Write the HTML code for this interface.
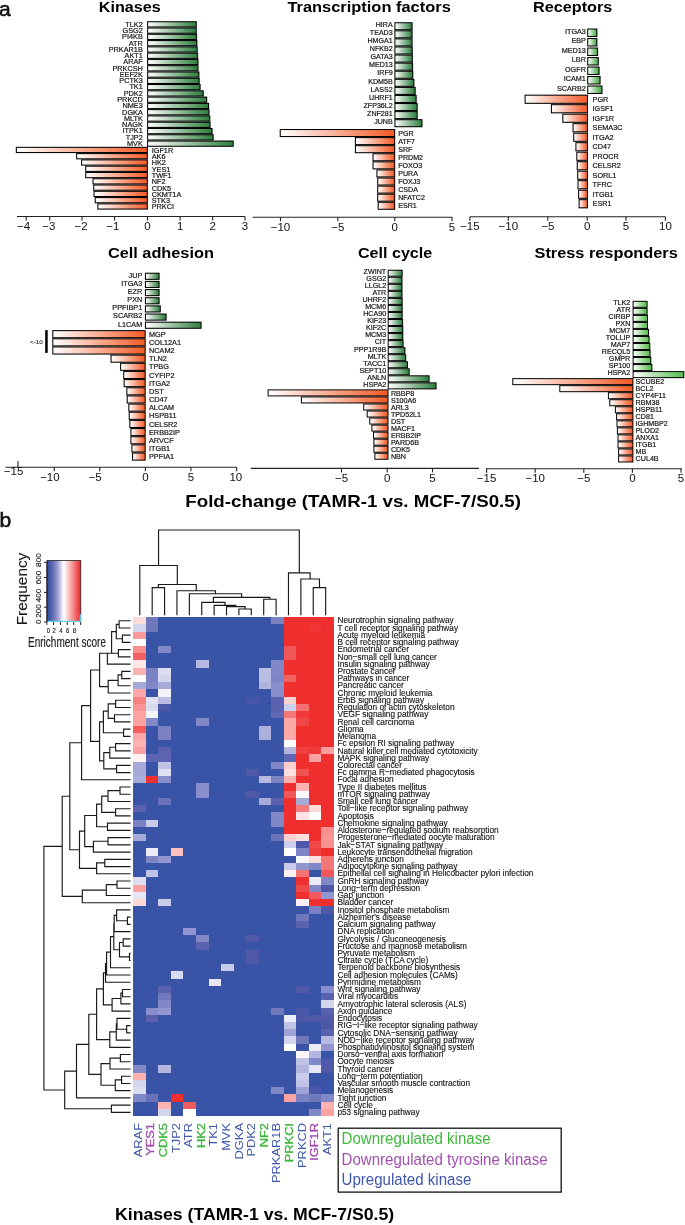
<!DOCTYPE html>
<html><head><meta charset="utf-8"><style>
html,body{margin:0;padding:0;background:#fff;}
svg{display:block;font-family:"Liberation Sans",sans-serif;will-change:transform;}
</style></head><body>
<svg width="685" height="1225" viewBox="0 0 685 1225">
<rect width="685" height="1225" fill="#fff"/>
<linearGradient id="gk" x1="0" x2="1" y1="0" y2="0"><stop offset="0" stop-color="#ffffff"/><stop offset="1" stop-color="#2f7f3f"/></linearGradient>
<linearGradient id="rk" x1="0" x2="1" y1="0" y2="0"><stop offset="0" stop-color="#ffffff"/><stop offset="1" stop-color="#f45a26"/></linearGradient>
<rect x="147.10" y="21.20" width="49.70" height="6.28" fill="#000"/>
<rect x="148.15" y="22.25" width="47.60" height="4.18" fill="url(#gk)"/>
<text x="142.80" y="26.67" font-size="7.3" text-anchor="end" fill="#1a1a1a" stroke="#111" stroke-width="0.2">TLK2</text>
<rect x="147.10" y="27.48" width="49.70" height="6.28" fill="#000"/>
<rect x="148.15" y="28.53" width="47.60" height="4.18" fill="url(#gk)"/>
<text x="142.80" y="32.95" font-size="7.3" text-anchor="end" fill="#1a1a1a" stroke="#111" stroke-width="0.2">GSG2</text>
<rect x="147.10" y="33.76" width="50.00" height="6.28" fill="#000"/>
<rect x="148.15" y="34.81" width="47.90" height="4.18" fill="url(#gk)"/>
<text x="142.80" y="39.23" font-size="7.3" text-anchor="end" fill="#1a1a1a" stroke="#111" stroke-width="0.2">PI4KB</text>
<rect x="147.10" y="40.04" width="50.30" height="6.28" fill="#000"/>
<rect x="148.15" y="41.09" width="48.20" height="4.18" fill="url(#gk)"/>
<text x="142.80" y="45.51" font-size="7.3" text-anchor="end" fill="#1a1a1a" stroke="#111" stroke-width="0.2">ATR</text>
<rect x="147.10" y="46.32" width="50.60" height="6.28" fill="#000"/>
<rect x="148.15" y="47.37" width="48.50" height="4.18" fill="url(#gk)"/>
<text x="142.80" y="51.79" font-size="7.3" text-anchor="end" fill="#1a1a1a" stroke="#111" stroke-width="0.2">PRKAR1B</text>
<rect x="147.10" y="52.60" width="51.00" height="6.28" fill="#000"/>
<rect x="148.15" y="53.65" width="48.90" height="4.18" fill="url(#gk)"/>
<text x="142.80" y="58.07" font-size="7.3" text-anchor="end" fill="#1a1a1a" stroke="#111" stroke-width="0.2">AKT1</text>
<rect x="147.10" y="58.88" width="51.40" height="6.28" fill="#000"/>
<rect x="148.15" y="59.93" width="49.30" height="4.18" fill="url(#gk)"/>
<text x="142.80" y="64.35" font-size="7.3" text-anchor="end" fill="#1a1a1a" stroke="#111" stroke-width="0.2">ARAF</text>
<rect x="147.10" y="65.16" width="51.40" height="6.28" fill="#000"/>
<rect x="148.15" y="66.21" width="49.30" height="4.18" fill="url(#gk)"/>
<text x="142.80" y="70.63" font-size="7.3" text-anchor="end" fill="#1a1a1a" stroke="#111" stroke-width="0.2">PRKCSH</text>
<rect x="147.10" y="71.44" width="52.30" height="6.28" fill="#000"/>
<rect x="148.15" y="72.49" width="50.20" height="4.18" fill="url(#gk)"/>
<text x="142.80" y="76.91" font-size="7.3" text-anchor="end" fill="#1a1a1a" stroke="#111" stroke-width="0.2">EEF2K</text>
<rect x="147.10" y="77.72" width="52.60" height="6.28" fill="#000"/>
<rect x="148.15" y="78.77" width="50.50" height="4.18" fill="url(#gk)"/>
<text x="142.80" y="83.19" font-size="7.3" text-anchor="end" fill="#1a1a1a" stroke="#111" stroke-width="0.2">PCTK3</text>
<rect x="147.10" y="84.00" width="53.50" height="6.28" fill="#000"/>
<rect x="148.15" y="85.05" width="51.40" height="4.18" fill="url(#gk)"/>
<text x="142.80" y="89.47" font-size="7.3" text-anchor="end" fill="#1a1a1a" stroke="#111" stroke-width="0.2">TK1</text>
<rect x="147.10" y="90.28" width="56.70" height="6.28" fill="#000"/>
<rect x="148.15" y="91.33" width="54.60" height="4.18" fill="url(#gk)"/>
<text x="142.80" y="95.75" font-size="7.3" text-anchor="end" fill="#1a1a1a" stroke="#111" stroke-width="0.2">PDK2</text>
<rect x="147.10" y="96.56" width="60.10" height="6.28" fill="#000"/>
<rect x="148.15" y="97.61" width="58.00" height="4.18" fill="url(#gk)"/>
<text x="142.80" y="102.03" font-size="7.3" text-anchor="end" fill="#1a1a1a" stroke="#111" stroke-width="0.2">PRKCD</text>
<rect x="147.10" y="102.84" width="62.00" height="6.28" fill="#000"/>
<rect x="148.15" y="103.89" width="59.90" height="4.18" fill="url(#gk)"/>
<text x="142.80" y="108.31" font-size="7.3" text-anchor="end" fill="#1a1a1a" stroke="#111" stroke-width="0.2">NME3</text>
<rect x="147.10" y="109.12" width="62.40" height="6.28" fill="#000"/>
<rect x="148.15" y="110.17" width="60.30" height="4.18" fill="url(#gk)"/>
<text x="142.80" y="114.59" font-size="7.3" text-anchor="end" fill="#1a1a1a" stroke="#111" stroke-width="0.2">DGKA</text>
<rect x="147.10" y="115.40" width="63.20" height="6.28" fill="#000"/>
<rect x="148.15" y="116.45" width="61.10" height="4.18" fill="url(#gk)"/>
<text x="142.80" y="120.87" font-size="7.3" text-anchor="end" fill="#1a1a1a" stroke="#111" stroke-width="0.2">MLTK</text>
<rect x="147.10" y="121.68" width="63.50" height="6.28" fill="#000"/>
<rect x="148.15" y="122.73" width="61.40" height="4.18" fill="url(#gk)"/>
<text x="142.80" y="127.15" font-size="7.3" text-anchor="end" fill="#1a1a1a" stroke="#111" stroke-width="0.2">NAGK</text>
<rect x="147.10" y="127.96" width="65.50" height="6.28" fill="#000"/>
<rect x="148.15" y="129.01" width="63.40" height="4.18" fill="url(#gk)"/>
<text x="142.80" y="133.43" font-size="7.3" text-anchor="end" fill="#1a1a1a" stroke="#111" stroke-width="0.2">ITPK1</text>
<rect x="147.10" y="134.24" width="66.60" height="6.28" fill="#000"/>
<rect x="148.15" y="135.29" width="64.50" height="4.18" fill="url(#gk)"/>
<text x="142.80" y="139.71" font-size="7.3" text-anchor="end" fill="#1a1a1a" stroke="#111" stroke-width="0.2">TJP2</text>
<rect x="147.10" y="140.52" width="86.60" height="6.28" fill="#000"/>
<rect x="148.15" y="141.57" width="84.50" height="4.18" fill="url(#gk)"/>
<text x="142.80" y="145.99" font-size="7.3" text-anchor="end" fill="#1a1a1a" stroke="#111" stroke-width="0.2">MVK</text>
<rect x="15.80" y="146.80" width="132.10" height="6.28" fill="#000"/>
<rect x="16.85" y="147.85" width="130.00" height="4.18" fill="url(#rk)"/>
<text x="151.70" y="152.87" font-size="7.3" text-anchor="start" fill="#1a1a1a" stroke="#111" stroke-width="0.2">IGF1R</text>
<rect x="76.10" y="153.08" width="71.80" height="6.28" fill="#000"/>
<rect x="77.15" y="154.13" width="69.70" height="4.18" fill="url(#rk)"/>
<text x="151.70" y="159.15" font-size="7.3" text-anchor="start" fill="#1a1a1a" stroke="#111" stroke-width="0.2">AK6</text>
<rect x="81.10" y="159.36" width="66.80" height="6.28" fill="#000"/>
<rect x="82.15" y="160.41" width="64.70" height="4.18" fill="url(#rk)"/>
<text x="151.70" y="165.43" font-size="7.3" text-anchor="start" fill="#1a1a1a" stroke="#111" stroke-width="0.2">HK2</text>
<rect x="85.20" y="165.64" width="62.70" height="6.28" fill="#000"/>
<rect x="86.25" y="166.69" width="60.60" height="4.18" fill="url(#rk)"/>
<text x="151.70" y="171.71" font-size="7.3" text-anchor="start" fill="#1a1a1a" stroke="#111" stroke-width="0.2">YES1</text>
<rect x="85.20" y="171.92" width="62.70" height="6.28" fill="#000"/>
<rect x="86.25" y="172.97" width="60.60" height="4.18" fill="url(#rk)"/>
<text x="151.70" y="177.99" font-size="7.3" text-anchor="start" fill="#1a1a1a" stroke="#111" stroke-width="0.2">TWF1</text>
<rect x="92.50" y="178.20" width="55.40" height="6.28" fill="#000"/>
<rect x="93.55" y="179.25" width="53.30" height="4.18" fill="url(#rk)"/>
<text x="151.70" y="184.27" font-size="7.3" text-anchor="start" fill="#1a1a1a" stroke="#111" stroke-width="0.2">NF2</text>
<rect x="93.20" y="184.48" width="54.70" height="6.28" fill="#000"/>
<rect x="94.25" y="185.53" width="52.60" height="4.18" fill="url(#rk)"/>
<text x="151.70" y="190.55" font-size="7.3" text-anchor="start" fill="#1a1a1a" stroke="#111" stroke-width="0.2">CDK5</text>
<rect x="93.50" y="190.76" width="54.40" height="6.28" fill="#000"/>
<rect x="94.55" y="191.81" width="52.30" height="4.18" fill="url(#rk)"/>
<text x="151.70" y="196.83" font-size="7.3" text-anchor="start" fill="#1a1a1a" stroke="#111" stroke-width="0.2">CKMT1A</text>
<rect x="94.70" y="197.04" width="53.20" height="6.28" fill="#000"/>
<rect x="95.75" y="198.09" width="51.10" height="4.18" fill="url(#rk)"/>
<text x="151.70" y="203.11" font-size="7.3" text-anchor="start" fill="#1a1a1a" stroke="#111" stroke-width="0.2">STK3</text>
<rect x="97.30" y="203.32" width="50.60" height="6.28" fill="#000"/>
<rect x="98.35" y="204.37" width="48.50" height="4.18" fill="url(#rk)"/>
<text x="151.70" y="209.39" font-size="7.3" text-anchor="start" fill="#1a1a1a" stroke="#111" stroke-width="0.2">PRKCI</text>
<line x1="17.00" y1="216.50" x2="245.00" y2="216.50" stroke="#222" stroke-width="1.1"/>
<line x1="26.20" y1="216.50" x2="26.20" y2="220.50" stroke="#222" stroke-width="1.1"/>
<text x="23.50" y="230.00" font-size="11.5" text-anchor="middle" fill="#111">−4</text>
<line x1="49.70" y1="216.50" x2="49.70" y2="220.50" stroke="#222" stroke-width="1.1"/>
<text x="48.90" y="230.00" font-size="11.5" text-anchor="middle" fill="#111">−3</text>
<line x1="82.00" y1="216.50" x2="82.00" y2="220.50" stroke="#222" stroke-width="1.1"/>
<text x="81.10" y="230.00" font-size="11.5" text-anchor="middle" fill="#111">−2</text>
<line x1="114.60" y1="216.50" x2="114.60" y2="220.50" stroke="#222" stroke-width="1.1"/>
<text x="112.90" y="230.00" font-size="11.5" text-anchor="middle" fill="#111">−1</text>
<line x1="147.40" y1="216.50" x2="147.40" y2="220.50" stroke="#222" stroke-width="1.1"/>
<text x="147.40" y="230.00" font-size="11.5" text-anchor="middle" fill="#111">0</text>
<line x1="180.10" y1="216.50" x2="180.10" y2="220.50" stroke="#222" stroke-width="1.1"/>
<text x="180.10" y="230.00" font-size="11.5" text-anchor="middle" fill="#111">1</text>
<line x1="212.70" y1="216.50" x2="212.70" y2="220.50" stroke="#222" stroke-width="1.1"/>
<text x="212.70" y="230.00" font-size="11.5" text-anchor="middle" fill="#111">2</text>
<line x1="245.00" y1="216.50" x2="245.00" y2="220.50" stroke="#222" stroke-width="1.1"/>
<text x="245.00" y="230.00" font-size="11.5" text-anchor="middle" fill="#111">3</text>
<text x="98.80" y="11.70" font-size="15.2" text-anchor="start" fill="#000" font-weight="bold" textLength="62.00" lengthAdjust="spacingAndGlyphs">Kinases</text>
<linearGradient id="gt" x1="0" x2="1" y1="0" y2="0"><stop offset="0" stop-color="#ffffff"/><stop offset="1" stop-color="#2f7f3f"/></linearGradient>
<linearGradient id="rt" x1="0" x2="1" y1="0" y2="0"><stop offset="0" stop-color="#ffffff"/><stop offset="1" stop-color="#f45a26"/></linearGradient>
<rect x="394.40" y="22.20" width="18.20" height="8.08" fill="#000"/>
<rect x="395.45" y="23.25" width="16.10" height="5.98" fill="url(#gt)"/>
<text x="392.70" y="26.95" font-size="7.1" text-anchor="end" fill="#1a1a1a" stroke="#111" stroke-width="0.2">HIRA</text>
<rect x="394.40" y="30.28" width="18.20" height="8.08" fill="#000"/>
<rect x="395.45" y="31.33" width="16.10" height="5.98" fill="url(#gt)"/>
<text x="392.70" y="35.03" font-size="7.1" text-anchor="end" fill="#1a1a1a" stroke="#111" stroke-width="0.2">TEAD3</text>
<rect x="394.40" y="38.36" width="18.20" height="8.08" fill="#000"/>
<rect x="395.45" y="39.41" width="16.10" height="5.98" fill="url(#gt)"/>
<text x="392.70" y="43.11" font-size="7.1" text-anchor="end" fill="#1a1a1a" stroke="#111" stroke-width="0.2">HMGA1</text>
<rect x="394.40" y="46.44" width="18.40" height="8.08" fill="#000"/>
<rect x="395.45" y="47.49" width="16.30" height="5.98" fill="url(#gt)"/>
<text x="392.70" y="51.19" font-size="7.1" text-anchor="end" fill="#1a1a1a" stroke="#111" stroke-width="0.2">NFKB2</text>
<rect x="394.40" y="54.52" width="18.50" height="8.08" fill="#000"/>
<rect x="395.45" y="55.57" width="16.40" height="5.98" fill="url(#gt)"/>
<text x="392.70" y="59.27" font-size="7.1" text-anchor="end" fill="#1a1a1a" stroke="#111" stroke-width="0.2">GATA3</text>
<rect x="394.40" y="62.60" width="18.70" height="8.08" fill="#000"/>
<rect x="395.45" y="63.65" width="16.60" height="5.98" fill="url(#gt)"/>
<text x="392.70" y="67.35" font-size="7.1" text-anchor="end" fill="#1a1a1a" stroke="#111" stroke-width="0.2">MED13</text>
<rect x="394.40" y="70.68" width="18.90" height="8.08" fill="#000"/>
<rect x="395.45" y="71.73" width="16.80" height="5.98" fill="url(#gt)"/>
<text x="392.70" y="75.43" font-size="7.1" text-anchor="end" fill="#1a1a1a" stroke="#111" stroke-width="0.2">IRF9</text>
<rect x="394.40" y="78.76" width="20.00" height="8.08" fill="#000"/>
<rect x="395.45" y="79.81" width="17.90" height="5.98" fill="url(#gt)"/>
<text x="392.70" y="83.51" font-size="7.1" text-anchor="end" fill="#1a1a1a" stroke="#111" stroke-width="0.2">KDM5B</text>
<rect x="394.40" y="86.84" width="21.30" height="8.08" fill="#000"/>
<rect x="395.45" y="87.89" width="19.20" height="5.98" fill="url(#gt)"/>
<text x="392.70" y="91.59" font-size="7.1" text-anchor="end" fill="#1a1a1a" stroke="#111" stroke-width="0.2">LASS2</text>
<rect x="394.40" y="94.92" width="22.30" height="8.08" fill="#000"/>
<rect x="395.45" y="95.97" width="20.20" height="5.98" fill="url(#gt)"/>
<text x="392.70" y="99.67" font-size="7.1" text-anchor="end" fill="#1a1a1a" stroke="#111" stroke-width="0.2">UHRF1</text>
<rect x="394.40" y="103.00" width="23.30" height="8.08" fill="#000"/>
<rect x="395.45" y="104.05" width="21.20" height="5.98" fill="url(#gt)"/>
<text x="392.70" y="107.75" font-size="7.1" text-anchor="end" fill="#1a1a1a" stroke="#111" stroke-width="0.2">ZFP36L2</text>
<rect x="394.40" y="111.08" width="23.30" height="8.08" fill="#000"/>
<rect x="395.45" y="112.13" width="21.20" height="5.98" fill="url(#gt)"/>
<text x="392.70" y="115.83" font-size="7.1" text-anchor="end" fill="#1a1a1a" stroke="#111" stroke-width="0.2">ZNF281</text>
<rect x="394.40" y="119.16" width="28.10" height="8.08" fill="#000"/>
<rect x="395.45" y="120.21" width="26.00" height="5.98" fill="url(#gt)"/>
<text x="392.70" y="123.91" font-size="7.1" text-anchor="end" fill="#1a1a1a" stroke="#111" stroke-width="0.2">JUNB</text>
<rect x="279.70" y="129.00" width="115.50" height="8.08" fill="#000"/>
<rect x="280.75" y="130.05" width="113.40" height="5.98" fill="url(#rt)"/>
<text x="398.20" y="135.60" font-size="7.1" text-anchor="start" fill="#1a1a1a" stroke="#111" stroke-width="0.2">PGR</text>
<rect x="354.90" y="137.08" width="40.30" height="8.08" fill="#000"/>
<rect x="355.95" y="138.13" width="38.20" height="5.98" fill="url(#rt)"/>
<text x="398.20" y="143.68" font-size="7.1" text-anchor="start" fill="#1a1a1a" stroke="#111" stroke-width="0.2">ATF7</text>
<rect x="354.90" y="145.16" width="40.30" height="8.08" fill="#000"/>
<rect x="355.95" y="146.21" width="38.20" height="5.98" fill="url(#rt)"/>
<text x="398.20" y="151.76" font-size="7.1" text-anchor="start" fill="#1a1a1a" stroke="#111" stroke-width="0.2">SRF</text>
<rect x="372.50" y="153.24" width="22.70" height="8.08" fill="#000"/>
<rect x="373.55" y="154.29" width="20.60" height="5.98" fill="url(#rt)"/>
<text x="398.20" y="159.84" font-size="7.1" text-anchor="start" fill="#1a1a1a" stroke="#111" stroke-width="0.2">PRDM2</text>
<rect x="372.50" y="161.32" width="22.70" height="8.08" fill="#000"/>
<rect x="373.55" y="162.37" width="20.60" height="5.98" fill="url(#rt)"/>
<text x="398.20" y="167.92" font-size="7.1" text-anchor="start" fill="#1a1a1a" stroke="#111" stroke-width="0.2">FOXO3</text>
<rect x="376.40" y="169.40" width="18.80" height="8.08" fill="#000"/>
<rect x="377.45" y="170.45" width="16.70" height="5.98" fill="url(#rt)"/>
<text x="398.20" y="176.00" font-size="7.1" text-anchor="start" fill="#1a1a1a" stroke="#111" stroke-width="0.2">PURA</text>
<rect x="377.20" y="177.48" width="18.00" height="8.08" fill="#000"/>
<rect x="378.25" y="178.53" width="15.90" height="5.98" fill="url(#rt)"/>
<text x="398.20" y="184.08" font-size="7.1" text-anchor="start" fill="#1a1a1a" stroke="#111" stroke-width="0.2">FOXJ3</text>
<rect x="377.20" y="185.56" width="18.00" height="8.08" fill="#000"/>
<rect x="378.25" y="186.61" width="15.90" height="5.98" fill="url(#rt)"/>
<text x="398.20" y="192.16" font-size="7.1" text-anchor="start" fill="#1a1a1a" stroke="#111" stroke-width="0.2">CSDA</text>
<rect x="377.20" y="193.64" width="18.00" height="8.08" fill="#000"/>
<rect x="378.25" y="194.69" width="15.90" height="5.98" fill="url(#rt)"/>
<text x="398.20" y="200.24" font-size="7.1" text-anchor="start" fill="#1a1a1a" stroke="#111" stroke-width="0.2">NFATC2</text>
<rect x="377.70" y="201.72" width="17.50" height="8.08" fill="#000"/>
<rect x="378.75" y="202.77" width="15.40" height="5.98" fill="url(#rt)"/>
<text x="398.20" y="208.32" font-size="7.1" text-anchor="start" fill="#1a1a1a" stroke="#111" stroke-width="0.2">ESR1</text>
<line x1="252.60" y1="217.20" x2="452.30" y2="217.20" stroke="#222" stroke-width="1.1"/>
<line x1="280.50" y1="217.20" x2="280.50" y2="221.20" stroke="#222" stroke-width="1.1"/>
<text x="280.50" y="230.70" font-size="11.5" text-anchor="middle" fill="#111">−10</text>
<line x1="337.80" y1="217.20" x2="337.80" y2="221.20" stroke="#222" stroke-width="1.1"/>
<text x="337.80" y="230.70" font-size="11.5" text-anchor="middle" fill="#111">−5</text>
<line x1="394.80" y1="217.20" x2="394.80" y2="221.20" stroke="#222" stroke-width="1.1"/>
<text x="394.80" y="230.70" font-size="11.5" text-anchor="middle" fill="#111">0</text>
<line x1="452.00" y1="217.20" x2="452.00" y2="221.20" stroke="#222" stroke-width="1.1"/>
<text x="452.00" y="230.70" font-size="11.5" text-anchor="middle" fill="#111">5</text>
<text x="287.40" y="12.10" font-size="15.2" text-anchor="start" fill="#000" font-weight="bold" textLength="163.40" lengthAdjust="spacingAndGlyphs">Transcription factors</text>
<linearGradient id="gr" x1="0" x2="1" y1="0" y2="0"><stop offset="0" stop-color="#ffffff"/><stop offset="1" stop-color="#48a848"/></linearGradient>
<linearGradient id="rr" x1="0" x2="1" y1="0" y2="0"><stop offset="0" stop-color="#ffffff"/><stop offset="1" stop-color="#f45a26"/></linearGradient>
<rect x="587.20" y="28.50" width="10.20" height="8.50" fill="#000"/>
<rect x="588.25" y="29.55" width="8.10" height="6.40" fill="url(#gr)"/>
<text x="585.90" y="33.76" font-size="7.25" text-anchor="end" fill="#1a1a1a" stroke="#111" stroke-width="0.2">ITGA3</text>
<rect x="587.20" y="38.00" width="10.20" height="8.50" fill="#000"/>
<rect x="588.25" y="39.05" width="8.10" height="6.40" fill="url(#gr)"/>
<text x="585.90" y="43.26" font-size="7.25" text-anchor="end" fill="#1a1a1a" stroke="#111" stroke-width="0.2">EBP</text>
<rect x="587.20" y="47.50" width="10.90" height="8.50" fill="#000"/>
<rect x="588.25" y="48.55" width="8.80" height="6.40" fill="url(#gr)"/>
<text x="585.90" y="52.76" font-size="7.25" text-anchor="end" fill="#1a1a1a" stroke="#111" stroke-width="0.2">MED13</text>
<rect x="587.20" y="57.00" width="11.60" height="8.50" fill="#000"/>
<rect x="588.25" y="58.05" width="9.50" height="6.40" fill="url(#gr)"/>
<text x="585.90" y="62.26" font-size="7.25" text-anchor="end" fill="#1a1a1a" stroke="#111" stroke-width="0.2">LBR</text>
<rect x="587.20" y="66.50" width="12.40" height="8.50" fill="#000"/>
<rect x="588.25" y="67.55" width="10.30" height="6.40" fill="url(#gr)"/>
<text x="585.90" y="71.76" font-size="7.25" text-anchor="end" fill="#1a1a1a" stroke="#111" stroke-width="0.2">OGFR</text>
<rect x="587.20" y="76.00" width="13.40" height="8.50" fill="#000"/>
<rect x="588.25" y="77.05" width="11.30" height="6.40" fill="url(#gr)"/>
<text x="585.90" y="81.26" font-size="7.25" text-anchor="end" fill="#1a1a1a" stroke="#111" stroke-width="0.2">ICAM1</text>
<rect x="587.20" y="85.50" width="15.30" height="8.50" fill="#000"/>
<rect x="588.25" y="86.55" width="13.20" height="6.40" fill="url(#gr)"/>
<text x="585.90" y="90.76" font-size="7.25" text-anchor="end" fill="#1a1a1a" stroke="#111" stroke-width="0.2">SCARB2</text>
<rect x="524.60" y="94.65" width="63.40" height="9.20" fill="#000"/>
<rect x="525.65" y="95.70" width="61.30" height="7.10" fill="url(#rr)"/>
<text x="592.60" y="101.86" font-size="7.25" text-anchor="start" fill="#1a1a1a" stroke="#111" stroke-width="0.2">PGR</text>
<rect x="550.90" y="104.15" width="37.10" height="9.20" fill="#000"/>
<rect x="551.95" y="105.20" width="35.00" height="7.10" fill="url(#rr)"/>
<text x="592.60" y="111.36" font-size="7.25" text-anchor="start" fill="#1a1a1a" stroke="#111" stroke-width="0.2">IGSF1</text>
<rect x="562.30" y="113.65" width="25.70" height="9.20" fill="#000"/>
<rect x="563.35" y="114.70" width="23.60" height="7.10" fill="url(#rr)"/>
<text x="592.60" y="120.86" font-size="7.25" text-anchor="start" fill="#1a1a1a" stroke="#111" stroke-width="0.2">IGF1R</text>
<rect x="572.50" y="123.15" width="15.50" height="9.20" fill="#000"/>
<rect x="573.55" y="124.20" width="13.40" height="7.10" fill="url(#rr)"/>
<text x="592.60" y="130.36" font-size="7.25" text-anchor="start" fill="#1a1a1a" stroke="#111" stroke-width="0.2">SEMA3C</text>
<rect x="573.20" y="132.65" width="14.80" height="9.20" fill="#000"/>
<rect x="574.25" y="133.70" width="12.70" height="7.10" fill="url(#rr)"/>
<text x="592.60" y="139.86" font-size="7.25" text-anchor="start" fill="#1a1a1a" stroke="#111" stroke-width="0.2">ITGA2</text>
<rect x="575.40" y="142.15" width="12.60" height="9.20" fill="#000"/>
<rect x="576.45" y="143.20" width="10.50" height="7.10" fill="url(#rr)"/>
<text x="592.60" y="149.36" font-size="7.25" text-anchor="start" fill="#1a1a1a" stroke="#111" stroke-width="0.2">CD47</text>
<rect x="576.30" y="151.65" width="11.70" height="9.20" fill="#000"/>
<rect x="577.35" y="152.70" width="9.60" height="7.10" fill="url(#rr)"/>
<text x="592.60" y="158.86" font-size="7.25" text-anchor="start" fill="#1a1a1a" stroke="#111" stroke-width="0.2">PROCR</text>
<rect x="576.70" y="161.15" width="11.30" height="9.20" fill="#000"/>
<rect x="577.75" y="162.20" width="9.20" height="7.10" fill="url(#rr)"/>
<text x="592.60" y="168.36" font-size="7.25" text-anchor="start" fill="#1a1a1a" stroke="#111" stroke-width="0.2">CELSR2</text>
<rect x="577.20" y="170.65" width="10.80" height="9.20" fill="#000"/>
<rect x="578.25" y="171.70" width="8.70" height="7.10" fill="url(#rr)"/>
<text x="592.60" y="177.86" font-size="7.25" text-anchor="start" fill="#1a1a1a" stroke="#111" stroke-width="0.2">SORL1</text>
<rect x="577.50" y="180.15" width="10.50" height="9.20" fill="#000"/>
<rect x="578.55" y="181.20" width="8.40" height="7.10" fill="url(#rr)"/>
<text x="592.60" y="187.36" font-size="7.25" text-anchor="start" fill="#1a1a1a" stroke="#111" stroke-width="0.2">TFRC</text>
<rect x="578.10" y="189.65" width="9.90" height="9.20" fill="#000"/>
<rect x="579.15" y="190.70" width="7.80" height="7.10" fill="url(#rr)"/>
<text x="592.60" y="196.86" font-size="7.25" text-anchor="start" fill="#1a1a1a" stroke="#111" stroke-width="0.2">ITGB1</text>
<rect x="578.60" y="199.15" width="9.40" height="9.20" fill="#000"/>
<rect x="579.65" y="200.20" width="7.30" height="7.10" fill="url(#rr)"/>
<text x="592.60" y="206.36" font-size="7.25" text-anchor="start" fill="#1a1a1a" stroke="#111" stroke-width="0.2">ESR1</text>
<line x1="469.90" y1="216.80" x2="665.40" y2="216.80" stroke="#222" stroke-width="1.1"/>
<line x1="469.90" y1="216.80" x2="469.90" y2="220.80" stroke="#222" stroke-width="1.1"/>
<text x="469.90" y="230.30" font-size="11.5" text-anchor="middle" fill="#111">−15</text>
<line x1="508.30" y1="216.80" x2="508.30" y2="220.80" stroke="#222" stroke-width="1.1"/>
<text x="508.30" y="230.30" font-size="11.5" text-anchor="middle" fill="#111">−10</text>
<line x1="547.80" y1="216.80" x2="547.80" y2="220.80" stroke="#222" stroke-width="1.1"/>
<text x="547.80" y="230.30" font-size="11.5" text-anchor="middle" fill="#111">−5</text>
<line x1="587.20" y1="216.80" x2="587.20" y2="220.80" stroke="#222" stroke-width="1.1"/>
<text x="587.20" y="230.30" font-size="11.5" text-anchor="middle" fill="#111">0</text>
<line x1="626.00" y1="216.80" x2="626.00" y2="220.80" stroke="#222" stroke-width="1.1"/>
<text x="626.00" y="230.30" font-size="11.5" text-anchor="middle" fill="#111">5</text>
<line x1="665.40" y1="216.80" x2="665.40" y2="220.80" stroke="#222" stroke-width="1.1"/>
<text x="665.40" y="230.30" font-size="11.5" text-anchor="middle" fill="#111">10</text>
<text x="533.10" y="12.30" font-size="15.2" text-anchor="start" fill="#000" font-weight="bold" textLength="79.20" lengthAdjust="spacingAndGlyphs">Receptors</text>
<linearGradient id="ga" x1="0" x2="1" y1="0" y2="0"><stop offset="0" stop-color="#ffffff"/><stop offset="1" stop-color="#2f7f3f"/></linearGradient>
<linearGradient id="ra" x1="0" x2="1" y1="0" y2="0"><stop offset="0" stop-color="#ffffff"/><stop offset="1" stop-color="#f45a26"/></linearGradient>
<rect x="144.90" y="272.70" width="14.70" height="7.16" fill="#000"/>
<rect x="145.95" y="273.75" width="12.60" height="5.06" fill="url(#ga)"/>
<text x="142.30" y="277.61" font-size="7.3" text-anchor="end" fill="#1a1a1a" stroke="#111" stroke-width="0.2">JUP</text>
<rect x="144.90" y="280.86" width="14.70" height="7.16" fill="#000"/>
<rect x="145.95" y="281.91" width="12.60" height="5.06" fill="url(#ga)"/>
<text x="142.30" y="285.77" font-size="7.3" text-anchor="end" fill="#1a1a1a" stroke="#111" stroke-width="0.2">ITGA3</text>
<rect x="144.90" y="289.02" width="14.70" height="7.16" fill="#000"/>
<rect x="145.95" y="290.07" width="12.60" height="5.06" fill="url(#ga)"/>
<text x="142.30" y="293.93" font-size="7.3" text-anchor="end" fill="#1a1a1a" stroke="#111" stroke-width="0.2">EZR</text>
<rect x="144.90" y="297.18" width="14.70" height="7.16" fill="#000"/>
<rect x="145.95" y="298.23" width="12.60" height="5.06" fill="url(#ga)"/>
<text x="142.30" y="302.09" font-size="7.3" text-anchor="end" fill="#1a1a1a" stroke="#111" stroke-width="0.2">PXN</text>
<rect x="144.90" y="305.34" width="15.90" height="7.16" fill="#000"/>
<rect x="145.95" y="306.39" width="13.80" height="5.06" fill="url(#ga)"/>
<text x="142.30" y="310.25" font-size="7.3" text-anchor="end" fill="#1a1a1a" stroke="#111" stroke-width="0.2">PPFIBP1</text>
<rect x="144.90" y="313.50" width="21.70" height="7.16" fill="#000"/>
<rect x="145.95" y="314.55" width="19.60" height="5.06" fill="url(#ga)"/>
<text x="142.30" y="318.41" font-size="7.3" text-anchor="end" fill="#1a1a1a" stroke="#111" stroke-width="0.2">SCARB2</text>
<rect x="144.90" y="321.66" width="56.70" height="7.16" fill="#000"/>
<rect x="145.95" y="322.71" width="54.60" height="5.06" fill="url(#ga)"/>
<text x="142.30" y="326.57" font-size="7.3" text-anchor="end" fill="#1a1a1a" stroke="#111" stroke-width="0.2">L1CAM</text>
<rect x="52.30" y="330.10" width="93.40" height="8.16" fill="#000"/>
<rect x="53.35" y="331.15" width="91.30" height="6.06" fill="url(#ra)"/>
<text x="149.00" y="336.81" font-size="7.3" text-anchor="start" fill="#1a1a1a" stroke="#111" stroke-width="0.2">MGP</text>
<rect x="52.30" y="338.26" width="93.40" height="8.16" fill="#000"/>
<rect x="53.35" y="339.31" width="91.30" height="6.06" fill="url(#ra)"/>
<text x="149.00" y="344.97" font-size="7.3" text-anchor="start" fill="#1a1a1a" stroke="#111" stroke-width="0.2">COL12A1</text>
<rect x="52.30" y="346.42" width="93.40" height="8.16" fill="#000"/>
<rect x="53.35" y="347.47" width="91.30" height="6.06" fill="url(#ra)"/>
<text x="149.00" y="353.13" font-size="7.3" text-anchor="start" fill="#1a1a1a" stroke="#111" stroke-width="0.2">NCAM2</text>
<rect x="110.50" y="354.58" width="35.20" height="8.16" fill="#000"/>
<rect x="111.55" y="355.63" width="33.10" height="6.06" fill="url(#ra)"/>
<text x="149.00" y="361.29" font-size="7.3" text-anchor="start" fill="#1a1a1a" stroke="#111" stroke-width="0.2">TLN2</text>
<rect x="120.10" y="362.74" width="25.60" height="8.16" fill="#000"/>
<rect x="121.15" y="363.79" width="23.50" height="6.06" fill="url(#ra)"/>
<text x="149.00" y="369.45" font-size="7.3" text-anchor="start" fill="#1a1a1a" stroke="#111" stroke-width="0.2">TPBG</text>
<rect x="123.20" y="370.90" width="22.50" height="8.16" fill="#000"/>
<rect x="124.25" y="371.95" width="20.40" height="6.06" fill="url(#ra)"/>
<text x="149.00" y="377.61" font-size="7.3" text-anchor="start" fill="#1a1a1a" stroke="#111" stroke-width="0.2">CYFIP2</text>
<rect x="123.60" y="379.06" width="22.10" height="8.16" fill="#000"/>
<rect x="124.65" y="380.11" width="20.00" height="6.06" fill="url(#ra)"/>
<text x="149.00" y="385.77" font-size="7.3" text-anchor="start" fill="#1a1a1a" stroke="#111" stroke-width="0.2">ITGA2</text>
<rect x="126.30" y="387.22" width="19.40" height="8.16" fill="#000"/>
<rect x="127.35" y="388.27" width="17.30" height="6.06" fill="url(#ra)"/>
<text x="149.00" y="393.93" font-size="7.3" text-anchor="start" fill="#1a1a1a" stroke="#111" stroke-width="0.2">DST</text>
<rect x="126.70" y="395.38" width="19.00" height="8.16" fill="#000"/>
<rect x="127.75" y="396.43" width="16.90" height="6.06" fill="url(#ra)"/>
<text x="149.00" y="402.09" font-size="7.3" text-anchor="start" fill="#1a1a1a" stroke="#111" stroke-width="0.2">CD47</text>
<rect x="128.30" y="403.54" width="17.40" height="8.16" fill="#000"/>
<rect x="129.35" y="404.59" width="15.30" height="6.06" fill="url(#ra)"/>
<text x="149.00" y="410.25" font-size="7.3" text-anchor="start" fill="#1a1a1a" stroke="#111" stroke-width="0.2">ALCAM</text>
<rect x="128.70" y="411.70" width="17.00" height="8.16" fill="#000"/>
<rect x="129.75" y="412.75" width="14.90" height="6.06" fill="url(#ra)"/>
<text x="149.00" y="418.41" font-size="7.3" text-anchor="start" fill="#1a1a1a" stroke="#111" stroke-width="0.2">HSPB11</text>
<rect x="129.30" y="419.86" width="16.40" height="8.16" fill="#000"/>
<rect x="130.35" y="420.91" width="14.30" height="6.06" fill="url(#ra)"/>
<text x="149.00" y="426.57" font-size="7.3" text-anchor="start" fill="#1a1a1a" stroke="#111" stroke-width="0.2">CELSR2</text>
<rect x="130.40" y="428.02" width="15.30" height="8.16" fill="#000"/>
<rect x="131.45" y="429.07" width="13.20" height="6.06" fill="url(#ra)"/>
<text x="149.00" y="434.73" font-size="7.3" text-anchor="start" fill="#1a1a1a" stroke="#111" stroke-width="0.2">ERBB2IP</text>
<rect x="130.40" y="436.18" width="15.30" height="8.16" fill="#000"/>
<rect x="131.45" y="437.23" width="13.20" height="6.06" fill="url(#ra)"/>
<text x="149.00" y="442.89" font-size="7.3" text-anchor="start" fill="#1a1a1a" stroke="#111" stroke-width="0.2">ARVCF</text>
<rect x="131.40" y="444.34" width="14.30" height="8.16" fill="#000"/>
<rect x="132.45" y="445.39" width="12.20" height="6.06" fill="url(#ra)"/>
<text x="149.00" y="451.05" font-size="7.3" text-anchor="start" fill="#1a1a1a" stroke="#111" stroke-width="0.2">ITGB1</text>
<rect x="132.00" y="452.50" width="13.70" height="8.16" fill="#000"/>
<rect x="133.05" y="453.55" width="11.60" height="6.06" fill="url(#ra)"/>
<text x="149.00" y="459.21" font-size="7.3" text-anchor="start" fill="#1a1a1a" stroke="#111" stroke-width="0.2">PPFIA1</text>
<line x1="5.50" y1="467.30" x2="236.70" y2="467.30" stroke="#222" stroke-width="1.1"/>
<line x1="54.30" y1="467.30" x2="54.30" y2="471.30" stroke="#222" stroke-width="1.1"/>
<text x="49.90" y="480.80" font-size="11.5" text-anchor="middle" fill="#111">−10</text>
<line x1="99.80" y1="467.30" x2="99.80" y2="471.30" stroke="#222" stroke-width="1.1"/>
<text x="95.20" y="480.80" font-size="11.5" text-anchor="middle" fill="#111">−5</text>
<line x1="145.40" y1="467.30" x2="145.40" y2="471.30" stroke="#222" stroke-width="1.1"/>
<text x="145.40" y="480.80" font-size="11.5" text-anchor="middle" fill="#111">0</text>
<line x1="190.90" y1="467.30" x2="190.90" y2="471.30" stroke="#222" stroke-width="1.1"/>
<text x="190.90" y="480.80" font-size="11.5" text-anchor="middle" fill="#111">5</text>
<line x1="236.70" y1="467.30" x2="236.70" y2="471.30" stroke="#222" stroke-width="1.1"/>
<text x="235.80" y="480.80" font-size="11.5" text-anchor="middle" fill="#111">10</text>
<text x="107.90" y="258.10" font-size="15.2" text-anchor="start" fill="#000" font-weight="bold" textLength="106.00" lengthAdjust="spacingAndGlyphs">Cell adhesion</text>
<linearGradient id="gc" x1="0" x2="1" y1="0" y2="0"><stop offset="0" stop-color="#ffffff"/><stop offset="1" stop-color="#2f7f3f"/></linearGradient>
<linearGradient id="rc" x1="0" x2="1" y1="0" y2="0"><stop offset="0" stop-color="#ffffff"/><stop offset="1" stop-color="#f45a26"/></linearGradient>
<rect x="387.70" y="269.70" width="15.00" height="7.04" fill="#000"/>
<rect x="388.70" y="270.70" width="13.00" height="5.04" fill="url(#gc)"/>
<text x="386.20" y="274.09" font-size="7.15" text-anchor="end" fill="#1a1a1a" stroke="#111" stroke-width="0.2">ZWINT</text>
<rect x="387.70" y="276.74" width="14.80" height="7.04" fill="#000"/>
<rect x="388.70" y="277.74" width="12.80" height="5.04" fill="url(#gc)"/>
<text x="386.20" y="281.13" font-size="7.15" text-anchor="end" fill="#1a1a1a" stroke="#111" stroke-width="0.2">GSG2</text>
<rect x="387.70" y="283.78" width="14.80" height="7.04" fill="#000"/>
<rect x="388.70" y="284.78" width="12.80" height="5.04" fill="url(#gc)"/>
<text x="386.20" y="288.17" font-size="7.15" text-anchor="end" fill="#1a1a1a" stroke="#111" stroke-width="0.2">LLGL2</text>
<rect x="387.70" y="290.82" width="14.80" height="7.04" fill="#000"/>
<rect x="388.70" y="291.82" width="12.80" height="5.04" fill="url(#gc)"/>
<text x="386.20" y="295.21" font-size="7.15" text-anchor="end" fill="#1a1a1a" stroke="#111" stroke-width="0.2">ATR</text>
<rect x="387.70" y="297.86" width="15.00" height="7.04" fill="#000"/>
<rect x="388.70" y="298.86" width="13.00" height="5.04" fill="url(#gc)"/>
<text x="386.20" y="302.25" font-size="7.15" text-anchor="end" fill="#1a1a1a" stroke="#111" stroke-width="0.2">UHRF2</text>
<rect x="387.70" y="304.90" width="15.00" height="7.04" fill="#000"/>
<rect x="388.70" y="305.90" width="13.00" height="5.04" fill="url(#gc)"/>
<text x="386.20" y="309.29" font-size="7.15" text-anchor="end" fill="#1a1a1a" stroke="#111" stroke-width="0.2">MCM6</text>
<rect x="387.70" y="311.94" width="15.00" height="7.04" fill="#000"/>
<rect x="388.70" y="312.94" width="13.00" height="5.04" fill="url(#gc)"/>
<text x="386.20" y="316.33" font-size="7.15" text-anchor="end" fill="#1a1a1a" stroke="#111" stroke-width="0.2">HCA90</text>
<rect x="387.70" y="318.98" width="15.40" height="7.04" fill="#000"/>
<rect x="388.70" y="319.98" width="13.40" height="5.04" fill="url(#gc)"/>
<text x="386.20" y="323.37" font-size="7.15" text-anchor="end" fill="#1a1a1a" stroke="#111" stroke-width="0.2">KIF23</text>
<rect x="387.70" y="326.02" width="15.60" height="7.04" fill="#000"/>
<rect x="388.70" y="327.02" width="13.60" height="5.04" fill="url(#gc)"/>
<text x="386.20" y="330.41" font-size="7.15" text-anchor="end" fill="#1a1a1a" stroke="#111" stroke-width="0.2">KIF2C</text>
<rect x="387.70" y="333.06" width="15.60" height="7.04" fill="#000"/>
<rect x="388.70" y="334.06" width="13.60" height="5.04" fill="url(#gc)"/>
<text x="386.20" y="337.45" font-size="7.15" text-anchor="end" fill="#1a1a1a" stroke="#111" stroke-width="0.2">MCM3</text>
<rect x="387.70" y="340.10" width="15.90" height="7.04" fill="#000"/>
<rect x="388.70" y="341.10" width="13.90" height="5.04" fill="url(#gc)"/>
<text x="386.20" y="344.49" font-size="7.15" text-anchor="end" fill="#1a1a1a" stroke="#111" stroke-width="0.2">CIT</text>
<rect x="387.70" y="347.14" width="17.70" height="7.04" fill="#000"/>
<rect x="388.70" y="348.14" width="15.70" height="5.04" fill="url(#gc)"/>
<text x="386.20" y="351.53" font-size="7.15" text-anchor="end" fill="#1a1a1a" stroke="#111" stroke-width="0.2">PPP1R9B</text>
<rect x="387.70" y="354.18" width="18.50" height="7.04" fill="#000"/>
<rect x="388.70" y="355.18" width="16.50" height="5.04" fill="url(#gc)"/>
<text x="386.20" y="358.57" font-size="7.15" text-anchor="end" fill="#1a1a1a" stroke="#111" stroke-width="0.2">MLTK</text>
<rect x="387.70" y="361.22" width="20.30" height="7.04" fill="#000"/>
<rect x="388.70" y="362.22" width="18.30" height="5.04" fill="url(#gc)"/>
<text x="386.20" y="365.61" font-size="7.15" text-anchor="end" fill="#1a1a1a" stroke="#111" stroke-width="0.2">TACC1</text>
<rect x="387.70" y="368.26" width="22.00" height="7.04" fill="#000"/>
<rect x="388.70" y="369.26" width="20.00" height="5.04" fill="url(#gc)"/>
<text x="386.20" y="372.65" font-size="7.15" text-anchor="end" fill="#1a1a1a" stroke="#111" stroke-width="0.2">SEPT10</text>
<rect x="387.70" y="375.30" width="41.90" height="7.04" fill="#000"/>
<rect x="388.70" y="376.30" width="39.90" height="5.04" fill="url(#gc)"/>
<text x="386.20" y="379.69" font-size="7.15" text-anchor="end" fill="#1a1a1a" stroke="#111" stroke-width="0.2">ANLN</text>
<rect x="387.70" y="382.34" width="48.90" height="7.04" fill="#000"/>
<rect x="388.70" y="383.34" width="46.90" height="5.04" fill="url(#gc)"/>
<text x="386.20" y="386.73" font-size="7.15" text-anchor="end" fill="#1a1a1a" stroke="#111" stroke-width="0.2">HSPA2</text>
<rect x="267.60" y="389.38" width="120.90" height="7.04" fill="#000"/>
<rect x="268.60" y="390.38" width="118.90" height="5.04" fill="url(#rc)"/>
<text x="390.90" y="395.77" font-size="7.15" text-anchor="start" fill="#1a1a1a" stroke="#111" stroke-width="0.2">RBBP8</text>
<rect x="300.90" y="396.42" width="87.60" height="7.04" fill="#000"/>
<rect x="301.90" y="397.42" width="85.60" height="5.04" fill="url(#rc)"/>
<text x="390.90" y="402.81" font-size="7.15" text-anchor="start" fill="#1a1a1a" stroke="#111" stroke-width="0.2">S100A6</text>
<rect x="363.20" y="403.46" width="25.30" height="7.04" fill="#000"/>
<rect x="364.20" y="404.46" width="23.30" height="5.04" fill="url(#rc)"/>
<text x="390.90" y="409.85" font-size="7.15" text-anchor="start" fill="#1a1a1a" stroke="#111" stroke-width="0.2">ARL3</text>
<rect x="366.70" y="410.50" width="21.80" height="7.04" fill="#000"/>
<rect x="367.70" y="411.50" width="19.80" height="5.04" fill="url(#rc)"/>
<text x="390.90" y="416.89" font-size="7.15" text-anchor="start" fill="#1a1a1a" stroke="#111" stroke-width="0.2">TPD52L1</text>
<rect x="369.30" y="417.54" width="19.20" height="7.04" fill="#000"/>
<rect x="370.30" y="418.54" width="17.20" height="5.04" fill="url(#rc)"/>
<text x="390.90" y="423.93" font-size="7.15" text-anchor="start" fill="#1a1a1a" stroke="#111" stroke-width="0.2">DST</text>
<rect x="371.40" y="424.58" width="17.10" height="7.04" fill="#000"/>
<rect x="372.40" y="425.58" width="15.10" height="5.04" fill="url(#rc)"/>
<text x="390.90" y="430.97" font-size="7.15" text-anchor="start" fill="#1a1a1a" stroke="#111" stroke-width="0.2">MACF1</text>
<rect x="373.00" y="431.62" width="15.50" height="7.04" fill="#000"/>
<rect x="374.00" y="432.62" width="13.50" height="5.04" fill="url(#rc)"/>
<text x="390.90" y="438.01" font-size="7.15" text-anchor="start" fill="#1a1a1a" stroke="#111" stroke-width="0.2">ERBB2IP</text>
<rect x="373.40" y="438.66" width="15.10" height="7.04" fill="#000"/>
<rect x="374.40" y="439.66" width="13.10" height="5.04" fill="url(#rc)"/>
<text x="390.90" y="445.05" font-size="7.15" text-anchor="start" fill="#1a1a1a" stroke="#111" stroke-width="0.2">PARD6B</text>
<rect x="373.40" y="445.70" width="15.10" height="7.04" fill="#000"/>
<rect x="374.40" y="446.70" width="13.10" height="5.04" fill="url(#rc)"/>
<text x="390.90" y="452.09" font-size="7.15" text-anchor="start" fill="#1a1a1a" stroke="#111" stroke-width="0.2">CDK5</text>
<rect x="374.40" y="452.74" width="14.10" height="7.04" fill="#000"/>
<rect x="375.40" y="453.74" width="12.10" height="5.04" fill="url(#rc)"/>
<text x="390.90" y="459.13" font-size="7.15" text-anchor="start" fill="#1a1a1a" stroke="#111" stroke-width="0.2">NBN</text>
<line x1="250.80" y1="468.40" x2="479.00" y2="468.40" stroke="#222" stroke-width="1.1"/>
<line x1="341.50" y1="468.40" x2="341.50" y2="472.40" stroke="#222" stroke-width="1.1"/>
<text x="341.50" y="481.90" font-size="11.5" text-anchor="middle" fill="#111">−5</text>
<line x1="387.20" y1="468.40" x2="387.20" y2="472.40" stroke="#222" stroke-width="1.1"/>
<text x="387.20" y="481.90" font-size="11.5" text-anchor="middle" fill="#111">0</text>
<line x1="432.50" y1="468.40" x2="432.50" y2="472.40" stroke="#222" stroke-width="1.1"/>
<text x="432.50" y="481.90" font-size="11.5" text-anchor="middle" fill="#111">5</text>
<text x="357.90" y="258.10" font-size="15.2" text-anchor="start" fill="#000" font-weight="bold" textLength="74.40" lengthAdjust="spacingAndGlyphs">Cell cycle</text>
<linearGradient id="gs" x1="0" x2="1" y1="0" y2="0"><stop offset="0" stop-color="#ffffff"/><stop offset="1" stop-color="#55bc4b"/></linearGradient>
<linearGradient id="rs" x1="0" x2="1" y1="0" y2="0"><stop offset="0" stop-color="#ffffff"/><stop offset="1" stop-color="#f45a26"/></linearGradient>
<rect x="632.60" y="300.80" width="15.00" height="7.03" fill="#000"/>
<rect x="633.60" y="301.80" width="13.00" height="5.03" fill="url(#gs)"/>
<text x="630.30" y="305.09" font-size="7.15" text-anchor="end" fill="#1a1a1a" stroke="#111" stroke-width="0.2">TLK2</text>
<rect x="632.60" y="307.83" width="15.00" height="7.03" fill="#000"/>
<rect x="633.60" y="308.83" width="13.00" height="5.03" fill="url(#gs)"/>
<text x="630.30" y="312.12" font-size="7.15" text-anchor="end" fill="#1a1a1a" stroke="#111" stroke-width="0.2">ATR</text>
<rect x="632.60" y="314.86" width="15.40" height="7.03" fill="#000"/>
<rect x="633.60" y="315.86" width="13.40" height="5.03" fill="url(#gs)"/>
<text x="630.30" y="319.15" font-size="7.15" text-anchor="end" fill="#1a1a1a" stroke="#111" stroke-width="0.2">CIRBP</text>
<rect x="632.60" y="321.89" width="15.40" height="7.03" fill="#000"/>
<rect x="633.60" y="322.89" width="13.40" height="5.03" fill="url(#gs)"/>
<text x="630.30" y="326.18" font-size="7.15" text-anchor="end" fill="#1a1a1a" stroke="#111" stroke-width="0.2">PXN</text>
<rect x="632.60" y="328.92" width="16.40" height="7.03" fill="#000"/>
<rect x="633.60" y="329.92" width="14.40" height="5.03" fill="url(#gs)"/>
<text x="630.30" y="333.21" font-size="7.15" text-anchor="end" fill="#1a1a1a" stroke="#111" stroke-width="0.2">MCM7</text>
<rect x="632.60" y="335.95" width="17.00" height="7.03" fill="#000"/>
<rect x="633.60" y="336.95" width="15.00" height="5.03" fill="url(#gs)"/>
<text x="630.30" y="340.24" font-size="7.15" text-anchor="end" fill="#1a1a1a" stroke="#111" stroke-width="0.2">TOLLIP</text>
<rect x="632.60" y="342.98" width="17.70" height="7.03" fill="#000"/>
<rect x="633.60" y="343.98" width="15.70" height="5.03" fill="url(#gs)"/>
<text x="630.30" y="347.27" font-size="7.15" text-anchor="end" fill="#1a1a1a" stroke="#111" stroke-width="0.2">MAP7</text>
<rect x="632.60" y="350.01" width="18.00" height="7.03" fill="#000"/>
<rect x="633.60" y="351.01" width="16.00" height="5.03" fill="url(#gs)"/>
<text x="630.30" y="354.30" font-size="7.15" text-anchor="end" fill="#1a1a1a" stroke="#111" stroke-width="0.2">RECQL5</text>
<rect x="632.60" y="357.04" width="18.70" height="7.03" fill="#000"/>
<rect x="633.60" y="358.04" width="16.70" height="5.03" fill="url(#gs)"/>
<text x="630.30" y="361.33" font-size="7.15" text-anchor="end" fill="#1a1a1a" stroke="#111" stroke-width="0.2">GMPR</text>
<rect x="632.60" y="364.07" width="19.80" height="7.03" fill="#000"/>
<rect x="633.60" y="365.07" width="17.80" height="5.03" fill="url(#gs)"/>
<text x="630.30" y="368.36" font-size="7.15" text-anchor="end" fill="#1a1a1a" stroke="#111" stroke-width="0.2">SP100</text>
<rect x="632.60" y="371.10" width="51.70" height="7.03" fill="#000"/>
<rect x="633.60" y="372.10" width="49.70" height="5.03" fill="url(#gs)"/>
<text x="630.30" y="375.39" font-size="7.15" text-anchor="end" fill="#1a1a1a" stroke="#111" stroke-width="0.2">HSPA2</text>
<rect x="512.30" y="378.13" width="121.10" height="7.03" fill="#000"/>
<rect x="513.30" y="379.13" width="119.10" height="5.03" fill="url(#rs)"/>
<text x="635.60" y="383.82" font-size="7.15" text-anchor="start" fill="#1a1a1a" stroke="#111" stroke-width="0.2">SCUBE2</text>
<rect x="559.30" y="385.16" width="74.10" height="7.03" fill="#000"/>
<rect x="560.30" y="386.16" width="72.10" height="5.03" fill="url(#rs)"/>
<text x="635.60" y="390.85" font-size="7.15" text-anchor="start" fill="#1a1a1a" stroke="#111" stroke-width="0.2">BCL2</text>
<rect x="607.90" y="392.19" width="25.50" height="7.03" fill="#000"/>
<rect x="608.90" y="393.19" width="23.50" height="5.03" fill="url(#rs)"/>
<text x="635.60" y="397.88" font-size="7.15" text-anchor="start" fill="#1a1a1a" stroke="#111" stroke-width="0.2">CYP4F11</text>
<rect x="609.30" y="399.22" width="24.10" height="7.03" fill="#000"/>
<rect x="610.30" y="400.22" width="22.10" height="5.03" fill="url(#rs)"/>
<text x="635.60" y="404.91" font-size="7.15" text-anchor="start" fill="#1a1a1a" stroke="#111" stroke-width="0.2">RBM38</text>
<rect x="614.90" y="406.25" width="18.50" height="7.03" fill="#000"/>
<rect x="615.90" y="407.25" width="16.50" height="5.03" fill="url(#rs)"/>
<text x="635.60" y="411.94" font-size="7.15" text-anchor="start" fill="#1a1a1a" stroke="#111" stroke-width="0.2">HSPB11</text>
<rect x="616.10" y="413.28" width="17.30" height="7.03" fill="#000"/>
<rect x="617.10" y="414.28" width="15.30" height="5.03" fill="url(#rs)"/>
<text x="635.60" y="418.97" font-size="7.15" text-anchor="start" fill="#1a1a1a" stroke="#111" stroke-width="0.2">CD81</text>
<rect x="616.50" y="420.31" width="16.90" height="7.03" fill="#000"/>
<rect x="617.50" y="421.31" width="14.90" height="5.03" fill="url(#rs)"/>
<text x="635.60" y="426.00" font-size="7.15" text-anchor="start" fill="#1a1a1a" stroke="#111" stroke-width="0.2">IGHMBP2</text>
<rect x="616.90" y="427.34" width="16.50" height="7.03" fill="#000"/>
<rect x="617.90" y="428.34" width="14.50" height="5.03" fill="url(#rs)"/>
<text x="635.60" y="433.03" font-size="7.15" text-anchor="start" fill="#1a1a1a" stroke="#111" stroke-width="0.2">PLOD2</text>
<rect x="617.50" y="434.37" width="15.90" height="7.03" fill="#000"/>
<rect x="618.50" y="435.37" width="13.90" height="5.03" fill="url(#rs)"/>
<text x="635.60" y="440.06" font-size="7.15" text-anchor="start" fill="#1a1a1a" stroke="#111" stroke-width="0.2">ANXA1</text>
<rect x="617.50" y="441.40" width="15.90" height="7.03" fill="#000"/>
<rect x="618.50" y="442.40" width="13.90" height="5.03" fill="url(#rs)"/>
<text x="635.60" y="447.09" font-size="7.15" text-anchor="start" fill="#1a1a1a" stroke="#111" stroke-width="0.2">ITGB1</text>
<rect x="618.10" y="448.43" width="15.30" height="7.03" fill="#000"/>
<rect x="619.10" y="449.43" width="13.30" height="5.03" fill="url(#rs)"/>
<text x="635.60" y="454.12" font-size="7.15" text-anchor="start" fill="#1a1a1a" stroke="#111" stroke-width="0.2">MB</text>
<rect x="618.10" y="455.46" width="15.30" height="7.03" fill="#000"/>
<rect x="619.10" y="456.46" width="13.30" height="5.03" fill="url(#rs)"/>
<text x="635.60" y="461.15" font-size="7.15" text-anchor="start" fill="#1a1a1a" stroke="#111" stroke-width="0.2">CUL4B</text>
<line x1="485.90" y1="468.70" x2="682.00" y2="468.70" stroke="#222" stroke-width="1.1"/>
<line x1="486.60" y1="468.70" x2="486.60" y2="472.70" stroke="#222" stroke-width="1.1"/>
<text x="486.60" y="482.20" font-size="11.5" text-anchor="middle" fill="#111">−15</text>
<line x1="535.20" y1="468.70" x2="535.20" y2="472.70" stroke="#222" stroke-width="1.1"/>
<text x="535.20" y="482.20" font-size="11.5" text-anchor="middle" fill="#111">−10</text>
<line x1="583.80" y1="468.70" x2="583.80" y2="472.70" stroke="#222" stroke-width="1.1"/>
<text x="583.80" y="482.20" font-size="11.5" text-anchor="middle" fill="#111">−5</text>
<line x1="632.40" y1="468.70" x2="632.40" y2="472.70" stroke="#222" stroke-width="1.1"/>
<text x="632.40" y="482.20" font-size="11.5" text-anchor="middle" fill="#111">0</text>
<line x1="681.00" y1="468.70" x2="681.00" y2="472.70" stroke="#222" stroke-width="1.1"/>
<text x="681.00" y="482.20" font-size="11.5" text-anchor="middle" fill="#111">5</text>
<text x="534.50" y="258.30" font-size="15.2" text-anchor="start" fill="#000" font-weight="bold" textLength="143.30" lengthAdjust="spacingAndGlyphs">Stress responders</text>
<line x1="18" y1="461" x2="18" y2="467.3" stroke="#222" stroke-width="1.1"/>
<text x="13.60" y="475.20" font-size="11.5" text-anchor="middle" fill="#111">−15</text>
<rect x="45.2" y="330.1" width="2.5" height="22.8" fill="#000"/>
<text x="36.40" y="343.80" font-size="6.0" text-anchor="middle" fill="#333" textLength="13.00" lengthAdjust="spacingAndGlyphs" stroke="#333" stroke-width="0.12">&lt;-10</text>
<text x="-0.90" y="15.60" font-size="21" text-anchor="start" fill="#111" stroke="#111" stroke-width="0.6">a</text>
<text x="-0.50" y="526.70" font-size="21" text-anchor="start" fill="#111" stroke="#111" stroke-width="0.6">b</text>
<text x="185.30" y="507.30" font-size="17.3" text-anchor="start" fill="#000" font-weight="bold" textLength="335.60" lengthAdjust="spacingAndGlyphs">Fold-change (TAMR-1 vs. MCF-7/S0.5)</text>
<g shape-rendering="crispEdges">
<rect x="133.40" y="617.100" width="12.57" height="7.280" fill="#fddbdb"/>
<rect x="145.92" y="617.100" width="12.57" height="7.280" fill="#7078bc"/>
<rect x="158.44" y="617.100" width="12.57" height="7.280" fill="#3953a6"/>
<rect x="170.96" y="617.100" width="12.57" height="7.280" fill="#3953a6"/>
<rect x="183.48" y="617.100" width="12.57" height="7.280" fill="#3953a6"/>
<rect x="196.00" y="617.100" width="12.57" height="7.280" fill="#3953a6"/>
<rect x="208.52" y="617.100" width="12.57" height="7.280" fill="#3953a6"/>
<rect x="221.04" y="617.100" width="12.57" height="7.280" fill="#3953a6"/>
<rect x="233.56" y="617.100" width="12.57" height="7.280" fill="#3953a6"/>
<rect x="246.08" y="617.100" width="12.57" height="7.280" fill="#3953a6"/>
<rect x="258.60" y="617.100" width="12.57" height="7.280" fill="#3953a6"/>
<rect x="271.12" y="617.100" width="12.57" height="7.280" fill="#7a82c3"/>
<rect x="283.64" y="617.100" width="12.57" height="7.280" fill="#ef2f2e"/>
<rect x="296.16" y="617.100" width="12.57" height="7.280" fill="#ef2f2e"/>
<rect x="308.68" y="617.100" width="12.57" height="7.280" fill="#ef2f2e"/>
<rect x="321.20" y="617.100" width="12.57" height="7.280" fill="#ef2f2e"/>
<rect x="133.40" y="624.330" width="12.57" height="7.280" fill="#d4d6ee"/>
<rect x="145.92" y="624.330" width="12.57" height="7.280" fill="#7078bc"/>
<rect x="158.44" y="624.330" width="12.57" height="7.280" fill="#3953a6"/>
<rect x="170.96" y="624.330" width="12.57" height="7.280" fill="#3953a6"/>
<rect x="183.48" y="624.330" width="12.57" height="7.280" fill="#3953a6"/>
<rect x="196.00" y="624.330" width="12.57" height="7.280" fill="#3953a6"/>
<rect x="208.52" y="624.330" width="12.57" height="7.280" fill="#3953a6"/>
<rect x="221.04" y="624.330" width="12.57" height="7.280" fill="#3953a6"/>
<rect x="233.56" y="624.330" width="12.57" height="7.280" fill="#3953a6"/>
<rect x="246.08" y="624.330" width="12.57" height="7.280" fill="#3953a6"/>
<rect x="258.60" y="624.330" width="12.57" height="7.280" fill="#3953a6"/>
<rect x="271.12" y="624.330" width="12.57" height="7.280" fill="#3953a6"/>
<rect x="283.64" y="624.330" width="12.57" height="7.280" fill="#ef2f2e"/>
<rect x="296.16" y="624.330" width="12.57" height="7.280" fill="#ef2f2e"/>
<rect x="308.68" y="624.330" width="12.57" height="7.280" fill="#ef3534"/>
<rect x="321.20" y="624.330" width="12.57" height="7.280" fill="#ef2f2e"/>
<rect x="133.40" y="631.561" width="12.57" height="7.280" fill="#fa9a9a"/>
<rect x="145.92" y="631.561" width="12.57" height="7.280" fill="#3953a6"/>
<rect x="158.44" y="631.561" width="12.57" height="7.280" fill="#3953a6"/>
<rect x="170.96" y="631.561" width="12.57" height="7.280" fill="#3953a6"/>
<rect x="183.48" y="631.561" width="12.57" height="7.280" fill="#3953a6"/>
<rect x="196.00" y="631.561" width="12.57" height="7.280" fill="#3953a6"/>
<rect x="208.52" y="631.561" width="12.57" height="7.280" fill="#3953a6"/>
<rect x="221.04" y="631.561" width="12.57" height="7.280" fill="#3953a6"/>
<rect x="233.56" y="631.561" width="12.57" height="7.280" fill="#3953a6"/>
<rect x="246.08" y="631.561" width="12.57" height="7.280" fill="#3953a6"/>
<rect x="258.60" y="631.561" width="12.57" height="7.280" fill="#3953a6"/>
<rect x="271.12" y="631.561" width="12.57" height="7.280" fill="#3953a6"/>
<rect x="283.64" y="631.561" width="12.57" height="7.280" fill="#ef2f2e"/>
<rect x="296.16" y="631.561" width="12.57" height="7.280" fill="#ef2f2e"/>
<rect x="308.68" y="631.561" width="12.57" height="7.280" fill="#ef2f2e"/>
<rect x="321.20" y="631.561" width="12.57" height="7.280" fill="#ef2f2e"/>
<rect x="133.40" y="638.791" width="12.57" height="7.280" fill="#ffffff"/>
<rect x="145.92" y="638.791" width="12.57" height="7.280" fill="#3953a6"/>
<rect x="158.44" y="638.791" width="12.57" height="7.280" fill="#3953a6"/>
<rect x="170.96" y="638.791" width="12.57" height="7.280" fill="#3953a6"/>
<rect x="183.48" y="638.791" width="12.57" height="7.280" fill="#3953a6"/>
<rect x="196.00" y="638.791" width="12.57" height="7.280" fill="#3953a6"/>
<rect x="208.52" y="638.791" width="12.57" height="7.280" fill="#3953a6"/>
<rect x="221.04" y="638.791" width="12.57" height="7.280" fill="#3953a6"/>
<rect x="233.56" y="638.791" width="12.57" height="7.280" fill="#3953a6"/>
<rect x="246.08" y="638.791" width="12.57" height="7.280" fill="#3953a6"/>
<rect x="258.60" y="638.791" width="12.57" height="7.280" fill="#3953a6"/>
<rect x="271.12" y="638.791" width="12.57" height="7.280" fill="#3953a6"/>
<rect x="283.64" y="638.791" width="12.57" height="7.280" fill="#ef2f2e"/>
<rect x="296.16" y="638.791" width="12.57" height="7.280" fill="#ef2f2e"/>
<rect x="308.68" y="638.791" width="12.57" height="7.280" fill="#ef2f2e"/>
<rect x="321.20" y="638.791" width="12.57" height="7.280" fill="#ef2f2e"/>
<rect x="133.40" y="646.022" width="12.57" height="7.280" fill="#f89090"/>
<rect x="145.92" y="646.022" width="12.57" height="7.280" fill="#3953a6"/>
<rect x="158.44" y="646.022" width="12.57" height="7.280" fill="#8088c8"/>
<rect x="170.96" y="646.022" width="12.57" height="7.280" fill="#3953a6"/>
<rect x="183.48" y="646.022" width="12.57" height="7.280" fill="#3953a6"/>
<rect x="196.00" y="646.022" width="12.57" height="7.280" fill="#3953a6"/>
<rect x="208.52" y="646.022" width="12.57" height="7.280" fill="#3953a6"/>
<rect x="221.04" y="646.022" width="12.57" height="7.280" fill="#3953a6"/>
<rect x="233.56" y="646.022" width="12.57" height="7.280" fill="#3953a6"/>
<rect x="246.08" y="646.022" width="12.57" height="7.280" fill="#3953a6"/>
<rect x="258.60" y="646.022" width="12.57" height="7.280" fill="#3953a6"/>
<rect x="271.12" y="646.022" width="12.57" height="7.280" fill="#3953a6"/>
<rect x="283.64" y="646.022" width="12.57" height="7.280" fill="#f15757"/>
<rect x="296.16" y="646.022" width="12.57" height="7.280" fill="#ef2f2e"/>
<rect x="308.68" y="646.022" width="12.57" height="7.280" fill="#ef2f2e"/>
<rect x="321.20" y="646.022" width="12.57" height="7.280" fill="#ef2f2e"/>
<rect x="133.40" y="653.252" width="12.57" height="7.280" fill="#f26262"/>
<rect x="145.92" y="653.252" width="12.57" height="7.280" fill="#3953a6"/>
<rect x="158.44" y="653.252" width="12.57" height="7.280" fill="#3953a6"/>
<rect x="170.96" y="653.252" width="12.57" height="7.280" fill="#3953a6"/>
<rect x="183.48" y="653.252" width="12.57" height="7.280" fill="#3953a6"/>
<rect x="196.00" y="653.252" width="12.57" height="7.280" fill="#3953a6"/>
<rect x="208.52" y="653.252" width="12.57" height="7.280" fill="#3953a6"/>
<rect x="221.04" y="653.252" width="12.57" height="7.280" fill="#3953a6"/>
<rect x="233.56" y="653.252" width="12.57" height="7.280" fill="#3953a6"/>
<rect x="246.08" y="653.252" width="12.57" height="7.280" fill="#3953a6"/>
<rect x="258.60" y="653.252" width="12.57" height="7.280" fill="#3953a6"/>
<rect x="271.12" y="653.252" width="12.57" height="7.280" fill="#3953a6"/>
<rect x="283.64" y="653.252" width="12.57" height="7.280" fill="#f15757"/>
<rect x="296.16" y="653.252" width="12.57" height="7.280" fill="#ef2f2e"/>
<rect x="308.68" y="653.252" width="12.57" height="7.280" fill="#ef2f2e"/>
<rect x="321.20" y="653.252" width="12.57" height="7.280" fill="#ef2f2e"/>
<rect x="133.40" y="660.482" width="12.57" height="7.280" fill="#fee8e8"/>
<rect x="145.92" y="660.482" width="12.57" height="7.280" fill="#3953a6"/>
<rect x="158.44" y="660.482" width="12.57" height="7.280" fill="#3953a6"/>
<rect x="170.96" y="660.482" width="12.57" height="7.280" fill="#3953a6"/>
<rect x="183.48" y="660.482" width="12.57" height="7.280" fill="#3953a6"/>
<rect x="196.00" y="660.482" width="12.57" height="7.280" fill="#b6bae1"/>
<rect x="208.52" y="660.482" width="12.57" height="7.280" fill="#3953a6"/>
<rect x="221.04" y="660.482" width="12.57" height="7.280" fill="#3953a6"/>
<rect x="233.56" y="660.482" width="12.57" height="7.280" fill="#3953a6"/>
<rect x="246.08" y="660.482" width="12.57" height="7.280" fill="#3953a6"/>
<rect x="258.60" y="660.482" width="12.57" height="7.280" fill="#3953a6"/>
<rect x="271.12" y="660.482" width="12.57" height="7.280" fill="#8088c8"/>
<rect x="283.64" y="660.482" width="12.57" height="7.280" fill="#ef2f2e"/>
<rect x="296.16" y="660.482" width="12.57" height="7.280" fill="#ef2f2e"/>
<rect x="308.68" y="660.482" width="12.57" height="7.280" fill="#ef2f2e"/>
<rect x="321.20" y="660.482" width="12.57" height="7.280" fill="#ef2f2e"/>
<rect x="133.40" y="667.713" width="12.57" height="7.280" fill="#fdb2b2"/>
<rect x="145.92" y="667.713" width="12.57" height="7.280" fill="#7a82c3"/>
<rect x="158.44" y="667.713" width="12.57" height="7.280" fill="#dcddf1"/>
<rect x="170.96" y="667.713" width="12.57" height="7.280" fill="#3953a6"/>
<rect x="183.48" y="667.713" width="12.57" height="7.280" fill="#3953a6"/>
<rect x="196.00" y="667.713" width="12.57" height="7.280" fill="#3953a6"/>
<rect x="208.52" y="667.713" width="12.57" height="7.280" fill="#3953a6"/>
<rect x="221.04" y="667.713" width="12.57" height="7.280" fill="#3953a6"/>
<rect x="233.56" y="667.713" width="12.57" height="7.280" fill="#3953a6"/>
<rect x="246.08" y="667.713" width="12.57" height="7.280" fill="#3953a6"/>
<rect x="258.60" y="667.713" width="12.57" height="7.280" fill="#babee3"/>
<rect x="271.12" y="667.713" width="12.57" height="7.280" fill="#8088c8"/>
<rect x="283.64" y="667.713" width="12.57" height="7.280" fill="#ef2f2e"/>
<rect x="296.16" y="667.713" width="12.57" height="7.280" fill="#ef2f2e"/>
<rect x="308.68" y="667.713" width="12.57" height="7.280" fill="#ef2f2e"/>
<rect x="321.20" y="667.713" width="12.57" height="7.280" fill="#ef2f2e"/>
<rect x="133.40" y="674.943" width="12.57" height="7.280" fill="#ffffff"/>
<rect x="145.92" y="674.943" width="12.57" height="7.280" fill="#7a82c3"/>
<rect x="158.44" y="674.943" width="12.57" height="7.280" fill="#d4d6ee"/>
<rect x="170.96" y="674.943" width="12.57" height="7.280" fill="#3953a6"/>
<rect x="183.48" y="674.943" width="12.57" height="7.280" fill="#3953a6"/>
<rect x="196.00" y="674.943" width="12.57" height="7.280" fill="#3953a6"/>
<rect x="208.52" y="674.943" width="12.57" height="7.280" fill="#3953a6"/>
<rect x="221.04" y="674.943" width="12.57" height="7.280" fill="#3953a6"/>
<rect x="233.56" y="674.943" width="12.57" height="7.280" fill="#3953a6"/>
<rect x="246.08" y="674.943" width="12.57" height="7.280" fill="#3953a6"/>
<rect x="258.60" y="674.943" width="12.57" height="7.280" fill="#babee3"/>
<rect x="271.12" y="674.943" width="12.57" height="7.280" fill="#7d85c6"/>
<rect x="283.64" y="674.943" width="12.57" height="7.280" fill="#f26262"/>
<rect x="296.16" y="674.943" width="12.57" height="7.280" fill="#ef2f2e"/>
<rect x="308.68" y="674.943" width="12.57" height="7.280" fill="#ef2f2e"/>
<rect x="321.20" y="674.943" width="12.57" height="7.280" fill="#ef2f2e"/>
<rect x="133.40" y="682.174" width="12.57" height="7.280" fill="#a6aad8"/>
<rect x="145.92" y="682.174" width="12.57" height="7.280" fill="#8088c8"/>
<rect x="158.44" y="682.174" width="12.57" height="7.280" fill="#a6aad8"/>
<rect x="170.96" y="682.174" width="12.57" height="7.280" fill="#3953a6"/>
<rect x="183.48" y="682.174" width="12.57" height="7.280" fill="#3953a6"/>
<rect x="196.00" y="682.174" width="12.57" height="7.280" fill="#3953a6"/>
<rect x="208.52" y="682.174" width="12.57" height="7.280" fill="#3953a6"/>
<rect x="221.04" y="682.174" width="12.57" height="7.280" fill="#3953a6"/>
<rect x="233.56" y="682.174" width="12.57" height="7.280" fill="#3953a6"/>
<rect x="246.08" y="682.174" width="12.57" height="7.280" fill="#3953a6"/>
<rect x="258.60" y="682.174" width="12.57" height="7.280" fill="#b0b4dd"/>
<rect x="271.12" y="682.174" width="12.57" height="7.280" fill="#878ecb"/>
<rect x="283.64" y="682.174" width="12.57" height="7.280" fill="#ef2f2e"/>
<rect x="296.16" y="682.174" width="12.57" height="7.280" fill="#ef2f2e"/>
<rect x="308.68" y="682.174" width="12.57" height="7.280" fill="#ef2f2e"/>
<rect x="321.20" y="682.174" width="12.57" height="7.280" fill="#ef2f2e"/>
<rect x="133.40" y="689.404" width="12.57" height="7.280" fill="#fca8a8"/>
<rect x="145.92" y="689.404" width="12.57" height="7.280" fill="#3953a6"/>
<rect x="158.44" y="689.404" width="12.57" height="7.280" fill="#f3f3fa"/>
<rect x="170.96" y="689.404" width="12.57" height="7.280" fill="#3953a6"/>
<rect x="183.48" y="689.404" width="12.57" height="7.280" fill="#3953a6"/>
<rect x="196.00" y="689.404" width="12.57" height="7.280" fill="#3953a6"/>
<rect x="208.52" y="689.404" width="12.57" height="7.280" fill="#3953a6"/>
<rect x="221.04" y="689.404" width="12.57" height="7.280" fill="#3953a6"/>
<rect x="233.56" y="689.404" width="12.57" height="7.280" fill="#3953a6"/>
<rect x="246.08" y="689.404" width="12.57" height="7.280" fill="#3953a6"/>
<rect x="258.60" y="689.404" width="12.57" height="7.280" fill="#3953a6"/>
<rect x="271.12" y="689.404" width="12.57" height="7.280" fill="#878ecb"/>
<rect x="283.64" y="689.404" width="12.57" height="7.280" fill="#ef2f2e"/>
<rect x="296.16" y="689.404" width="12.57" height="7.280" fill="#ef2f2e"/>
<rect x="308.68" y="689.404" width="12.57" height="7.280" fill="#ef2f2e"/>
<rect x="321.20" y="689.404" width="12.57" height="7.280" fill="#ef2f2e"/>
<rect x="133.40" y="696.634" width="12.57" height="7.280" fill="#f68282"/>
<rect x="145.92" y="696.634" width="12.57" height="7.280" fill="#e0e0f2"/>
<rect x="158.44" y="696.634" width="12.57" height="7.280" fill="#babee3"/>
<rect x="170.96" y="696.634" width="12.57" height="7.280" fill="#3953a6"/>
<rect x="183.48" y="696.634" width="12.57" height="7.280" fill="#3953a6"/>
<rect x="196.00" y="696.634" width="12.57" height="7.280" fill="#3953a6"/>
<rect x="208.52" y="696.634" width="12.57" height="7.280" fill="#3953a6"/>
<rect x="221.04" y="696.634" width="12.57" height="7.280" fill="#3953a6"/>
<rect x="233.56" y="696.634" width="12.57" height="7.280" fill="#3953a6"/>
<rect x="246.08" y="696.634" width="12.57" height="7.280" fill="#4756a8"/>
<rect x="258.60" y="696.634" width="12.57" height="7.280" fill="#3953a6"/>
<rect x="271.12" y="696.634" width="12.57" height="7.280" fill="#5a62b0"/>
<rect x="283.64" y="696.634" width="12.57" height="7.280" fill="#fdd2d2"/>
<rect x="296.16" y="696.634" width="12.57" height="7.280" fill="#ef2f2e"/>
<rect x="308.68" y="696.634" width="12.57" height="7.280" fill="#ef2f2e"/>
<rect x="321.20" y="696.634" width="12.57" height="7.280" fill="#ef2f2e"/>
<rect x="133.40" y="703.865" width="12.57" height="7.280" fill="#f99595"/>
<rect x="145.92" y="703.865" width="12.57" height="7.280" fill="#d8daf0"/>
<rect x="158.44" y="703.865" width="12.57" height="7.280" fill="#4b57a9"/>
<rect x="170.96" y="703.865" width="12.57" height="7.280" fill="#3953a6"/>
<rect x="183.48" y="703.865" width="12.57" height="7.280" fill="#3953a6"/>
<rect x="196.00" y="703.865" width="12.57" height="7.280" fill="#3953a6"/>
<rect x="208.52" y="703.865" width="12.57" height="7.280" fill="#3953a6"/>
<rect x="221.04" y="703.865" width="12.57" height="7.280" fill="#3953a6"/>
<rect x="233.56" y="703.865" width="12.57" height="7.280" fill="#3953a6"/>
<rect x="246.08" y="703.865" width="12.57" height="7.280" fill="#3953a6"/>
<rect x="258.60" y="703.865" width="12.57" height="7.280" fill="#3953a6"/>
<rect x="271.12" y="703.865" width="12.57" height="7.280" fill="#5a62b0"/>
<rect x="283.64" y="703.865" width="12.57" height="7.280" fill="#ccd0ec"/>
<rect x="296.16" y="703.865" width="12.57" height="7.280" fill="#f46f6f"/>
<rect x="308.68" y="703.865" width="12.57" height="7.280" fill="#ef2f2e"/>
<rect x="321.20" y="703.865" width="12.57" height="7.280" fill="#ef2f2e"/>
<rect x="133.40" y="711.095" width="12.57" height="7.280" fill="#fba3a3"/>
<rect x="145.92" y="711.095" width="12.57" height="7.280" fill="#f3f3fa"/>
<rect x="158.44" y="711.095" width="12.57" height="7.280" fill="#3953a6"/>
<rect x="170.96" y="711.095" width="12.57" height="7.280" fill="#3953a6"/>
<rect x="183.48" y="711.095" width="12.57" height="7.280" fill="#3953a6"/>
<rect x="196.00" y="711.095" width="12.57" height="7.280" fill="#3953a6"/>
<rect x="208.52" y="711.095" width="12.57" height="7.280" fill="#3953a6"/>
<rect x="221.04" y="711.095" width="12.57" height="7.280" fill="#3953a6"/>
<rect x="233.56" y="711.095" width="12.57" height="7.280" fill="#3953a6"/>
<rect x="246.08" y="711.095" width="12.57" height="7.280" fill="#3953a6"/>
<rect x="258.60" y="711.095" width="12.57" height="7.280" fill="#3953a6"/>
<rect x="271.12" y="711.095" width="12.57" height="7.280" fill="#6068b4"/>
<rect x="283.64" y="711.095" width="12.57" height="7.280" fill="#f57878"/>
<rect x="296.16" y="711.095" width="12.57" height="7.280" fill="#f03a3a"/>
<rect x="308.68" y="711.095" width="12.57" height="7.280" fill="#ef2f2e"/>
<rect x="321.20" y="711.095" width="12.57" height="7.280" fill="#ef2f2e"/>
<rect x="133.40" y="718.326" width="12.57" height="7.280" fill="#fba3a3"/>
<rect x="145.92" y="718.326" width="12.57" height="7.280" fill="#8088c8"/>
<rect x="158.44" y="718.326" width="12.57" height="7.280" fill="#3953a6"/>
<rect x="170.96" y="718.326" width="12.57" height="7.280" fill="#3953a6"/>
<rect x="183.48" y="718.326" width="12.57" height="7.280" fill="#3953a6"/>
<rect x="196.00" y="718.326" width="12.57" height="7.280" fill="#8088c8"/>
<rect x="208.52" y="718.326" width="12.57" height="7.280" fill="#3953a6"/>
<rect x="221.04" y="718.326" width="12.57" height="7.280" fill="#3953a6"/>
<rect x="233.56" y="718.326" width="12.57" height="7.280" fill="#3953a6"/>
<rect x="246.08" y="718.326" width="12.57" height="7.280" fill="#3953a6"/>
<rect x="258.60" y="718.326" width="12.57" height="7.280" fill="#3953a6"/>
<rect x="271.12" y="718.326" width="12.57" height="7.280" fill="#3953a6"/>
<rect x="283.64" y="718.326" width="12.57" height="7.280" fill="#fca8a8"/>
<rect x="296.16" y="718.326" width="12.57" height="7.280" fill="#f04848"/>
<rect x="308.68" y="718.326" width="12.57" height="7.280" fill="#ef2f2e"/>
<rect x="321.20" y="718.326" width="12.57" height="7.280" fill="#ef2f2e"/>
<rect x="133.40" y="725.556" width="12.57" height="7.280" fill="#f25e5e"/>
<rect x="145.92" y="725.556" width="12.57" height="7.280" fill="#3953a6"/>
<rect x="158.44" y="725.556" width="12.57" height="7.280" fill="#7a82c3"/>
<rect x="170.96" y="725.556" width="12.57" height="7.280" fill="#3953a6"/>
<rect x="183.48" y="725.556" width="12.57" height="7.280" fill="#3953a6"/>
<rect x="196.00" y="725.556" width="12.57" height="7.280" fill="#3953a6"/>
<rect x="208.52" y="725.556" width="12.57" height="7.280" fill="#3953a6"/>
<rect x="221.04" y="725.556" width="12.57" height="7.280" fill="#3953a6"/>
<rect x="233.56" y="725.556" width="12.57" height="7.280" fill="#3953a6"/>
<rect x="246.08" y="725.556" width="12.57" height="7.280" fill="#3953a6"/>
<rect x="258.60" y="725.556" width="12.57" height="7.280" fill="#acb0dc"/>
<rect x="271.12" y="725.556" width="12.57" height="7.280" fill="#3953a6"/>
<rect x="283.64" y="725.556" width="12.57" height="7.280" fill="#fca8a8"/>
<rect x="296.16" y="725.556" width="12.57" height="7.280" fill="#ef2f2e"/>
<rect x="308.68" y="725.556" width="12.57" height="7.280" fill="#ef2f2e"/>
<rect x="321.20" y="725.556" width="12.57" height="7.280" fill="#ef2f2e"/>
<rect x="133.40" y="732.786" width="12.57" height="7.280" fill="#fca8a8"/>
<rect x="145.92" y="732.786" width="12.57" height="7.280" fill="#3953a6"/>
<rect x="158.44" y="732.786" width="12.57" height="7.280" fill="#7a82c3"/>
<rect x="170.96" y="732.786" width="12.57" height="7.280" fill="#3953a6"/>
<rect x="183.48" y="732.786" width="12.57" height="7.280" fill="#3953a6"/>
<rect x="196.00" y="732.786" width="12.57" height="7.280" fill="#3953a6"/>
<rect x="208.52" y="732.786" width="12.57" height="7.280" fill="#3953a6"/>
<rect x="221.04" y="732.786" width="12.57" height="7.280" fill="#3953a6"/>
<rect x="233.56" y="732.786" width="12.57" height="7.280" fill="#3953a6"/>
<rect x="246.08" y="732.786" width="12.57" height="7.280" fill="#3953a6"/>
<rect x="258.60" y="732.786" width="12.57" height="7.280" fill="#acb0dc"/>
<rect x="271.12" y="732.786" width="12.57" height="7.280" fill="#3953a6"/>
<rect x="283.64" y="732.786" width="12.57" height="7.280" fill="#fca8a8"/>
<rect x="296.16" y="732.786" width="12.57" height="7.280" fill="#ef2f2e"/>
<rect x="308.68" y="732.786" width="12.57" height="7.280" fill="#ef2f2e"/>
<rect x="321.20" y="732.786" width="12.57" height="7.280" fill="#ef2f2e"/>
<rect x="133.40" y="740.017" width="12.57" height="7.280" fill="#fdb2b2"/>
<rect x="145.92" y="740.017" width="12.57" height="7.280" fill="#3953a6"/>
<rect x="158.44" y="740.017" width="12.57" height="7.280" fill="#3953a6"/>
<rect x="170.96" y="740.017" width="12.57" height="7.280" fill="#3953a6"/>
<rect x="183.48" y="740.017" width="12.57" height="7.280" fill="#3953a6"/>
<rect x="196.00" y="740.017" width="12.57" height="7.280" fill="#3953a6"/>
<rect x="208.52" y="740.017" width="12.57" height="7.280" fill="#3953a6"/>
<rect x="221.04" y="740.017" width="12.57" height="7.280" fill="#3953a6"/>
<rect x="233.56" y="740.017" width="12.57" height="7.280" fill="#3953a6"/>
<rect x="246.08" y="740.017" width="12.57" height="7.280" fill="#3953a6"/>
<rect x="258.60" y="740.017" width="12.57" height="7.280" fill="#3953a6"/>
<rect x="271.12" y="740.017" width="12.57" height="7.280" fill="#3953a6"/>
<rect x="283.64" y="740.017" width="12.57" height="7.280" fill="#ffffff"/>
<rect x="296.16" y="740.017" width="12.57" height="7.280" fill="#ef2f2e"/>
<rect x="308.68" y="740.017" width="12.57" height="7.280" fill="#ef2f2e"/>
<rect x="321.20" y="740.017" width="12.57" height="7.280" fill="#ef2f2e"/>
<rect x="133.40" y="747.247" width="12.57" height="7.280" fill="#fba3a3"/>
<rect x="145.92" y="747.247" width="12.57" height="7.280" fill="#3953a6"/>
<rect x="158.44" y="747.247" width="12.57" height="7.280" fill="#5a62b0"/>
<rect x="170.96" y="747.247" width="12.57" height="7.280" fill="#3953a6"/>
<rect x="183.48" y="747.247" width="12.57" height="7.280" fill="#3953a6"/>
<rect x="196.00" y="747.247" width="12.57" height="7.280" fill="#3953a6"/>
<rect x="208.52" y="747.247" width="12.57" height="7.280" fill="#3953a6"/>
<rect x="221.04" y="747.247" width="12.57" height="7.280" fill="#3953a6"/>
<rect x="233.56" y="747.247" width="12.57" height="7.280" fill="#3953a6"/>
<rect x="246.08" y="747.247" width="12.57" height="7.280" fill="#3953a6"/>
<rect x="258.60" y="747.247" width="12.57" height="7.280" fill="#3953a6"/>
<rect x="271.12" y="747.247" width="12.57" height="7.280" fill="#3953a6"/>
<rect x="283.64" y="747.247" width="12.57" height="7.280" fill="#b3b7df"/>
<rect x="296.16" y="747.247" width="12.57" height="7.280" fill="#f04141"/>
<rect x="308.68" y="747.247" width="12.57" height="7.280" fill="#f03a3a"/>
<rect x="321.20" y="747.247" width="12.57" height="7.280" fill="#fa9e9e"/>
<rect x="133.40" y="754.478" width="12.57" height="7.280" fill="#fef1f1"/>
<rect x="145.92" y="754.478" width="12.57" height="7.280" fill="#5d65b2"/>
<rect x="158.44" y="754.478" width="12.57" height="7.280" fill="#5d65b2"/>
<rect x="170.96" y="754.478" width="12.57" height="7.280" fill="#3953a6"/>
<rect x="183.48" y="754.478" width="12.57" height="7.280" fill="#3953a6"/>
<rect x="196.00" y="754.478" width="12.57" height="7.280" fill="#3953a6"/>
<rect x="208.52" y="754.478" width="12.57" height="7.280" fill="#3953a6"/>
<rect x="221.04" y="754.478" width="12.57" height="7.280" fill="#3953a6"/>
<rect x="233.56" y="754.478" width="12.57" height="7.280" fill="#3953a6"/>
<rect x="246.08" y="754.478" width="12.57" height="7.280" fill="#3953a6"/>
<rect x="258.60" y="754.478" width="12.57" height="7.280" fill="#3953a6"/>
<rect x="271.12" y="754.478" width="12.57" height="7.280" fill="#3953a6"/>
<rect x="283.64" y="754.478" width="12.57" height="7.280" fill="#6068b4"/>
<rect x="296.16" y="754.478" width="12.57" height="7.280" fill="#ef2f2e"/>
<rect x="308.68" y="754.478" width="12.57" height="7.280" fill="#fba3a3"/>
<rect x="321.20" y="754.478" width="12.57" height="7.280" fill="#ef2f2e"/>
<rect x="133.40" y="761.708" width="12.57" height="7.280" fill="#a6aad8"/>
<rect x="145.92" y="761.708" width="12.57" height="7.280" fill="#3953a6"/>
<rect x="158.44" y="761.708" width="12.57" height="7.280" fill="#bfc3e5"/>
<rect x="170.96" y="761.708" width="12.57" height="7.280" fill="#3953a6"/>
<rect x="183.48" y="761.708" width="12.57" height="7.280" fill="#3953a6"/>
<rect x="196.00" y="761.708" width="12.57" height="7.280" fill="#3953a6"/>
<rect x="208.52" y="761.708" width="12.57" height="7.280" fill="#3953a6"/>
<rect x="221.04" y="761.708" width="12.57" height="7.280" fill="#3953a6"/>
<rect x="233.56" y="761.708" width="12.57" height="7.280" fill="#3953a6"/>
<rect x="246.08" y="761.708" width="12.57" height="7.280" fill="#3953a6"/>
<rect x="258.60" y="761.708" width="12.57" height="7.280" fill="#3953a6"/>
<rect x="271.12" y="761.708" width="12.57" height="7.280" fill="#8088c8"/>
<rect x="283.64" y="761.708" width="12.57" height="7.280" fill="#fdcece"/>
<rect x="296.16" y="761.708" width="12.57" height="7.280" fill="#ef2f2e"/>
<rect x="308.68" y="761.708" width="12.57" height="7.280" fill="#ef2f2e"/>
<rect x="321.20" y="761.708" width="12.57" height="7.280" fill="#ef2f2e"/>
<rect x="133.40" y="768.938" width="12.57" height="7.280" fill="#a6aad8"/>
<rect x="145.92" y="768.938" width="12.57" height="7.280" fill="#3953a6"/>
<rect x="158.44" y="768.938" width="12.57" height="7.280" fill="#e0e0f2"/>
<rect x="170.96" y="768.938" width="12.57" height="7.280" fill="#3953a6"/>
<rect x="183.48" y="768.938" width="12.57" height="7.280" fill="#3953a6"/>
<rect x="196.00" y="768.938" width="12.57" height="7.280" fill="#3953a6"/>
<rect x="208.52" y="768.938" width="12.57" height="7.280" fill="#3953a6"/>
<rect x="221.04" y="768.938" width="12.57" height="7.280" fill="#3953a6"/>
<rect x="233.56" y="768.938" width="12.57" height="7.280" fill="#3953a6"/>
<rect x="246.08" y="768.938" width="12.57" height="7.280" fill="#5058aa"/>
<rect x="258.60" y="768.938" width="12.57" height="7.280" fill="#3953a6"/>
<rect x="271.12" y="768.938" width="12.57" height="7.280" fill="#3953a6"/>
<rect x="283.64" y="768.938" width="12.57" height="7.280" fill="#fedfdf"/>
<rect x="296.16" y="768.938" width="12.57" height="7.280" fill="#f05050"/>
<rect x="308.68" y="768.938" width="12.57" height="7.280" fill="#ef2f2e"/>
<rect x="321.20" y="768.938" width="12.57" height="7.280" fill="#ef2f2e"/>
<rect x="133.40" y="776.169" width="12.57" height="7.280" fill="#a9adda"/>
<rect x="145.92" y="776.169" width="12.57" height="7.280" fill="#ef2f2e"/>
<rect x="158.44" y="776.169" width="12.57" height="7.280" fill="#878ecb"/>
<rect x="170.96" y="776.169" width="12.57" height="7.280" fill="#3953a6"/>
<rect x="183.48" y="776.169" width="12.57" height="7.280" fill="#3953a6"/>
<rect x="196.00" y="776.169" width="12.57" height="7.280" fill="#3953a6"/>
<rect x="208.52" y="776.169" width="12.57" height="7.280" fill="#3953a6"/>
<rect x="221.04" y="776.169" width="12.57" height="7.280" fill="#3953a6"/>
<rect x="233.56" y="776.169" width="12.57" height="7.280" fill="#3953a6"/>
<rect x="246.08" y="776.169" width="12.57" height="7.280" fill="#3953a6"/>
<rect x="258.60" y="776.169" width="12.57" height="7.280" fill="#b6bae1"/>
<rect x="271.12" y="776.169" width="12.57" height="7.280" fill="#7d85c6"/>
<rect x="283.64" y="776.169" width="12.57" height="7.280" fill="#fdb2b2"/>
<rect x="296.16" y="776.169" width="12.57" height="7.280" fill="#ef2f2e"/>
<rect x="308.68" y="776.169" width="12.57" height="7.280" fill="#ef2f2e"/>
<rect x="321.20" y="776.169" width="12.57" height="7.280" fill="#ef2f2e"/>
<rect x="133.40" y="783.399" width="12.57" height="7.280" fill="#3953a6"/>
<rect x="145.92" y="783.399" width="12.57" height="7.280" fill="#3953a6"/>
<rect x="158.44" y="783.399" width="12.57" height="7.280" fill="#3953a6"/>
<rect x="170.96" y="783.399" width="12.57" height="7.280" fill="#3953a6"/>
<rect x="183.48" y="783.399" width="12.57" height="7.280" fill="#3953a6"/>
<rect x="196.00" y="783.399" width="12.57" height="7.280" fill="#878ecb"/>
<rect x="208.52" y="783.399" width="12.57" height="7.280" fill="#3953a6"/>
<rect x="221.04" y="783.399" width="12.57" height="7.280" fill="#3953a6"/>
<rect x="233.56" y="783.399" width="12.57" height="7.280" fill="#3953a6"/>
<rect x="246.08" y="783.399" width="12.57" height="7.280" fill="#3953a6"/>
<rect x="258.60" y="783.399" width="12.57" height="7.280" fill="#3953a6"/>
<rect x="271.12" y="783.399" width="12.57" height="7.280" fill="#3953a6"/>
<rect x="283.64" y="783.399" width="12.57" height="7.280" fill="#ef2f2e"/>
<rect x="296.16" y="783.399" width="12.57" height="7.280" fill="#fdb2b2"/>
<rect x="308.68" y="783.399" width="12.57" height="7.280" fill="#ef2f2e"/>
<rect x="321.20" y="783.399" width="12.57" height="7.280" fill="#ef2f2e"/>
<rect x="133.40" y="790.630" width="12.57" height="7.280" fill="#3953a6"/>
<rect x="145.92" y="790.630" width="12.57" height="7.280" fill="#3953a6"/>
<rect x="158.44" y="790.630" width="12.57" height="7.280" fill="#3953a6"/>
<rect x="170.96" y="790.630" width="12.57" height="7.280" fill="#3953a6"/>
<rect x="183.48" y="790.630" width="12.57" height="7.280" fill="#3953a6"/>
<rect x="196.00" y="790.630" width="12.57" height="7.280" fill="#878ecb"/>
<rect x="208.52" y="790.630" width="12.57" height="7.280" fill="#3953a6"/>
<rect x="221.04" y="790.630" width="12.57" height="7.280" fill="#3953a6"/>
<rect x="233.56" y="790.630" width="12.57" height="7.280" fill="#3953a6"/>
<rect x="246.08" y="790.630" width="12.57" height="7.280" fill="#5058aa"/>
<rect x="258.60" y="790.630" width="12.57" height="7.280" fill="#3953a6"/>
<rect x="271.12" y="790.630" width="12.57" height="7.280" fill="#3953a6"/>
<rect x="283.64" y="790.630" width="12.57" height="7.280" fill="#f15757"/>
<rect x="296.16" y="790.630" width="12.57" height="7.280" fill="#f9f9fc"/>
<rect x="308.68" y="790.630" width="12.57" height="7.280" fill="#ef2f2e"/>
<rect x="321.20" y="790.630" width="12.57" height="7.280" fill="#ef2f2e"/>
<rect x="133.40" y="797.860" width="12.57" height="7.280" fill="#3953a6"/>
<rect x="145.92" y="797.860" width="12.57" height="7.280" fill="#3953a6"/>
<rect x="158.44" y="797.860" width="12.57" height="7.280" fill="#6a72b9"/>
<rect x="170.96" y="797.860" width="12.57" height="7.280" fill="#3953a6"/>
<rect x="183.48" y="797.860" width="12.57" height="7.280" fill="#3953a6"/>
<rect x="196.00" y="797.860" width="12.57" height="7.280" fill="#3953a6"/>
<rect x="208.52" y="797.860" width="12.57" height="7.280" fill="#3953a6"/>
<rect x="221.04" y="797.860" width="12.57" height="7.280" fill="#3953a6"/>
<rect x="233.56" y="797.860" width="12.57" height="7.280" fill="#3953a6"/>
<rect x="246.08" y="797.860" width="12.57" height="7.280" fill="#3953a6"/>
<rect x="258.60" y="797.860" width="12.57" height="7.280" fill="#a6aad8"/>
<rect x="271.12" y="797.860" width="12.57" height="7.280" fill="#5a62b0"/>
<rect x="283.64" y="797.860" width="12.57" height="7.280" fill="#ef2f2e"/>
<rect x="296.16" y="797.860" width="12.57" height="7.280" fill="#a6aad8"/>
<rect x="308.68" y="797.860" width="12.57" height="7.280" fill="#ef2f2e"/>
<rect x="321.20" y="797.860" width="12.57" height="7.280" fill="#ef2f2e"/>
<rect x="133.40" y="805.090" width="12.57" height="7.280" fill="#5a62b0"/>
<rect x="145.92" y="805.090" width="12.57" height="7.280" fill="#3953a6"/>
<rect x="158.44" y="805.090" width="12.57" height="7.280" fill="#3953a6"/>
<rect x="170.96" y="805.090" width="12.57" height="7.280" fill="#3953a6"/>
<rect x="183.48" y="805.090" width="12.57" height="7.280" fill="#3953a6"/>
<rect x="196.00" y="805.090" width="12.57" height="7.280" fill="#3953a6"/>
<rect x="208.52" y="805.090" width="12.57" height="7.280" fill="#3953a6"/>
<rect x="221.04" y="805.090" width="12.57" height="7.280" fill="#3953a6"/>
<rect x="233.56" y="805.090" width="12.57" height="7.280" fill="#3953a6"/>
<rect x="246.08" y="805.090" width="12.57" height="7.280" fill="#3953a6"/>
<rect x="258.60" y="805.090" width="12.57" height="7.280" fill="#3953a6"/>
<rect x="271.12" y="805.090" width="12.57" height="7.280" fill="#3953a6"/>
<rect x="283.64" y="805.090" width="12.57" height="7.280" fill="#ef2f2e"/>
<rect x="296.16" y="805.090" width="12.57" height="7.280" fill="#f67d7d"/>
<rect x="308.68" y="805.090" width="12.57" height="7.280" fill="#fddbdb"/>
<rect x="321.20" y="805.090" width="12.57" height="7.280" fill="#ef2f2e"/>
<rect x="133.40" y="812.321" width="12.57" height="7.280" fill="#3953a6"/>
<rect x="145.92" y="812.321" width="12.57" height="7.280" fill="#3953a6"/>
<rect x="158.44" y="812.321" width="12.57" height="7.280" fill="#3953a6"/>
<rect x="170.96" y="812.321" width="12.57" height="7.280" fill="#3953a6"/>
<rect x="183.48" y="812.321" width="12.57" height="7.280" fill="#3953a6"/>
<rect x="196.00" y="812.321" width="12.57" height="7.280" fill="#3953a6"/>
<rect x="208.52" y="812.321" width="12.57" height="7.280" fill="#3953a6"/>
<rect x="221.04" y="812.321" width="12.57" height="7.280" fill="#3953a6"/>
<rect x="233.56" y="812.321" width="12.57" height="7.280" fill="#3953a6"/>
<rect x="246.08" y="812.321" width="12.57" height="7.280" fill="#3953a6"/>
<rect x="258.60" y="812.321" width="12.57" height="7.280" fill="#3953a6"/>
<rect x="271.12" y="812.321" width="12.57" height="7.280" fill="#8088c8"/>
<rect x="283.64" y="812.321" width="12.57" height="7.280" fill="#ef2f2e"/>
<rect x="296.16" y="812.321" width="12.57" height="7.280" fill="#fee4e4"/>
<rect x="308.68" y="812.321" width="12.57" height="7.280" fill="#ffffff"/>
<rect x="321.20" y="812.321" width="12.57" height="7.280" fill="#ef2f2e"/>
<rect x="133.40" y="819.551" width="12.57" height="7.280" fill="#7a82c3"/>
<rect x="145.92" y="819.551" width="12.57" height="7.280" fill="#c8ccea"/>
<rect x="158.44" y="819.551" width="12.57" height="7.280" fill="#3953a6"/>
<rect x="170.96" y="819.551" width="12.57" height="7.280" fill="#3953a6"/>
<rect x="183.48" y="819.551" width="12.57" height="7.280" fill="#3953a6"/>
<rect x="196.00" y="819.551" width="12.57" height="7.280" fill="#3953a6"/>
<rect x="208.52" y="819.551" width="12.57" height="7.280" fill="#3953a6"/>
<rect x="221.04" y="819.551" width="12.57" height="7.280" fill="#3953a6"/>
<rect x="233.56" y="819.551" width="12.57" height="7.280" fill="#3953a6"/>
<rect x="246.08" y="819.551" width="12.57" height="7.280" fill="#3953a6"/>
<rect x="258.60" y="819.551" width="12.57" height="7.280" fill="#3953a6"/>
<rect x="271.12" y="819.551" width="12.57" height="7.280" fill="#8088c8"/>
<rect x="283.64" y="819.551" width="12.57" height="7.280" fill="#ef2f2e"/>
<rect x="296.16" y="819.551" width="12.57" height="7.280" fill="#ef2f2e"/>
<rect x="308.68" y="819.551" width="12.57" height="7.280" fill="#ef2f2e"/>
<rect x="321.20" y="819.551" width="12.57" height="7.280" fill="#ef2f2e"/>
<rect x="133.40" y="826.782" width="12.57" height="7.280" fill="#3953a6"/>
<rect x="145.92" y="826.782" width="12.57" height="7.280" fill="#3953a6"/>
<rect x="158.44" y="826.782" width="12.57" height="7.280" fill="#3953a6"/>
<rect x="170.96" y="826.782" width="12.57" height="7.280" fill="#3953a6"/>
<rect x="183.48" y="826.782" width="12.57" height="7.280" fill="#3953a6"/>
<rect x="196.00" y="826.782" width="12.57" height="7.280" fill="#3953a6"/>
<rect x="208.52" y="826.782" width="12.57" height="7.280" fill="#3953a6"/>
<rect x="221.04" y="826.782" width="12.57" height="7.280" fill="#3953a6"/>
<rect x="233.56" y="826.782" width="12.57" height="7.280" fill="#3953a6"/>
<rect x="246.08" y="826.782" width="12.57" height="7.280" fill="#3953a6"/>
<rect x="258.60" y="826.782" width="12.57" height="7.280" fill="#3953a6"/>
<rect x="271.12" y="826.782" width="12.57" height="7.280" fill="#3953a6"/>
<rect x="283.64" y="826.782" width="12.57" height="7.280" fill="#ef2f2e"/>
<rect x="296.16" y="826.782" width="12.57" height="7.280" fill="#ef2f2e"/>
<rect x="308.68" y="826.782" width="12.57" height="7.280" fill="#ef2f2e"/>
<rect x="321.20" y="826.782" width="12.57" height="7.280" fill="#f89090"/>
<rect x="133.40" y="834.012" width="12.57" height="7.280" fill="#a6aad8"/>
<rect x="145.92" y="834.012" width="12.57" height="7.280" fill="#3953a6"/>
<rect x="158.44" y="834.012" width="12.57" height="7.280" fill="#3953a6"/>
<rect x="170.96" y="834.012" width="12.57" height="7.280" fill="#3953a6"/>
<rect x="183.48" y="834.012" width="12.57" height="7.280" fill="#3953a6"/>
<rect x="196.00" y="834.012" width="12.57" height="7.280" fill="#3953a6"/>
<rect x="208.52" y="834.012" width="12.57" height="7.280" fill="#3953a6"/>
<rect x="221.04" y="834.012" width="12.57" height="7.280" fill="#3953a6"/>
<rect x="233.56" y="834.012" width="12.57" height="7.280" fill="#3953a6"/>
<rect x="246.08" y="834.012" width="12.57" height="7.280" fill="#3953a6"/>
<rect x="258.60" y="834.012" width="12.57" height="7.280" fill="#3953a6"/>
<rect x="271.12" y="834.012" width="12.57" height="7.280" fill="#6a72b9"/>
<rect x="283.64" y="834.012" width="12.57" height="7.280" fill="#fdcece"/>
<rect x="296.16" y="834.012" width="12.57" height="7.280" fill="#fedfdf"/>
<rect x="308.68" y="834.012" width="12.57" height="7.280" fill="#ef2f2e"/>
<rect x="321.20" y="834.012" width="12.57" height="7.280" fill="#f99595"/>
<rect x="133.40" y="841.242" width="12.57" height="7.280" fill="#3953a6"/>
<rect x="145.92" y="841.242" width="12.57" height="7.280" fill="#3953a6"/>
<rect x="158.44" y="841.242" width="12.57" height="7.280" fill="#3953a6"/>
<rect x="170.96" y="841.242" width="12.57" height="7.280" fill="#3953a6"/>
<rect x="183.48" y="841.242" width="12.57" height="7.280" fill="#3953a6"/>
<rect x="196.00" y="841.242" width="12.57" height="7.280" fill="#3953a6"/>
<rect x="208.52" y="841.242" width="12.57" height="7.280" fill="#3953a6"/>
<rect x="221.04" y="841.242" width="12.57" height="7.280" fill="#3953a6"/>
<rect x="233.56" y="841.242" width="12.57" height="7.280" fill="#3953a6"/>
<rect x="246.08" y="841.242" width="12.57" height="7.280" fill="#3953a6"/>
<rect x="258.60" y="841.242" width="12.57" height="7.280" fill="#3953a6"/>
<rect x="271.12" y="841.242" width="12.57" height="7.280" fill="#3953a6"/>
<rect x="283.64" y="841.242" width="12.57" height="7.280" fill="#ccd0ec"/>
<rect x="296.16" y="841.242" width="12.57" height="7.280" fill="#4b57a9"/>
<rect x="308.68" y="841.242" width="12.57" height="7.280" fill="#f04848"/>
<rect x="321.20" y="841.242" width="12.57" height="7.280" fill="#f89090"/>
<rect x="133.40" y="848.473" width="12.57" height="7.280" fill="#3953a6"/>
<rect x="145.92" y="848.473" width="12.57" height="7.280" fill="#ececf7"/>
<rect x="158.44" y="848.473" width="12.57" height="7.280" fill="#3953a6"/>
<rect x="170.96" y="848.473" width="12.57" height="7.280" fill="#ffc0c0"/>
<rect x="183.48" y="848.473" width="12.57" height="7.280" fill="#3953a6"/>
<rect x="196.00" y="848.473" width="12.57" height="7.280" fill="#3953a6"/>
<rect x="208.52" y="848.473" width="12.57" height="7.280" fill="#3953a6"/>
<rect x="221.04" y="848.473" width="12.57" height="7.280" fill="#3953a6"/>
<rect x="233.56" y="848.473" width="12.57" height="7.280" fill="#3953a6"/>
<rect x="246.08" y="848.473" width="12.57" height="7.280" fill="#3953a6"/>
<rect x="258.60" y="848.473" width="12.57" height="7.280" fill="#3953a6"/>
<rect x="271.12" y="848.473" width="12.57" height="7.280" fill="#3953a6"/>
<rect x="283.64" y="848.473" width="12.57" height="7.280" fill="#ffffff"/>
<rect x="296.16" y="848.473" width="12.57" height="7.280" fill="#7d85c6"/>
<rect x="308.68" y="848.473" width="12.57" height="7.280" fill="#f04141"/>
<rect x="321.20" y="848.473" width="12.57" height="7.280" fill="#ef2f2e"/>
<rect x="133.40" y="855.703" width="12.57" height="7.280" fill="#3953a6"/>
<rect x="145.92" y="855.703" width="12.57" height="7.280" fill="#7d85c6"/>
<rect x="158.44" y="855.703" width="12.57" height="7.280" fill="#9296d0"/>
<rect x="170.96" y="855.703" width="12.57" height="7.280" fill="#3953a6"/>
<rect x="183.48" y="855.703" width="12.57" height="7.280" fill="#3953a6"/>
<rect x="196.00" y="855.703" width="12.57" height="7.280" fill="#3953a6"/>
<rect x="208.52" y="855.703" width="12.57" height="7.280" fill="#3953a6"/>
<rect x="221.04" y="855.703" width="12.57" height="7.280" fill="#3953a6"/>
<rect x="233.56" y="855.703" width="12.57" height="7.280" fill="#3953a6"/>
<rect x="246.08" y="855.703" width="12.57" height="7.280" fill="#3953a6"/>
<rect x="258.60" y="855.703" width="12.57" height="7.280" fill="#3953a6"/>
<rect x="271.12" y="855.703" width="12.57" height="7.280" fill="#3953a6"/>
<rect x="283.64" y="855.703" width="12.57" height="7.280" fill="#3953a6"/>
<rect x="296.16" y="855.703" width="12.57" height="7.280" fill="#f9f9fc"/>
<rect x="308.68" y="855.703" width="12.57" height="7.280" fill="#fedfdf"/>
<rect x="321.20" y="855.703" width="12.57" height="7.280" fill="#f57878"/>
<rect x="133.40" y="862.934" width="12.57" height="7.280" fill="#3953a6"/>
<rect x="145.92" y="862.934" width="12.57" height="7.280" fill="#3953a6"/>
<rect x="158.44" y="862.934" width="12.57" height="7.280" fill="#3953a6"/>
<rect x="170.96" y="862.934" width="12.57" height="7.280" fill="#3953a6"/>
<rect x="183.48" y="862.934" width="12.57" height="7.280" fill="#3953a6"/>
<rect x="196.00" y="862.934" width="12.57" height="7.280" fill="#3953a6"/>
<rect x="208.52" y="862.934" width="12.57" height="7.280" fill="#3953a6"/>
<rect x="221.04" y="862.934" width="12.57" height="7.280" fill="#3953a6"/>
<rect x="233.56" y="862.934" width="12.57" height="7.280" fill="#3953a6"/>
<rect x="246.08" y="862.934" width="12.57" height="7.280" fill="#3953a6"/>
<rect x="258.60" y="862.934" width="12.57" height="7.280" fill="#3953a6"/>
<rect x="271.12" y="862.934" width="12.57" height="7.280" fill="#3953a6"/>
<rect x="283.64" y="862.934" width="12.57" height="7.280" fill="#c8ccea"/>
<rect x="296.16" y="862.934" width="12.57" height="7.280" fill="#9296d0"/>
<rect x="308.68" y="862.934" width="12.57" height="7.280" fill="#8088c8"/>
<rect x="321.20" y="862.934" width="12.57" height="7.280" fill="#f57878"/>
<rect x="133.40" y="870.164" width="12.57" height="7.280" fill="#3953a6"/>
<rect x="145.92" y="870.164" width="12.57" height="7.280" fill="#bfc3e5"/>
<rect x="158.44" y="870.164" width="12.57" height="7.280" fill="#3953a6"/>
<rect x="170.96" y="870.164" width="12.57" height="7.280" fill="#3953a6"/>
<rect x="183.48" y="870.164" width="12.57" height="7.280" fill="#3953a6"/>
<rect x="196.00" y="870.164" width="12.57" height="7.280" fill="#3953a6"/>
<rect x="208.52" y="870.164" width="12.57" height="7.280" fill="#3953a6"/>
<rect x="221.04" y="870.164" width="12.57" height="7.280" fill="#3953a6"/>
<rect x="233.56" y="870.164" width="12.57" height="7.280" fill="#3953a6"/>
<rect x="246.08" y="870.164" width="12.57" height="7.280" fill="#3953a6"/>
<rect x="258.60" y="870.164" width="12.57" height="7.280" fill="#3953a6"/>
<rect x="271.12" y="870.164" width="12.57" height="7.280" fill="#3953a6"/>
<rect x="283.64" y="870.164" width="12.57" height="7.280" fill="#fef1f1"/>
<rect x="296.16" y="870.164" width="12.57" height="7.280" fill="#f47474"/>
<rect x="308.68" y="870.164" width="12.57" height="7.280" fill="#3953a6"/>
<rect x="321.20" y="870.164" width="12.57" height="7.280" fill="#f15757"/>
<rect x="133.40" y="877.394" width="12.57" height="7.280" fill="#dcddf1"/>
<rect x="145.92" y="877.394" width="12.57" height="7.280" fill="#3953a6"/>
<rect x="158.44" y="877.394" width="12.57" height="7.280" fill="#3953a6"/>
<rect x="170.96" y="877.394" width="12.57" height="7.280" fill="#3953a6"/>
<rect x="183.48" y="877.394" width="12.57" height="7.280" fill="#3953a6"/>
<rect x="196.00" y="877.394" width="12.57" height="7.280" fill="#3953a6"/>
<rect x="208.52" y="877.394" width="12.57" height="7.280" fill="#3953a6"/>
<rect x="221.04" y="877.394" width="12.57" height="7.280" fill="#3953a6"/>
<rect x="233.56" y="877.394" width="12.57" height="7.280" fill="#3953a6"/>
<rect x="246.08" y="877.394" width="12.57" height="7.280" fill="#3953a6"/>
<rect x="258.60" y="877.394" width="12.57" height="7.280" fill="#3953a6"/>
<rect x="271.12" y="877.394" width="12.57" height="7.280" fill="#3953a6"/>
<rect x="283.64" y="877.394" width="12.57" height="7.280" fill="#3953a6"/>
<rect x="296.16" y="877.394" width="12.57" height="7.280" fill="#ef2f2e"/>
<rect x="308.68" y="877.394" width="12.57" height="7.280" fill="#ececf7"/>
<rect x="321.20" y="877.394" width="12.57" height="7.280" fill="#8088c8"/>
<rect x="133.40" y="884.625" width="12.57" height="7.280" fill="#fba3a3"/>
<rect x="145.92" y="884.625" width="12.57" height="7.280" fill="#3953a6"/>
<rect x="158.44" y="884.625" width="12.57" height="7.280" fill="#3953a6"/>
<rect x="170.96" y="884.625" width="12.57" height="7.280" fill="#3953a6"/>
<rect x="183.48" y="884.625" width="12.57" height="7.280" fill="#3953a6"/>
<rect x="196.00" y="884.625" width="12.57" height="7.280" fill="#3953a6"/>
<rect x="208.52" y="884.625" width="12.57" height="7.280" fill="#3953a6"/>
<rect x="221.04" y="884.625" width="12.57" height="7.280" fill="#3953a6"/>
<rect x="233.56" y="884.625" width="12.57" height="7.280" fill="#3953a6"/>
<rect x="246.08" y="884.625" width="12.57" height="7.280" fill="#3953a6"/>
<rect x="258.60" y="884.625" width="12.57" height="7.280" fill="#3953a6"/>
<rect x="271.12" y="884.625" width="12.57" height="7.280" fill="#3953a6"/>
<rect x="283.64" y="884.625" width="12.57" height="7.280" fill="#3953a6"/>
<rect x="296.16" y="884.625" width="12.57" height="7.280" fill="#f04848"/>
<rect x="308.68" y="884.625" width="12.57" height="7.280" fill="#8088c8"/>
<rect x="321.20" y="884.625" width="12.57" height="7.280" fill="#5058aa"/>
<rect x="133.40" y="891.855" width="12.57" height="7.280" fill="#e6e6f5"/>
<rect x="145.92" y="891.855" width="12.57" height="7.280" fill="#3953a6"/>
<rect x="158.44" y="891.855" width="12.57" height="7.280" fill="#3953a6"/>
<rect x="170.96" y="891.855" width="12.57" height="7.280" fill="#3953a6"/>
<rect x="183.48" y="891.855" width="12.57" height="7.280" fill="#3953a6"/>
<rect x="196.00" y="891.855" width="12.57" height="7.280" fill="#3953a6"/>
<rect x="208.52" y="891.855" width="12.57" height="7.280" fill="#3953a6"/>
<rect x="221.04" y="891.855" width="12.57" height="7.280" fill="#3953a6"/>
<rect x="233.56" y="891.855" width="12.57" height="7.280" fill="#3953a6"/>
<rect x="246.08" y="891.855" width="12.57" height="7.280" fill="#3953a6"/>
<rect x="258.60" y="891.855" width="12.57" height="7.280" fill="#3953a6"/>
<rect x="271.12" y="891.855" width="12.57" height="7.280" fill="#3953a6"/>
<rect x="283.64" y="891.855" width="12.57" height="7.280" fill="#3953a6"/>
<rect x="296.16" y="891.855" width="12.57" height="7.280" fill="#ef2f2e"/>
<rect x="308.68" y="891.855" width="12.57" height="7.280" fill="#f15b5b"/>
<rect x="321.20" y="891.855" width="12.57" height="7.280" fill="#9296d0"/>
<rect x="133.40" y="899.086" width="12.57" height="7.280" fill="#fdd6d6"/>
<rect x="145.92" y="899.086" width="12.57" height="7.280" fill="#3953a6"/>
<rect x="158.44" y="899.086" width="12.57" height="7.280" fill="#c8ccea"/>
<rect x="170.96" y="899.086" width="12.57" height="7.280" fill="#3953a6"/>
<rect x="183.48" y="899.086" width="12.57" height="7.280" fill="#3953a6"/>
<rect x="196.00" y="899.086" width="12.57" height="7.280" fill="#3953a6"/>
<rect x="208.52" y="899.086" width="12.57" height="7.280" fill="#3953a6"/>
<rect x="221.04" y="899.086" width="12.57" height="7.280" fill="#3953a6"/>
<rect x="233.56" y="899.086" width="12.57" height="7.280" fill="#3953a6"/>
<rect x="246.08" y="899.086" width="12.57" height="7.280" fill="#3953a6"/>
<rect x="258.60" y="899.086" width="12.57" height="7.280" fill="#3953a6"/>
<rect x="271.12" y="899.086" width="12.57" height="7.280" fill="#3953a6"/>
<rect x="283.64" y="899.086" width="12.57" height="7.280" fill="#3953a6"/>
<rect x="296.16" y="899.086" width="12.57" height="7.280" fill="#fef1f1"/>
<rect x="308.68" y="899.086" width="12.57" height="7.280" fill="#ef2f2e"/>
<rect x="321.20" y="899.086" width="12.57" height="7.280" fill="#ef2f2e"/>
<rect x="133.40" y="906.316" width="12.57" height="7.280" fill="#3953a6"/>
<rect x="145.92" y="906.316" width="12.57" height="7.280" fill="#3953a6"/>
<rect x="158.44" y="906.316" width="12.57" height="7.280" fill="#3953a6"/>
<rect x="170.96" y="906.316" width="12.57" height="7.280" fill="#3953a6"/>
<rect x="183.48" y="906.316" width="12.57" height="7.280" fill="#3953a6"/>
<rect x="196.00" y="906.316" width="12.57" height="7.280" fill="#3953a6"/>
<rect x="208.52" y="906.316" width="12.57" height="7.280" fill="#3953a6"/>
<rect x="221.04" y="906.316" width="12.57" height="7.280" fill="#3953a6"/>
<rect x="233.56" y="906.316" width="12.57" height="7.280" fill="#3953a6"/>
<rect x="246.08" y="906.316" width="12.57" height="7.280" fill="#3953a6"/>
<rect x="258.60" y="906.316" width="12.57" height="7.280" fill="#3953a6"/>
<rect x="271.12" y="906.316" width="12.57" height="7.280" fill="#3953a6"/>
<rect x="283.64" y="906.316" width="12.57" height="7.280" fill="#3953a6"/>
<rect x="296.16" y="906.316" width="12.57" height="7.280" fill="#3953a6"/>
<rect x="308.68" y="906.316" width="12.57" height="7.280" fill="#7a82c3"/>
<rect x="321.20" y="906.316" width="12.57" height="7.280" fill="#5058aa"/>
<rect x="133.40" y="913.546" width="12.57" height="7.280" fill="#3953a6"/>
<rect x="145.92" y="913.546" width="12.57" height="7.280" fill="#3953a6"/>
<rect x="158.44" y="913.546" width="12.57" height="7.280" fill="#3953a6"/>
<rect x="170.96" y="913.546" width="12.57" height="7.280" fill="#3953a6"/>
<rect x="183.48" y="913.546" width="12.57" height="7.280" fill="#3953a6"/>
<rect x="196.00" y="913.546" width="12.57" height="7.280" fill="#3953a6"/>
<rect x="208.52" y="913.546" width="12.57" height="7.280" fill="#3953a6"/>
<rect x="221.04" y="913.546" width="12.57" height="7.280" fill="#3953a6"/>
<rect x="233.56" y="913.546" width="12.57" height="7.280" fill="#3953a6"/>
<rect x="246.08" y="913.546" width="12.57" height="7.280" fill="#3953a6"/>
<rect x="258.60" y="913.546" width="12.57" height="7.280" fill="#3953a6"/>
<rect x="271.12" y="913.546" width="12.57" height="7.280" fill="#3953a6"/>
<rect x="283.64" y="913.546" width="12.57" height="7.280" fill="#3953a6"/>
<rect x="296.16" y="913.546" width="12.57" height="7.280" fill="#7078bc"/>
<rect x="308.68" y="913.546" width="12.57" height="7.280" fill="#3953a6"/>
<rect x="321.20" y="913.546" width="12.57" height="7.280" fill="#3953a6"/>
<rect x="133.40" y="920.777" width="12.57" height="7.280" fill="#3953a6"/>
<rect x="145.92" y="920.777" width="12.57" height="7.280" fill="#3953a6"/>
<rect x="158.44" y="920.777" width="12.57" height="7.280" fill="#3953a6"/>
<rect x="170.96" y="920.777" width="12.57" height="7.280" fill="#3953a6"/>
<rect x="183.48" y="920.777" width="12.57" height="7.280" fill="#3953a6"/>
<rect x="196.00" y="920.777" width="12.57" height="7.280" fill="#3953a6"/>
<rect x="208.52" y="920.777" width="12.57" height="7.280" fill="#3953a6"/>
<rect x="221.04" y="920.777" width="12.57" height="7.280" fill="#3953a6"/>
<rect x="233.56" y="920.777" width="12.57" height="7.280" fill="#3953a6"/>
<rect x="246.08" y="920.777" width="12.57" height="7.280" fill="#3953a6"/>
<rect x="258.60" y="920.777" width="12.57" height="7.280" fill="#3953a6"/>
<rect x="271.12" y="920.777" width="12.57" height="7.280" fill="#3953a6"/>
<rect x="283.64" y="920.777" width="12.57" height="7.280" fill="#3953a6"/>
<rect x="296.16" y="920.777" width="12.57" height="7.280" fill="#5a62b0"/>
<rect x="308.68" y="920.777" width="12.57" height="7.280" fill="#3953a6"/>
<rect x="321.20" y="920.777" width="12.57" height="7.280" fill="#3953a6"/>
<rect x="133.40" y="928.007" width="12.57" height="7.280" fill="#3953a6"/>
<rect x="145.92" y="928.007" width="12.57" height="7.280" fill="#3953a6"/>
<rect x="158.44" y="928.007" width="12.57" height="7.280" fill="#3953a6"/>
<rect x="170.96" y="928.007" width="12.57" height="7.280" fill="#3953a6"/>
<rect x="183.48" y="928.007" width="12.57" height="7.280" fill="#9296d0"/>
<rect x="196.00" y="928.007" width="12.57" height="7.280" fill="#3953a6"/>
<rect x="208.52" y="928.007" width="12.57" height="7.280" fill="#3953a6"/>
<rect x="221.04" y="928.007" width="12.57" height="7.280" fill="#3953a6"/>
<rect x="233.56" y="928.007" width="12.57" height="7.280" fill="#3953a6"/>
<rect x="246.08" y="928.007" width="12.57" height="7.280" fill="#3953a6"/>
<rect x="258.60" y="928.007" width="12.57" height="7.280" fill="#3953a6"/>
<rect x="271.12" y="928.007" width="12.57" height="7.280" fill="#3953a6"/>
<rect x="283.64" y="928.007" width="12.57" height="7.280" fill="#3953a6"/>
<rect x="296.16" y="928.007" width="12.57" height="7.280" fill="#3953a6"/>
<rect x="308.68" y="928.007" width="12.57" height="7.280" fill="#3953a6"/>
<rect x="321.20" y="928.007" width="12.57" height="7.280" fill="#3953a6"/>
<rect x="133.40" y="935.238" width="12.57" height="7.280" fill="#3953a6"/>
<rect x="145.92" y="935.238" width="12.57" height="7.280" fill="#3953a6"/>
<rect x="158.44" y="935.238" width="12.57" height="7.280" fill="#3953a6"/>
<rect x="170.96" y="935.238" width="12.57" height="7.280" fill="#3953a6"/>
<rect x="183.48" y="935.238" width="12.57" height="7.280" fill="#3953a6"/>
<rect x="196.00" y="935.238" width="12.57" height="7.280" fill="#8088c8"/>
<rect x="208.52" y="935.238" width="12.57" height="7.280" fill="#3953a6"/>
<rect x="221.04" y="935.238" width="12.57" height="7.280" fill="#3953a6"/>
<rect x="233.56" y="935.238" width="12.57" height="7.280" fill="#3953a6"/>
<rect x="246.08" y="935.238" width="12.57" height="7.280" fill="#5058aa"/>
<rect x="258.60" y="935.238" width="12.57" height="7.280" fill="#3953a6"/>
<rect x="271.12" y="935.238" width="12.57" height="7.280" fill="#3953a6"/>
<rect x="283.64" y="935.238" width="12.57" height="7.280" fill="#3953a6"/>
<rect x="296.16" y="935.238" width="12.57" height="7.280" fill="#3953a6"/>
<rect x="308.68" y="935.238" width="12.57" height="7.280" fill="#3953a6"/>
<rect x="321.20" y="935.238" width="12.57" height="7.280" fill="#3953a6"/>
<rect x="133.40" y="942.468" width="12.57" height="7.280" fill="#3953a6"/>
<rect x="145.92" y="942.468" width="12.57" height="7.280" fill="#3953a6"/>
<rect x="158.44" y="942.468" width="12.57" height="7.280" fill="#3953a6"/>
<rect x="170.96" y="942.468" width="12.57" height="7.280" fill="#3953a6"/>
<rect x="183.48" y="942.468" width="12.57" height="7.280" fill="#3953a6"/>
<rect x="196.00" y="942.468" width="12.57" height="7.280" fill="#5a62b0"/>
<rect x="208.52" y="942.468" width="12.57" height="7.280" fill="#3953a6"/>
<rect x="221.04" y="942.468" width="12.57" height="7.280" fill="#3953a6"/>
<rect x="233.56" y="942.468" width="12.57" height="7.280" fill="#3953a6"/>
<rect x="246.08" y="942.468" width="12.57" height="7.280" fill="#3953a6"/>
<rect x="258.60" y="942.468" width="12.57" height="7.280" fill="#3953a6"/>
<rect x="271.12" y="942.468" width="12.57" height="7.280" fill="#3953a6"/>
<rect x="283.64" y="942.468" width="12.57" height="7.280" fill="#3953a6"/>
<rect x="296.16" y="942.468" width="12.57" height="7.280" fill="#3953a6"/>
<rect x="308.68" y="942.468" width="12.57" height="7.280" fill="#3953a6"/>
<rect x="321.20" y="942.468" width="12.57" height="7.280" fill="#3953a6"/>
<rect x="133.40" y="949.698" width="12.57" height="7.280" fill="#3953a6"/>
<rect x="145.92" y="949.698" width="12.57" height="7.280" fill="#3953a6"/>
<rect x="158.44" y="949.698" width="12.57" height="7.280" fill="#3953a6"/>
<rect x="170.96" y="949.698" width="12.57" height="7.280" fill="#3953a6"/>
<rect x="183.48" y="949.698" width="12.57" height="7.280" fill="#3953a6"/>
<rect x="196.00" y="949.698" width="12.57" height="7.280" fill="#3953a6"/>
<rect x="208.52" y="949.698" width="12.57" height="7.280" fill="#3953a6"/>
<rect x="221.04" y="949.698" width="12.57" height="7.280" fill="#3953a6"/>
<rect x="233.56" y="949.698" width="12.57" height="7.280" fill="#3953a6"/>
<rect x="246.08" y="949.698" width="12.57" height="7.280" fill="#5058aa"/>
<rect x="258.60" y="949.698" width="12.57" height="7.280" fill="#3953a6"/>
<rect x="271.12" y="949.698" width="12.57" height="7.280" fill="#3953a6"/>
<rect x="283.64" y="949.698" width="12.57" height="7.280" fill="#3953a6"/>
<rect x="296.16" y="949.698" width="12.57" height="7.280" fill="#3953a6"/>
<rect x="308.68" y="949.698" width="12.57" height="7.280" fill="#3953a6"/>
<rect x="321.20" y="949.698" width="12.57" height="7.280" fill="#3953a6"/>
<rect x="133.40" y="956.929" width="12.57" height="7.280" fill="#3953a6"/>
<rect x="145.92" y="956.929" width="12.57" height="7.280" fill="#3953a6"/>
<rect x="158.44" y="956.929" width="12.57" height="7.280" fill="#3953a6"/>
<rect x="170.96" y="956.929" width="12.57" height="7.280" fill="#3953a6"/>
<rect x="183.48" y="956.929" width="12.57" height="7.280" fill="#3953a6"/>
<rect x="196.00" y="956.929" width="12.57" height="7.280" fill="#3953a6"/>
<rect x="208.52" y="956.929" width="12.57" height="7.280" fill="#3953a6"/>
<rect x="221.04" y="956.929" width="12.57" height="7.280" fill="#3953a6"/>
<rect x="233.56" y="956.929" width="12.57" height="7.280" fill="#3953a6"/>
<rect x="246.08" y="956.929" width="12.57" height="7.280" fill="#5058aa"/>
<rect x="258.60" y="956.929" width="12.57" height="7.280" fill="#3953a6"/>
<rect x="271.12" y="956.929" width="12.57" height="7.280" fill="#3953a6"/>
<rect x="283.64" y="956.929" width="12.57" height="7.280" fill="#3953a6"/>
<rect x="296.16" y="956.929" width="12.57" height="7.280" fill="#3953a6"/>
<rect x="308.68" y="956.929" width="12.57" height="7.280" fill="#3953a6"/>
<rect x="321.20" y="956.929" width="12.57" height="7.280" fill="#3953a6"/>
<rect x="133.40" y="964.159" width="12.57" height="7.280" fill="#3953a6"/>
<rect x="145.92" y="964.159" width="12.57" height="7.280" fill="#3953a6"/>
<rect x="158.44" y="964.159" width="12.57" height="7.280" fill="#3953a6"/>
<rect x="170.96" y="964.159" width="12.57" height="7.280" fill="#3953a6"/>
<rect x="183.48" y="964.159" width="12.57" height="7.280" fill="#3953a6"/>
<rect x="196.00" y="964.159" width="12.57" height="7.280" fill="#3953a6"/>
<rect x="208.52" y="964.159" width="12.57" height="7.280" fill="#3953a6"/>
<rect x="221.04" y="964.159" width="12.57" height="7.280" fill="#c8ccea"/>
<rect x="233.56" y="964.159" width="12.57" height="7.280" fill="#3953a6"/>
<rect x="246.08" y="964.159" width="12.57" height="7.280" fill="#3953a6"/>
<rect x="258.60" y="964.159" width="12.57" height="7.280" fill="#3953a6"/>
<rect x="271.12" y="964.159" width="12.57" height="7.280" fill="#3953a6"/>
<rect x="283.64" y="964.159" width="12.57" height="7.280" fill="#3953a6"/>
<rect x="296.16" y="964.159" width="12.57" height="7.280" fill="#3953a6"/>
<rect x="308.68" y="964.159" width="12.57" height="7.280" fill="#3953a6"/>
<rect x="321.20" y="964.159" width="12.57" height="7.280" fill="#3953a6"/>
<rect x="133.40" y="971.390" width="12.57" height="7.280" fill="#3953a6"/>
<rect x="145.92" y="971.390" width="12.57" height="7.280" fill="#3953a6"/>
<rect x="158.44" y="971.390" width="12.57" height="7.280" fill="#3953a6"/>
<rect x="170.96" y="971.390" width="12.57" height="7.280" fill="#d8daf0"/>
<rect x="183.48" y="971.390" width="12.57" height="7.280" fill="#3953a6"/>
<rect x="196.00" y="971.390" width="12.57" height="7.280" fill="#3953a6"/>
<rect x="208.52" y="971.390" width="12.57" height="7.280" fill="#3953a6"/>
<rect x="221.04" y="971.390" width="12.57" height="7.280" fill="#3953a6"/>
<rect x="233.56" y="971.390" width="12.57" height="7.280" fill="#3953a6"/>
<rect x="246.08" y="971.390" width="12.57" height="7.280" fill="#3953a6"/>
<rect x="258.60" y="971.390" width="12.57" height="7.280" fill="#3953a6"/>
<rect x="271.12" y="971.390" width="12.57" height="7.280" fill="#3953a6"/>
<rect x="283.64" y="971.390" width="12.57" height="7.280" fill="#3953a6"/>
<rect x="296.16" y="971.390" width="12.57" height="7.280" fill="#3953a6"/>
<rect x="308.68" y="971.390" width="12.57" height="7.280" fill="#3953a6"/>
<rect x="321.20" y="971.390" width="12.57" height="7.280" fill="#3953a6"/>
<rect x="133.40" y="978.620" width="12.57" height="7.280" fill="#3953a6"/>
<rect x="145.92" y="978.620" width="12.57" height="7.280" fill="#3953a6"/>
<rect x="158.44" y="978.620" width="12.57" height="7.280" fill="#3953a6"/>
<rect x="170.96" y="978.620" width="12.57" height="7.280" fill="#3953a6"/>
<rect x="183.48" y="978.620" width="12.57" height="7.280" fill="#3953a6"/>
<rect x="196.00" y="978.620" width="12.57" height="7.280" fill="#3953a6"/>
<rect x="208.52" y="978.620" width="12.57" height="7.280" fill="#e6e6f5"/>
<rect x="221.04" y="978.620" width="12.57" height="7.280" fill="#3953a6"/>
<rect x="233.56" y="978.620" width="12.57" height="7.280" fill="#3953a6"/>
<rect x="246.08" y="978.620" width="12.57" height="7.280" fill="#3953a6"/>
<rect x="258.60" y="978.620" width="12.57" height="7.280" fill="#3953a6"/>
<rect x="271.12" y="978.620" width="12.57" height="7.280" fill="#3953a6"/>
<rect x="283.64" y="978.620" width="12.57" height="7.280" fill="#3953a6"/>
<rect x="296.16" y="978.620" width="12.57" height="7.280" fill="#3953a6"/>
<rect x="308.68" y="978.620" width="12.57" height="7.280" fill="#3953a6"/>
<rect x="321.20" y="978.620" width="12.57" height="7.280" fill="#3953a6"/>
<rect x="133.40" y="985.850" width="12.57" height="7.280" fill="#3953a6"/>
<rect x="145.92" y="985.850" width="12.57" height="7.280" fill="#3953a6"/>
<rect x="158.44" y="985.850" width="12.57" height="7.280" fill="#5a62b0"/>
<rect x="170.96" y="985.850" width="12.57" height="7.280" fill="#3953a6"/>
<rect x="183.48" y="985.850" width="12.57" height="7.280" fill="#3953a6"/>
<rect x="196.00" y="985.850" width="12.57" height="7.280" fill="#3953a6"/>
<rect x="208.52" y="985.850" width="12.57" height="7.280" fill="#3953a6"/>
<rect x="221.04" y="985.850" width="12.57" height="7.280" fill="#3953a6"/>
<rect x="233.56" y="985.850" width="12.57" height="7.280" fill="#3953a6"/>
<rect x="246.08" y="985.850" width="12.57" height="7.280" fill="#3953a6"/>
<rect x="258.60" y="985.850" width="12.57" height="7.280" fill="#3953a6"/>
<rect x="271.12" y="985.850" width="12.57" height="7.280" fill="#3953a6"/>
<rect x="283.64" y="985.850" width="12.57" height="7.280" fill="#3953a6"/>
<rect x="296.16" y="985.850" width="12.57" height="7.280" fill="#5058aa"/>
<rect x="308.68" y="985.850" width="12.57" height="7.280" fill="#3953a6"/>
<rect x="321.20" y="985.850" width="12.57" height="7.280" fill="#878ecb"/>
<rect x="133.40" y="993.081" width="12.57" height="7.280" fill="#3953a6"/>
<rect x="145.92" y="993.081" width="12.57" height="7.280" fill="#3953a6"/>
<rect x="158.44" y="993.081" width="12.57" height="7.280" fill="#7078bc"/>
<rect x="170.96" y="993.081" width="12.57" height="7.280" fill="#3953a6"/>
<rect x="183.48" y="993.081" width="12.57" height="7.280" fill="#3953a6"/>
<rect x="196.00" y="993.081" width="12.57" height="7.280" fill="#3953a6"/>
<rect x="208.52" y="993.081" width="12.57" height="7.280" fill="#3953a6"/>
<rect x="221.04" y="993.081" width="12.57" height="7.280" fill="#3953a6"/>
<rect x="233.56" y="993.081" width="12.57" height="7.280" fill="#3953a6"/>
<rect x="246.08" y="993.081" width="12.57" height="7.280" fill="#3953a6"/>
<rect x="258.60" y="993.081" width="12.57" height="7.280" fill="#3953a6"/>
<rect x="271.12" y="993.081" width="12.57" height="7.280" fill="#3953a6"/>
<rect x="283.64" y="993.081" width="12.57" height="7.280" fill="#3953a6"/>
<rect x="296.16" y="993.081" width="12.57" height="7.280" fill="#3953a6"/>
<rect x="308.68" y="993.081" width="12.57" height="7.280" fill="#3953a6"/>
<rect x="321.20" y="993.081" width="12.57" height="7.280" fill="#5a62b0"/>
<rect x="133.40" y="1000.311" width="12.57" height="7.280" fill="#3953a6"/>
<rect x="145.92" y="1000.311" width="12.57" height="7.280" fill="#3953a6"/>
<rect x="158.44" y="1000.311" width="12.57" height="7.280" fill="#8088c8"/>
<rect x="170.96" y="1000.311" width="12.57" height="7.280" fill="#3953a6"/>
<rect x="183.48" y="1000.311" width="12.57" height="7.280" fill="#3953a6"/>
<rect x="196.00" y="1000.311" width="12.57" height="7.280" fill="#3953a6"/>
<rect x="208.52" y="1000.311" width="12.57" height="7.280" fill="#3953a6"/>
<rect x="221.04" y="1000.311" width="12.57" height="7.280" fill="#3953a6"/>
<rect x="233.56" y="1000.311" width="12.57" height="7.280" fill="#3953a6"/>
<rect x="246.08" y="1000.311" width="12.57" height="7.280" fill="#3953a6"/>
<rect x="258.60" y="1000.311" width="12.57" height="7.280" fill="#3953a6"/>
<rect x="271.12" y="1000.311" width="12.57" height="7.280" fill="#3953a6"/>
<rect x="283.64" y="1000.311" width="12.57" height="7.280" fill="#3953a6"/>
<rect x="296.16" y="1000.311" width="12.57" height="7.280" fill="#3953a6"/>
<rect x="308.68" y="1000.311" width="12.57" height="7.280" fill="#3953a6"/>
<rect x="321.20" y="1000.311" width="12.57" height="7.280" fill="#d4d6ee"/>
<rect x="133.40" y="1007.542" width="12.57" height="7.280" fill="#3953a6"/>
<rect x="145.92" y="1007.542" width="12.57" height="7.280" fill="#878ecb"/>
<rect x="158.44" y="1007.542" width="12.57" height="7.280" fill="#9296d0"/>
<rect x="170.96" y="1007.542" width="12.57" height="7.280" fill="#3953a6"/>
<rect x="183.48" y="1007.542" width="12.57" height="7.280" fill="#3953a6"/>
<rect x="196.00" y="1007.542" width="12.57" height="7.280" fill="#3953a6"/>
<rect x="208.52" y="1007.542" width="12.57" height="7.280" fill="#3953a6"/>
<rect x="221.04" y="1007.542" width="12.57" height="7.280" fill="#3953a6"/>
<rect x="233.56" y="1007.542" width="12.57" height="7.280" fill="#3953a6"/>
<rect x="246.08" y="1007.542" width="12.57" height="7.280" fill="#3953a6"/>
<rect x="258.60" y="1007.542" width="12.57" height="7.280" fill="#3953a6"/>
<rect x="271.12" y="1007.542" width="12.57" height="7.280" fill="#7078bc"/>
<rect x="283.64" y="1007.542" width="12.57" height="7.280" fill="#3953a6"/>
<rect x="296.16" y="1007.542" width="12.57" height="7.280" fill="#4b57a9"/>
<rect x="308.68" y="1007.542" width="12.57" height="7.280" fill="#3953a6"/>
<rect x="321.20" y="1007.542" width="12.57" height="7.280" fill="#5a62b0"/>
<rect x="133.40" y="1014.772" width="12.57" height="7.280" fill="#3953a6"/>
<rect x="145.92" y="1014.772" width="12.57" height="7.280" fill="#5a62b0"/>
<rect x="158.44" y="1014.772" width="12.57" height="7.280" fill="#3953a6"/>
<rect x="170.96" y="1014.772" width="12.57" height="7.280" fill="#3953a6"/>
<rect x="183.48" y="1014.772" width="12.57" height="7.280" fill="#3953a6"/>
<rect x="196.00" y="1014.772" width="12.57" height="7.280" fill="#3953a6"/>
<rect x="208.52" y="1014.772" width="12.57" height="7.280" fill="#3953a6"/>
<rect x="221.04" y="1014.772" width="12.57" height="7.280" fill="#3953a6"/>
<rect x="233.56" y="1014.772" width="12.57" height="7.280" fill="#3953a6"/>
<rect x="246.08" y="1014.772" width="12.57" height="7.280" fill="#3953a6"/>
<rect x="258.60" y="1014.772" width="12.57" height="7.280" fill="#3953a6"/>
<rect x="271.12" y="1014.772" width="12.57" height="7.280" fill="#3953a6"/>
<rect x="283.64" y="1014.772" width="12.57" height="7.280" fill="#ececf7"/>
<rect x="296.16" y="1014.772" width="12.57" height="7.280" fill="#4b57a9"/>
<rect x="308.68" y="1014.772" width="12.57" height="7.280" fill="#5058aa"/>
<rect x="321.20" y="1014.772" width="12.57" height="7.280" fill="#5058aa"/>
<rect x="133.40" y="1022.002" width="12.57" height="7.280" fill="#3953a6"/>
<rect x="145.92" y="1022.002" width="12.57" height="7.280" fill="#3953a6"/>
<rect x="158.44" y="1022.002" width="12.57" height="7.280" fill="#3953a6"/>
<rect x="170.96" y="1022.002" width="12.57" height="7.280" fill="#3953a6"/>
<rect x="183.48" y="1022.002" width="12.57" height="7.280" fill="#3953a6"/>
<rect x="196.00" y="1022.002" width="12.57" height="7.280" fill="#3953a6"/>
<rect x="208.52" y="1022.002" width="12.57" height="7.280" fill="#3953a6"/>
<rect x="221.04" y="1022.002" width="12.57" height="7.280" fill="#3953a6"/>
<rect x="233.56" y="1022.002" width="12.57" height="7.280" fill="#3953a6"/>
<rect x="246.08" y="1022.002" width="12.57" height="7.280" fill="#3953a6"/>
<rect x="258.60" y="1022.002" width="12.57" height="7.280" fill="#3953a6"/>
<rect x="271.12" y="1022.002" width="12.57" height="7.280" fill="#3953a6"/>
<rect x="283.64" y="1022.002" width="12.57" height="7.280" fill="#bfc3e5"/>
<rect x="296.16" y="1022.002" width="12.57" height="7.280" fill="#3953a6"/>
<rect x="308.68" y="1022.002" width="12.57" height="7.280" fill="#3953a6"/>
<rect x="321.20" y="1022.002" width="12.57" height="7.280" fill="#4b57a9"/>
<rect x="133.40" y="1029.233" width="12.57" height="7.280" fill="#3953a6"/>
<rect x="145.92" y="1029.233" width="12.57" height="7.280" fill="#3953a6"/>
<rect x="158.44" y="1029.233" width="12.57" height="7.280" fill="#3953a6"/>
<rect x="170.96" y="1029.233" width="12.57" height="7.280" fill="#3953a6"/>
<rect x="183.48" y="1029.233" width="12.57" height="7.280" fill="#3953a6"/>
<rect x="196.00" y="1029.233" width="12.57" height="7.280" fill="#3953a6"/>
<rect x="208.52" y="1029.233" width="12.57" height="7.280" fill="#3953a6"/>
<rect x="221.04" y="1029.233" width="12.57" height="7.280" fill="#3953a6"/>
<rect x="233.56" y="1029.233" width="12.57" height="7.280" fill="#3953a6"/>
<rect x="246.08" y="1029.233" width="12.57" height="7.280" fill="#3953a6"/>
<rect x="258.60" y="1029.233" width="12.57" height="7.280" fill="#3953a6"/>
<rect x="271.12" y="1029.233" width="12.57" height="7.280" fill="#3953a6"/>
<rect x="283.64" y="1029.233" width="12.57" height="7.280" fill="#9ea2d5"/>
<rect x="296.16" y="1029.233" width="12.57" height="7.280" fill="#3953a6"/>
<rect x="308.68" y="1029.233" width="12.57" height="7.280" fill="#3953a6"/>
<rect x="321.20" y="1029.233" width="12.57" height="7.280" fill="#5a62b0"/>
<rect x="133.40" y="1036.463" width="12.57" height="7.280" fill="#3953a6"/>
<rect x="145.92" y="1036.463" width="12.57" height="7.280" fill="#3953a6"/>
<rect x="158.44" y="1036.463" width="12.57" height="7.280" fill="#3953a6"/>
<rect x="170.96" y="1036.463" width="12.57" height="7.280" fill="#3953a6"/>
<rect x="183.48" y="1036.463" width="12.57" height="7.280" fill="#3953a6"/>
<rect x="196.00" y="1036.463" width="12.57" height="7.280" fill="#3953a6"/>
<rect x="208.52" y="1036.463" width="12.57" height="7.280" fill="#3953a6"/>
<rect x="221.04" y="1036.463" width="12.57" height="7.280" fill="#3953a6"/>
<rect x="233.56" y="1036.463" width="12.57" height="7.280" fill="#3953a6"/>
<rect x="246.08" y="1036.463" width="12.57" height="7.280" fill="#3953a6"/>
<rect x="258.60" y="1036.463" width="12.57" height="7.280" fill="#3953a6"/>
<rect x="271.12" y="1036.463" width="12.57" height="7.280" fill="#3953a6"/>
<rect x="283.64" y="1036.463" width="12.57" height="7.280" fill="#d4d6ee"/>
<rect x="296.16" y="1036.463" width="12.57" height="7.280" fill="#7078bc"/>
<rect x="308.68" y="1036.463" width="12.57" height="7.280" fill="#3953a6"/>
<rect x="321.20" y="1036.463" width="12.57" height="7.280" fill="#b6bae1"/>
<rect x="133.40" y="1043.694" width="12.57" height="7.280" fill="#3953a6"/>
<rect x="145.92" y="1043.694" width="12.57" height="7.280" fill="#3953a6"/>
<rect x="158.44" y="1043.694" width="12.57" height="7.280" fill="#3953a6"/>
<rect x="170.96" y="1043.694" width="12.57" height="7.280" fill="#3953a6"/>
<rect x="183.48" y="1043.694" width="12.57" height="7.280" fill="#3953a6"/>
<rect x="196.00" y="1043.694" width="12.57" height="7.280" fill="#3953a6"/>
<rect x="208.52" y="1043.694" width="12.57" height="7.280" fill="#3953a6"/>
<rect x="221.04" y="1043.694" width="12.57" height="7.280" fill="#3953a6"/>
<rect x="233.56" y="1043.694" width="12.57" height="7.280" fill="#3953a6"/>
<rect x="246.08" y="1043.694" width="12.57" height="7.280" fill="#3953a6"/>
<rect x="258.60" y="1043.694" width="12.57" height="7.280" fill="#3953a6"/>
<rect x="271.12" y="1043.694" width="12.57" height="7.280" fill="#3953a6"/>
<rect x="283.64" y="1043.694" width="12.57" height="7.280" fill="#ffffff"/>
<rect x="296.16" y="1043.694" width="12.57" height="7.280" fill="#3953a6"/>
<rect x="308.68" y="1043.694" width="12.57" height="7.280" fill="#ececf7"/>
<rect x="321.20" y="1043.694" width="12.57" height="7.280" fill="#9296d0"/>
<rect x="133.40" y="1050.924" width="12.57" height="7.280" fill="#3953a6"/>
<rect x="145.92" y="1050.924" width="12.57" height="7.280" fill="#3953a6"/>
<rect x="158.44" y="1050.924" width="12.57" height="7.280" fill="#3953a6"/>
<rect x="170.96" y="1050.924" width="12.57" height="7.280" fill="#3953a6"/>
<rect x="183.48" y="1050.924" width="12.57" height="7.280" fill="#3953a6"/>
<rect x="196.00" y="1050.924" width="12.57" height="7.280" fill="#3953a6"/>
<rect x="208.52" y="1050.924" width="12.57" height="7.280" fill="#3953a6"/>
<rect x="221.04" y="1050.924" width="12.57" height="7.280" fill="#3953a6"/>
<rect x="233.56" y="1050.924" width="12.57" height="7.280" fill="#3953a6"/>
<rect x="246.08" y="1050.924" width="12.57" height="7.280" fill="#3953a6"/>
<rect x="258.60" y="1050.924" width="12.57" height="7.280" fill="#3953a6"/>
<rect x="271.12" y="1050.924" width="12.57" height="7.280" fill="#3953a6"/>
<rect x="283.64" y="1050.924" width="12.57" height="7.280" fill="#3953a6"/>
<rect x="296.16" y="1050.924" width="12.57" height="7.280" fill="#fff6f6"/>
<rect x="308.68" y="1050.924" width="12.57" height="7.280" fill="#b3b7df"/>
<rect x="321.20" y="1050.924" width="12.57" height="7.280" fill="#3953a6"/>
<rect x="133.40" y="1058.154" width="12.57" height="7.280" fill="#3953a6"/>
<rect x="145.92" y="1058.154" width="12.57" height="7.280" fill="#3953a6"/>
<rect x="158.44" y="1058.154" width="12.57" height="7.280" fill="#3953a6"/>
<rect x="170.96" y="1058.154" width="12.57" height="7.280" fill="#3953a6"/>
<rect x="183.48" y="1058.154" width="12.57" height="7.280" fill="#3953a6"/>
<rect x="196.00" y="1058.154" width="12.57" height="7.280" fill="#3953a6"/>
<rect x="208.52" y="1058.154" width="12.57" height="7.280" fill="#3953a6"/>
<rect x="221.04" y="1058.154" width="12.57" height="7.280" fill="#3953a6"/>
<rect x="233.56" y="1058.154" width="12.57" height="7.280" fill="#3953a6"/>
<rect x="246.08" y="1058.154" width="12.57" height="7.280" fill="#3953a6"/>
<rect x="258.60" y="1058.154" width="12.57" height="7.280" fill="#3953a6"/>
<rect x="271.12" y="1058.154" width="12.57" height="7.280" fill="#3953a6"/>
<rect x="283.64" y="1058.154" width="12.57" height="7.280" fill="#3953a6"/>
<rect x="296.16" y="1058.154" width="12.57" height="7.280" fill="#bfc3e5"/>
<rect x="308.68" y="1058.154" width="12.57" height="7.280" fill="#8088c8"/>
<rect x="321.20" y="1058.154" width="12.57" height="7.280" fill="#5058aa"/>
<rect x="133.40" y="1065.385" width="12.57" height="7.280" fill="#8088c8"/>
<rect x="145.92" y="1065.385" width="12.57" height="7.280" fill="#3953a6"/>
<rect x="158.44" y="1065.385" width="12.57" height="7.280" fill="#b3b7df"/>
<rect x="170.96" y="1065.385" width="12.57" height="7.280" fill="#3953a6"/>
<rect x="183.48" y="1065.385" width="12.57" height="7.280" fill="#3953a6"/>
<rect x="196.00" y="1065.385" width="12.57" height="7.280" fill="#3953a6"/>
<rect x="208.52" y="1065.385" width="12.57" height="7.280" fill="#3953a6"/>
<rect x="221.04" y="1065.385" width="12.57" height="7.280" fill="#3953a6"/>
<rect x="233.56" y="1065.385" width="12.57" height="7.280" fill="#3953a6"/>
<rect x="246.08" y="1065.385" width="12.57" height="7.280" fill="#3953a6"/>
<rect x="258.60" y="1065.385" width="12.57" height="7.280" fill="#3953a6"/>
<rect x="271.12" y="1065.385" width="12.57" height="7.280" fill="#3953a6"/>
<rect x="283.64" y="1065.385" width="12.57" height="7.280" fill="#3953a6"/>
<rect x="296.16" y="1065.385" width="12.57" height="7.280" fill="#b3b7df"/>
<rect x="308.68" y="1065.385" width="12.57" height="7.280" fill="#e6e6f5"/>
<rect x="321.20" y="1065.385" width="12.57" height="7.280" fill="#5058aa"/>
<rect x="133.40" y="1072.615" width="12.57" height="7.280" fill="#fdb2b2"/>
<rect x="145.92" y="1072.615" width="12.57" height="7.280" fill="#3953a6"/>
<rect x="158.44" y="1072.615" width="12.57" height="7.280" fill="#3953a6"/>
<rect x="170.96" y="1072.615" width="12.57" height="7.280" fill="#3953a6"/>
<rect x="183.48" y="1072.615" width="12.57" height="7.280" fill="#3953a6"/>
<rect x="196.00" y="1072.615" width="12.57" height="7.280" fill="#3953a6"/>
<rect x="208.52" y="1072.615" width="12.57" height="7.280" fill="#3953a6"/>
<rect x="221.04" y="1072.615" width="12.57" height="7.280" fill="#3953a6"/>
<rect x="233.56" y="1072.615" width="12.57" height="7.280" fill="#3953a6"/>
<rect x="246.08" y="1072.615" width="12.57" height="7.280" fill="#3953a6"/>
<rect x="258.60" y="1072.615" width="12.57" height="7.280" fill="#3953a6"/>
<rect x="271.12" y="1072.615" width="12.57" height="7.280" fill="#3953a6"/>
<rect x="283.64" y="1072.615" width="12.57" height="7.280" fill="#3953a6"/>
<rect x="296.16" y="1072.615" width="12.57" height="7.280" fill="#c8ccea"/>
<rect x="308.68" y="1072.615" width="12.57" height="7.280" fill="#3953a6"/>
<rect x="321.20" y="1072.615" width="12.57" height="7.280" fill="#3953a6"/>
<rect x="133.40" y="1079.846" width="12.57" height="7.280" fill="#d4d6ee"/>
<rect x="145.92" y="1079.846" width="12.57" height="7.280" fill="#3953a6"/>
<rect x="158.44" y="1079.846" width="12.57" height="7.280" fill="#3953a6"/>
<rect x="170.96" y="1079.846" width="12.57" height="7.280" fill="#3953a6"/>
<rect x="183.48" y="1079.846" width="12.57" height="7.280" fill="#3953a6"/>
<rect x="196.00" y="1079.846" width="12.57" height="7.280" fill="#3953a6"/>
<rect x="208.52" y="1079.846" width="12.57" height="7.280" fill="#3953a6"/>
<rect x="221.04" y="1079.846" width="12.57" height="7.280" fill="#3953a6"/>
<rect x="233.56" y="1079.846" width="12.57" height="7.280" fill="#3953a6"/>
<rect x="246.08" y="1079.846" width="12.57" height="7.280" fill="#3953a6"/>
<rect x="258.60" y="1079.846" width="12.57" height="7.280" fill="#3953a6"/>
<rect x="271.12" y="1079.846" width="12.57" height="7.280" fill="#3953a6"/>
<rect x="283.64" y="1079.846" width="12.57" height="7.280" fill="#3953a6"/>
<rect x="296.16" y="1079.846" width="12.57" height="7.280" fill="#bfc3e5"/>
<rect x="308.68" y="1079.846" width="12.57" height="7.280" fill="#3953a6"/>
<rect x="321.20" y="1079.846" width="12.57" height="7.280" fill="#3953a6"/>
<rect x="133.40" y="1087.076" width="12.57" height="7.280" fill="#dcddf1"/>
<rect x="145.92" y="1087.076" width="12.57" height="7.280" fill="#3953a6"/>
<rect x="158.44" y="1087.076" width="12.57" height="7.280" fill="#3953a6"/>
<rect x="170.96" y="1087.076" width="12.57" height="7.280" fill="#3953a6"/>
<rect x="183.48" y="1087.076" width="12.57" height="7.280" fill="#3953a6"/>
<rect x="196.00" y="1087.076" width="12.57" height="7.280" fill="#3953a6"/>
<rect x="208.52" y="1087.076" width="12.57" height="7.280" fill="#3953a6"/>
<rect x="221.04" y="1087.076" width="12.57" height="7.280" fill="#3953a6"/>
<rect x="233.56" y="1087.076" width="12.57" height="7.280" fill="#3953a6"/>
<rect x="246.08" y="1087.076" width="12.57" height="7.280" fill="#3953a6"/>
<rect x="258.60" y="1087.076" width="12.57" height="7.280" fill="#3953a6"/>
<rect x="271.12" y="1087.076" width="12.57" height="7.280" fill="#8088c8"/>
<rect x="283.64" y="1087.076" width="12.57" height="7.280" fill="#3953a6"/>
<rect x="296.16" y="1087.076" width="12.57" height="7.280" fill="#9ea2d5"/>
<rect x="308.68" y="1087.076" width="12.57" height="7.280" fill="#4b57a9"/>
<rect x="321.20" y="1087.076" width="12.57" height="7.280" fill="#3953a6"/>
<rect x="133.40" y="1094.306" width="12.57" height="7.280" fill="#8088c8"/>
<rect x="145.92" y="1094.306" width="12.57" height="7.280" fill="#6a72b9"/>
<rect x="158.44" y="1094.306" width="12.57" height="7.280" fill="#3953a6"/>
<rect x="170.96" y="1094.306" width="12.57" height="7.280" fill="#ef2f2e"/>
<rect x="183.48" y="1094.306" width="12.57" height="7.280" fill="#3953a6"/>
<rect x="196.00" y="1094.306" width="12.57" height="7.280" fill="#3953a6"/>
<rect x="208.52" y="1094.306" width="12.57" height="7.280" fill="#3953a6"/>
<rect x="221.04" y="1094.306" width="12.57" height="7.280" fill="#3953a6"/>
<rect x="233.56" y="1094.306" width="12.57" height="7.280" fill="#3953a6"/>
<rect x="246.08" y="1094.306" width="12.57" height="7.280" fill="#3953a6"/>
<rect x="258.60" y="1094.306" width="12.57" height="7.280" fill="#3953a6"/>
<rect x="271.12" y="1094.306" width="12.57" height="7.280" fill="#3953a6"/>
<rect x="283.64" y="1094.306" width="12.57" height="7.280" fill="#fba3a3"/>
<rect x="296.16" y="1094.306" width="12.57" height="7.280" fill="#7a82c3"/>
<rect x="308.68" y="1094.306" width="12.57" height="7.280" fill="#7078bc"/>
<rect x="321.20" y="1094.306" width="12.57" height="7.280" fill="#8088c8"/>
<rect x="133.40" y="1101.537" width="12.57" height="7.280" fill="#3953a6"/>
<rect x="145.92" y="1101.537" width="12.57" height="7.280" fill="#3953a6"/>
<rect x="158.44" y="1101.537" width="12.57" height="7.280" fill="#fdb2b2"/>
<rect x="170.96" y="1101.537" width="12.57" height="7.280" fill="#3953a6"/>
<rect x="183.48" y="1101.537" width="12.57" height="7.280" fill="#f15b5b"/>
<rect x="196.00" y="1101.537" width="12.57" height="7.280" fill="#3953a6"/>
<rect x="208.52" y="1101.537" width="12.57" height="7.280" fill="#3953a6"/>
<rect x="221.04" y="1101.537" width="12.57" height="7.280" fill="#3953a6"/>
<rect x="233.56" y="1101.537" width="12.57" height="7.280" fill="#3953a6"/>
<rect x="246.08" y="1101.537" width="12.57" height="7.280" fill="#3953a6"/>
<rect x="258.60" y="1101.537" width="12.57" height="7.280" fill="#3953a6"/>
<rect x="271.12" y="1101.537" width="12.57" height="7.280" fill="#3953a6"/>
<rect x="283.64" y="1101.537" width="12.57" height="7.280" fill="#3953a6"/>
<rect x="296.16" y="1101.537" width="12.57" height="7.280" fill="#3953a6"/>
<rect x="308.68" y="1101.537" width="12.57" height="7.280" fill="#3953a6"/>
<rect x="321.20" y="1101.537" width="12.57" height="7.280" fill="#fdb2b2"/>
<rect x="133.40" y="1108.767" width="12.57" height="7.280" fill="#3953a6"/>
<rect x="145.92" y="1108.767" width="12.57" height="7.280" fill="#3953a6"/>
<rect x="158.44" y="1108.767" width="12.57" height="7.280" fill="#d4d6ee"/>
<rect x="170.96" y="1108.767" width="12.57" height="7.280" fill="#3953a6"/>
<rect x="183.48" y="1108.767" width="12.57" height="7.280" fill="#ffffff"/>
<rect x="196.00" y="1108.767" width="12.57" height="7.280" fill="#3953a6"/>
<rect x="208.52" y="1108.767" width="12.57" height="7.280" fill="#3953a6"/>
<rect x="221.04" y="1108.767" width="12.57" height="7.280" fill="#3953a6"/>
<rect x="233.56" y="1108.767" width="12.57" height="7.280" fill="#3953a6"/>
<rect x="246.08" y="1108.767" width="12.57" height="7.280" fill="#3953a6"/>
<rect x="258.60" y="1108.767" width="12.57" height="7.280" fill="#3953a6"/>
<rect x="271.12" y="1108.767" width="12.57" height="7.280" fill="#3953a6"/>
<rect x="283.64" y="1108.767" width="12.57" height="7.280" fill="#3953a6"/>
<rect x="296.16" y="1108.767" width="12.57" height="7.280" fill="#3953a6"/>
<rect x="308.68" y="1108.767" width="12.57" height="7.280" fill="#8088c8"/>
<rect x="321.20" y="1108.767" width="12.57" height="7.280" fill="#fba3a3"/>
</g>
<text x="337.40" y="623.42" font-size="9.2" text-anchor="start" fill="#111" textLength="116.27" lengthAdjust="spacingAndGlyphs" stroke="#111" stroke-width="0.12">Neurotrophin signaling pathway</text>
<text x="337.40" y="630.65" font-size="9.2" text-anchor="start" fill="#111" textLength="120.72" lengthAdjust="spacingAndGlyphs" stroke="#111" stroke-width="0.12">T cell receptor signaling pathway</text>
<text x="337.40" y="637.88" font-size="9.2" text-anchor="start" fill="#111" textLength="87.65" lengthAdjust="spacingAndGlyphs" stroke="#111" stroke-width="0.12">Acute myeloid leukemia</text>
<text x="337.40" y="645.11" font-size="9.2" text-anchor="start" fill="#111" textLength="121.34" lengthAdjust="spacingAndGlyphs" stroke="#111" stroke-width="0.12">B cell receptor signaling pathway</text>
<text x="337.40" y="652.34" font-size="9.2" text-anchor="start" fill="#111" textLength="71.51" lengthAdjust="spacingAndGlyphs" stroke="#111" stroke-width="0.12">Endometrial cancer</text>
<text x="337.40" y="659.57" font-size="9.2" text-anchor="start" fill="#111" textLength="99.42" lengthAdjust="spacingAndGlyphs" stroke="#111" stroke-width="0.12">Non−small cell lung cancer</text>
<text x="337.40" y="666.80" font-size="9.2" text-anchor="start" fill="#111" textLength="92.28" lengthAdjust="spacingAndGlyphs" stroke="#111" stroke-width="0.12">Insulin signaling pathway</text>
<text x="337.40" y="674.03" font-size="9.2" text-anchor="start" fill="#111" textLength="58.13" lengthAdjust="spacingAndGlyphs" stroke="#111" stroke-width="0.12">Prostate cancer</text>
<text x="337.40" y="681.26" font-size="9.2" text-anchor="start" fill="#111" textLength="71.97" lengthAdjust="spacingAndGlyphs" stroke="#111" stroke-width="0.12">Pathways in cancer</text>
<text x="337.40" y="688.49" font-size="9.2" text-anchor="start" fill="#111" textLength="66.43" lengthAdjust="spacingAndGlyphs" stroke="#111" stroke-width="0.12">Pancreatic cancer</text>
<text x="337.40" y="695.72" font-size="9.2" text-anchor="start" fill="#111" textLength="95.03" lengthAdjust="spacingAndGlyphs" stroke="#111" stroke-width="0.12">Chronic myeloid leukemia</text>
<text x="337.40" y="702.95" font-size="9.2" text-anchor="start" fill="#111" textLength="86.74" lengthAdjust="spacingAndGlyphs" stroke="#111" stroke-width="0.12">ErbB signaling pathway</text>
<text x="337.40" y="710.18" font-size="9.2" text-anchor="start" fill="#111" textLength="117.19" lengthAdjust="spacingAndGlyphs" stroke="#111" stroke-width="0.12">Regulation of actin cytoskeleton</text>
<text x="337.40" y="717.41" font-size="9.2" text-anchor="start" fill="#111" textLength="90.89" lengthAdjust="spacingAndGlyphs" stroke="#111" stroke-width="0.12">VEGF signaling pathway</text>
<text x="337.40" y="724.64" font-size="9.2" text-anchor="start" fill="#111" textLength="77.04" lengthAdjust="spacingAndGlyphs" stroke="#111" stroke-width="0.12">Renal cell carcinoma</text>
<text x="337.40" y="731.87" font-size="9.2" text-anchor="start" fill="#111" textLength="26.29" lengthAdjust="spacingAndGlyphs" stroke="#111" stroke-width="0.12">Glioma</text>
<text x="337.40" y="739.10" font-size="9.2" text-anchor="start" fill="#111" textLength="38.75" lengthAdjust="spacingAndGlyphs" stroke="#111" stroke-width="0.12">Melanoma</text>
<text x="337.40" y="746.33" font-size="9.2" text-anchor="start" fill="#111" textLength="116.72" lengthAdjust="spacingAndGlyphs" stroke="#111" stroke-width="0.12">Fc epsilon RI signaling pathway</text>
<text x="337.40" y="753.56" font-size="9.2" text-anchor="start" fill="#111" textLength="140.23" lengthAdjust="spacingAndGlyphs" stroke="#111" stroke-width="0.12">Natural killer cell mediated cytotoxicity</text>
<text x="337.40" y="760.79" font-size="9.2" text-anchor="start" fill="#111" textLength="91.81" lengthAdjust="spacingAndGlyphs" stroke="#111" stroke-width="0.12">MAPK signaling pathway</text>
<text x="337.40" y="768.02" font-size="9.2" text-anchor="start" fill="#111" textLength="64.58" lengthAdjust="spacingAndGlyphs" stroke="#111" stroke-width="0.12">Colorectal cancer</text>
<text x="337.40" y="775.25" font-size="9.2" text-anchor="start" fill="#111" textLength="137.25" lengthAdjust="spacingAndGlyphs" stroke="#111" stroke-width="0.12">Fc gamma R−mediated phagocytosis</text>
<text x="337.40" y="782.48" font-size="9.2" text-anchor="start" fill="#111" textLength="56.29" lengthAdjust="spacingAndGlyphs" stroke="#111" stroke-width="0.12">Focal adhesion</text>
<text x="337.40" y="789.71" font-size="9.2" text-anchor="start" fill="#111" textLength="89.04" lengthAdjust="spacingAndGlyphs" stroke="#111" stroke-width="0.12">Type II diabetes mellitus</text>
<text x="337.40" y="796.94" font-size="9.2" text-anchor="start" fill="#111" textLength="92.57" lengthAdjust="spacingAndGlyphs" stroke="#111" stroke-width="0.12">mTOR signaling pathway</text>
<text x="337.40" y="804.18" font-size="9.2" text-anchor="start" fill="#111" textLength="80.73" lengthAdjust="spacingAndGlyphs" stroke="#111" stroke-width="0.12">Small cell lung cancer</text>
<text x="337.40" y="811.41" font-size="9.2" text-anchor="start" fill="#111" textLength="130.80" lengthAdjust="spacingAndGlyphs" stroke="#111" stroke-width="0.12">Toll−like receptor signaling pathway</text>
<text x="337.40" y="818.64" font-size="9.2" text-anchor="start" fill="#111" textLength="36.45" lengthAdjust="spacingAndGlyphs" stroke="#111" stroke-width="0.12">Apoptosis</text>
<text x="337.40" y="825.87" font-size="9.2" text-anchor="start" fill="#111" textLength="110.27" lengthAdjust="spacingAndGlyphs" stroke="#111" stroke-width="0.12">Chemokine signaling pathway</text>
<text x="337.40" y="833.10" font-size="9.2" text-anchor="start" fill="#111" textLength="161.26" lengthAdjust="spacingAndGlyphs" stroke="#111" stroke-width="0.12">Aldosterone−regulated sodium reabsorption</text>
<text x="337.40" y="840.33" font-size="9.2" text-anchor="start" fill="#111" textLength="157.11" lengthAdjust="spacingAndGlyphs" stroke="#111" stroke-width="0.12">Progesterone−mediated oocyte maturation</text>
<text x="337.40" y="847.56" font-size="9.2" text-anchor="start" fill="#111" textLength="105.88" lengthAdjust="spacingAndGlyphs" stroke="#111" stroke-width="0.12">Jak−STAT signaling pathway</text>
<text x="337.40" y="854.79" font-size="9.2" text-anchor="start" fill="#111" textLength="135.19" lengthAdjust="spacingAndGlyphs" stroke="#111" stroke-width="0.12">Leukocyte transendothelial migration</text>
<text x="337.40" y="862.02" font-size="9.2" text-anchor="start" fill="#111" textLength="66.45" lengthAdjust="spacingAndGlyphs" stroke="#111" stroke-width="0.12">Adherens junction</text>
<text x="337.40" y="869.25" font-size="9.2" text-anchor="start" fill="#111" textLength="119.97" lengthAdjust="spacingAndGlyphs" stroke="#111" stroke-width="0.12">Adipocytokine signaling pathway</text>
<text x="337.40" y="876.48" font-size="9.2" text-anchor="start" fill="#111" textLength="196.08" lengthAdjust="spacingAndGlyphs" stroke="#111" stroke-width="0.12">Epithelial cell signaling in Helicobacter pylori infection</text>
<text x="337.40" y="883.71" font-size="9.2" text-anchor="start" fill="#111" textLength="91.35" lengthAdjust="spacingAndGlyphs" stroke="#111" stroke-width="0.12">GnRH signaling pathway</text>
<text x="337.40" y="890.94" font-size="9.2" text-anchor="start" fill="#111" textLength="82.82" lengthAdjust="spacingAndGlyphs" stroke="#111" stroke-width="0.12">Long−term depression</text>
<text x="337.40" y="898.17" font-size="9.2" text-anchor="start" fill="#111" textLength="46.60" lengthAdjust="spacingAndGlyphs" stroke="#111" stroke-width="0.12">Gap junction</text>
<text x="337.40" y="905.40" font-size="9.2" text-anchor="start" fill="#111" textLength="55.83" lengthAdjust="spacingAndGlyphs" stroke="#111" stroke-width="0.12">Bladder cancer</text>
<text x="337.40" y="912.63" font-size="9.2" text-anchor="start" fill="#111" textLength="112.12" lengthAdjust="spacingAndGlyphs" stroke="#111" stroke-width="0.12">Inositol phosphate metabolism</text>
<text x="337.40" y="919.86" font-size="9.2" text-anchor="start" fill="#111" textLength="73.55" lengthAdjust="spacingAndGlyphs" stroke="#111" stroke-width="0.12">Alzheimer's disease</text>
<text x="337.40" y="927.09" font-size="9.2" text-anchor="start" fill="#111" textLength="98.27" lengthAdjust="spacingAndGlyphs" stroke="#111" stroke-width="0.12">Calcium signaling pathway</text>
<text x="337.40" y="934.32" font-size="9.2" text-anchor="start" fill="#111" textLength="57.20" lengthAdjust="spacingAndGlyphs" stroke="#111" stroke-width="0.12">DNA replication</text>
<text x="337.40" y="941.55" font-size="9.2" text-anchor="start" fill="#111" textLength="108.41" lengthAdjust="spacingAndGlyphs" stroke="#111" stroke-width="0.12">Glycolysis / Gluconeogenesis</text>
<text x="337.40" y="948.78" font-size="9.2" text-anchor="start" fill="#111" textLength="129.64" lengthAdjust="spacingAndGlyphs" stroke="#111" stroke-width="0.12">Fructose and mannose metabolism</text>
<text x="337.40" y="956.01" font-size="9.2" text-anchor="start" fill="#111" textLength="77.50" lengthAdjust="spacingAndGlyphs" stroke="#111" stroke-width="0.12">Pyruvate metabolism</text>
<text x="337.40" y="963.24" font-size="9.2" text-anchor="start" fill="#111" textLength="90.85" lengthAdjust="spacingAndGlyphs" stroke="#111" stroke-width="0.12">Citrate cycle (TCA cycle)</text>
<text x="337.40" y="970.47" font-size="9.2" text-anchor="start" fill="#111" textLength="122.74" lengthAdjust="spacingAndGlyphs" stroke="#111" stroke-width="0.12">Terpenoid backbone biosynthesis</text>
<text x="337.40" y="977.70" font-size="9.2" text-anchor="start" fill="#111" textLength="120.40" lengthAdjust="spacingAndGlyphs" stroke="#111" stroke-width="0.12">Cell adhesion molecules (CAMs)</text>
<text x="337.40" y="984.94" font-size="9.2" text-anchor="start" fill="#111" textLength="83.49" lengthAdjust="spacingAndGlyphs" stroke="#111" stroke-width="0.12">Pyrimidine metabolism</text>
<text x="337.40" y="992.17" font-size="9.2" text-anchor="start" fill="#111" textLength="83.04" lengthAdjust="spacingAndGlyphs" stroke="#111" stroke-width="0.12">Wnt signaling pathway</text>
<text x="337.40" y="999.40" font-size="9.2" text-anchor="start" fill="#111" textLength="60.73" lengthAdjust="spacingAndGlyphs" stroke="#111" stroke-width="0.12">Viral myocarditis</text>
<text x="337.40" y="1006.63" font-size="9.2" text-anchor="start" fill="#111" textLength="129.15" lengthAdjust="spacingAndGlyphs" stroke="#111" stroke-width="0.12">Amyotrophic lateral sclerosis (ALS)</text>
<text x="337.40" y="1013.86" font-size="9.2" text-anchor="start" fill="#111" textLength="54.91" lengthAdjust="spacingAndGlyphs" stroke="#111" stroke-width="0.12">Axon guidance</text>
<text x="337.40" y="1021.09" font-size="9.2" text-anchor="start" fill="#111" textLength="44.75" lengthAdjust="spacingAndGlyphs" stroke="#111" stroke-width="0.12">Endocytosis</text>
<text x="337.40" y="1028.32" font-size="9.2" text-anchor="start" fill="#111" textLength="140.25" lengthAdjust="spacingAndGlyphs" stroke="#111" stroke-width="0.12">RIG−I−like receptor signaling pathway</text>
<text x="337.40" y="1035.55" font-size="9.2" text-anchor="start" fill="#111" textLength="120.18" lengthAdjust="spacingAndGlyphs" stroke="#111" stroke-width="0.12">Cytosolic DNA−sensing pathway</text>
<text x="337.40" y="1042.78" font-size="9.2" text-anchor="start" fill="#111" textLength="136.79" lengthAdjust="spacingAndGlyphs" stroke="#111" stroke-width="0.12">NOD−like receptor signaling pathway</text>
<text x="337.40" y="1050.01" font-size="9.2" text-anchor="start" fill="#111" textLength="137.02" lengthAdjust="spacingAndGlyphs" stroke="#111" stroke-width="0.12">Phosphatidylinositol signaling system</text>
<text x="337.40" y="1057.24" font-size="9.2" text-anchor="start" fill="#111" textLength="105.87" lengthAdjust="spacingAndGlyphs" stroke="#111" stroke-width="0.12">Dorso−ventral axis formation</text>
<text x="337.40" y="1064.47" font-size="9.2" text-anchor="start" fill="#111" textLength="56.73" lengthAdjust="spacingAndGlyphs" stroke="#111" stroke-width="0.12">Oocyte meiosis</text>
<text x="337.40" y="1071.70" font-size="9.2" text-anchor="start" fill="#111" textLength="54.89" lengthAdjust="spacingAndGlyphs" stroke="#111" stroke-width="0.12">Thyroid cancer</text>
<text x="337.40" y="1078.93" font-size="9.2" text-anchor="start" fill="#111" textLength="85.14" lengthAdjust="spacingAndGlyphs" stroke="#111" stroke-width="0.12">Long−term potentiation</text>
<text x="337.40" y="1086.16" font-size="9.2" text-anchor="start" fill="#111" textLength="132.70" lengthAdjust="spacingAndGlyphs" stroke="#111" stroke-width="0.12">Vascular smooth muscle contraction</text>
<text x="337.40" y="1093.39" font-size="9.2" text-anchor="start" fill="#111" textLength="55.83" lengthAdjust="spacingAndGlyphs" stroke="#111" stroke-width="0.12">Melanogenesis</text>
<text x="337.40" y="1100.62" font-size="9.2" text-anchor="start" fill="#111" textLength="49.06" lengthAdjust="spacingAndGlyphs" stroke="#111" stroke-width="0.12">Tight junction</text>
<text x="337.40" y="1107.85" font-size="9.2" text-anchor="start" fill="#111" textLength="35.51" lengthAdjust="spacingAndGlyphs" stroke="#111" stroke-width="0.12">Cell cycle</text>
<text x="337.40" y="1115.08" font-size="9.2" text-anchor="start" fill="#111" textLength="82.14" lengthAdjust="spacingAndGlyphs" stroke="#111" stroke-width="0.12">p53 signaling pathway</text>
<path d="M119.10 620.72L119.10 627.95 M119.10 620.72L130.00 620.72 M119.10 627.95L130.00 627.95 M122.40 635.18L122.40 642.41 M122.40 635.18L130.00 635.18 M122.40 642.41L130.00 642.41 M116.30 624.33L116.30 638.79 M116.30 624.33L119.10 624.33 M116.30 638.79L122.40 638.79 M118.40 649.64L118.40 656.87 M118.40 649.64L130.00 649.64 M118.40 656.87L130.00 656.87 M111.60 631.56L111.60 653.25 M111.60 631.56L116.30 631.56 M111.60 653.25L118.40 653.25 M107.40 653.25L107.40 664.10 M107.40 653.25L111.60 653.25 M107.40 664.10L130.00 664.10 M121.80 671.33L121.80 678.56 M121.80 671.33L130.00 671.33 M121.80 678.56L130.00 678.56 M118.10 674.94L118.10 685.79 M118.10 674.94L121.80 674.94 M118.10 685.79L130.00 685.79 M108.20 680.37L108.20 693.02 M108.20 680.37L118.10 680.37 M108.20 693.02L130.00 693.02 M99.60 653.25L99.60 686.69 M99.60 653.25L107.40 653.25 M99.60 686.69L108.20 686.69 M115.60 700.25L115.60 707.48 M115.60 700.25L130.00 700.25 M115.60 707.48L130.00 707.48 M114.50 714.71L114.50 721.94 M114.50 714.71L130.00 714.71 M114.50 721.94L130.00 721.94 M108.20 703.86L108.20 718.33 M108.20 703.86L115.60 703.86 M108.20 718.33L114.50 718.33 M123.60 729.17L123.60 736.40 M123.60 729.17L130.00 729.17 M123.60 736.40L130.00 736.40 M103.40 711.10L103.40 732.79 M103.40 711.10L108.20 711.10 M103.40 732.79L123.60 732.79 M115.60 743.63L115.60 750.86 M115.60 743.63L130.00 743.63 M115.60 750.86L130.00 750.86 M109.80 747.25L109.80 758.09 M109.80 747.25L115.60 747.25 M109.80 758.09L130.00 758.09 M116.60 765.32L116.60 772.55 M116.60 765.32L130.00 765.32 M116.60 772.55L130.00 772.55 M103.80 752.67L103.80 768.94 M103.80 752.67L109.80 752.67 M103.80 768.94L116.60 768.94 M99.60 721.94L99.60 760.80 M99.60 721.94L103.40 721.94 M99.60 760.80L103.80 760.80 M90.60 669.97L90.60 741.37 M90.60 669.97L99.60 669.97 M90.60 741.37L99.60 741.37 M81.60 705.67L81.60 779.78 M81.60 705.67L90.60 705.67 M81.60 779.78L130.00 779.78 M120.00 787.01L120.00 794.24 M120.00 787.01L130.00 787.01 M120.00 794.24L130.00 794.24 M108.00 790.63L108.00 801.48 M108.00 790.63L120.00 790.63 M108.00 801.48L130.00 801.48 M115.60 808.71L115.60 815.94 M115.60 808.71L130.00 808.71 M115.60 815.94L130.00 815.94 M101.70 796.05L101.70 812.32 M101.70 796.05L108.00 796.05 M101.70 812.32L115.60 812.32 M107.50 823.17L107.50 830.40 M107.50 823.17L130.00 823.17 M107.50 830.40L130.00 830.40 M96.60 804.19L96.60 826.78 M96.60 804.19L101.70 804.19 M96.60 826.78L107.50 826.78 M108.00 837.63L108.00 844.86 M108.00 837.63L130.00 837.63 M108.00 844.86L130.00 844.86 M93.40 841.24L93.40 852.09 M93.40 841.24L108.00 841.24 M93.40 852.09L130.00 852.09 M84.70 815.48L84.70 846.67 M84.70 815.48L96.60 815.48 M84.70 846.67L93.40 846.67 M104.80 859.32L104.80 866.55 M104.80 859.32L130.00 859.32 M104.80 866.55L130.00 866.55 M96.60 862.93L96.60 873.78 M96.60 862.93L104.80 862.93 M96.60 873.78L130.00 873.78 M79.50 831.07L79.50 868.36 M79.50 831.07L84.70 831.07 M79.50 868.36L96.60 868.36 M69.80 742.73L69.80 849.72 M69.80 742.73L81.60 742.73 M69.80 849.72L79.50 849.72 M117.00 881.01L117.00 888.24 M117.00 881.01L130.00 881.01 M117.00 888.24L130.00 888.24 M106.30 884.62L106.30 895.47 M106.30 884.62L117.00 884.62 M106.30 895.47L130.00 895.47 M82.30 890.05L82.30 902.70 M82.30 890.05L106.30 890.05 M82.30 902.70L130.00 902.70 M62.20 796.22L62.20 896.37 M62.20 796.22L69.80 796.22 M62.20 896.37L82.30 896.37 M127.40 917.16L127.40 924.39 M127.40 917.16L130.00 917.16 M127.40 924.39L130.00 924.39 M116.60 909.93L116.60 920.78 M116.60 909.93L130.00 909.93 M116.60 920.78L127.40 920.78 M114.20 915.35L114.20 931.62 M114.20 915.35L116.60 915.35 M114.20 931.62L130.00 931.62 M123.20 938.85L123.20 946.08 M123.20 938.85L130.00 938.85 M123.20 946.08L130.00 946.08 M129.50 953.31L129.50 960.54 M129.50 953.31L130.00 953.31 M129.50 960.54L130.00 960.54 M119.50 942.47L119.50 956.93 M119.50 942.47L123.20 942.47 M119.50 956.93L129.50 956.93 M113.80 923.49L113.80 949.70 M113.80 923.49L114.20 923.49 M113.80 949.70L119.50 949.70 M110.50 936.59L110.50 967.77 M110.50 936.59L113.80 936.59 M110.50 967.77L130.00 967.77 M106.60 952.18L106.60 975.00 M106.60 952.18L110.50 952.18 M106.60 975.00L130.00 975.00 M105.50 963.59L105.50 982.24 M105.50 963.59L106.60 963.59 M105.50 982.24L130.00 982.24 M122.50 989.47L122.50 996.70 M122.50 989.47L130.00 989.47 M122.50 996.70L130.00 996.70 M120.90 993.08L120.90 1003.93 M120.90 993.08L122.50 993.08 M120.90 1003.93L130.00 1003.93 M112.10 998.50L112.10 1011.16 M112.10 998.50L120.90 998.50 M112.10 1011.16L130.00 1011.16 M103.40 972.91L103.40 1004.83 M103.40 972.91L105.50 972.91 M103.40 1004.83L112.10 1004.83 M126.70 1025.62L126.70 1032.85 M126.70 1025.62L130.00 1025.62 M126.70 1032.85L130.00 1032.85 M117.00 1018.39L117.00 1029.23 M117.00 1018.39L130.00 1018.39 M117.00 1029.23L126.70 1029.23 M116.30 1023.81L116.30 1040.08 M116.30 1023.81L117.00 1023.81 M116.30 1040.08L130.00 1040.08 M109.80 1031.94L109.80 1047.31 M109.80 1031.94L116.30 1031.94 M109.80 1047.31L130.00 1047.31 M96.60 988.87L96.60 1039.63 M96.60 988.87L103.40 988.87 M96.60 1039.63L109.80 1039.63 M120.40 1054.54L120.40 1061.77 M120.40 1054.54L130.00 1054.54 M120.40 1061.77L130.00 1061.77 M110.00 1058.15L110.00 1069.00 M110.00 1058.15L120.40 1058.15 M110.00 1069.00L130.00 1069.00 M121.60 1076.23L121.60 1083.46 M121.60 1076.23L130.00 1076.23 M121.60 1083.46L130.00 1083.46 M115.30 1079.85L115.30 1090.69 M115.30 1079.85L121.60 1079.85 M115.30 1090.69L130.00 1090.69 M101.00 1063.58L101.00 1085.27 M101.00 1063.58L110.00 1063.58 M101.00 1085.27L115.30 1085.27 M88.80 1014.25L88.80 1074.42 M88.80 1014.25L96.60 1014.25 M88.80 1074.42L101.00 1074.42 M76.50 1044.34L76.50 1097.92 M76.50 1044.34L88.80 1044.34 M76.50 1097.92L130.00 1097.92 M111.40 1105.15L111.40 1112.38 M111.40 1105.15L130.00 1105.15 M111.40 1112.38L130.00 1112.38 M64.70 1071.13L64.70 1108.77 M64.70 1071.13L76.50 1071.13 M64.70 1108.77L111.40 1108.77 M43.90 846.30L43.90 1089.95 M43.90 846.30L62.20 846.30 M43.90 1089.95L64.70 1089.95" stroke="#1a1a1a" stroke-width="1.15" fill="none" stroke-linecap="square"/>
<path d="M152.19 587.60L164.58 587.60 M152.19 587.60L152.19 614.60 M164.58 587.60L164.58 614.60 M238.92 609.00L251.31 609.00 M238.92 609.00L238.92 614.60 M251.31 609.00L251.31 614.60 M226.53 606.60L245.12 606.60 M226.53 606.60L226.53 614.60 M245.12 606.60L245.12 609.00 M214.14 605.40L235.82 605.40 M214.14 605.40L214.14 614.60 M235.82 605.40L235.82 606.60 M201.75 602.30L224.98 602.30 M201.75 602.30L201.75 614.60 M224.98 602.30L224.98 605.40 M263.70 599.20L276.09 599.20 M263.70 599.20L263.70 614.60 M276.09 599.20L276.09 614.60 M213.37 597.40L269.90 597.40 M213.37 597.40L213.37 602.30 M269.90 597.40L269.90 599.20 M189.36 593.70L241.63 593.70 M189.36 593.70L189.36 614.60 M241.63 593.70L241.63 597.40 M176.97 590.70L215.50 590.70 M176.97 590.70L176.97 614.60 M215.50 590.70L215.50 593.70 M158.38 584.50L196.23 584.50 M158.38 584.50L158.38 587.60 M196.23 584.50L196.23 590.70 M139.80 565.50L177.31 565.50 M139.80 565.50L139.80 614.60 M177.31 565.50L177.31 584.50 M313.26 587.60L325.65 587.60 M313.26 587.60L313.26 614.60 M325.65 587.60L325.65 614.60 M300.87 579.00L319.46 579.00 M300.87 579.00L300.87 614.60 M319.46 579.00L319.46 587.60 M288.48 572.90L310.16 572.90 M288.48 572.90L288.48 614.60 M310.16 572.90L310.16 579.00 M158.55 530.00L299.32 530.00 M158.55 530.00L158.55 565.50 M299.32 530.00L299.32 572.90" stroke="#1a1a1a" stroke-width="1.15" fill="none" stroke-linecap="square"/>
<text transform="translate(141.80,1123) rotate(-90)" x="0" y="0" font-size="11.8" text-anchor="end" fill="#3f58ad" textLength="34.27" lengthAdjust="spacingAndGlyphs">ARAF</text>
<text transform="translate(154.40,1123) rotate(-90)" x="0" y="0" font-size="11.8" text-anchor="end" fill="#a24fae" stroke="#a24fae" stroke-width="0.35" textLength="32.86" lengthAdjust="spacingAndGlyphs">YES1</text>
<text transform="translate(167.00,1123) rotate(-90)" x="0" y="0" font-size="11.8" text-anchor="end" fill="#3db83d" stroke="#3db83d" stroke-width="0.35" textLength="34.28" lengthAdjust="spacingAndGlyphs">CDK5</text>
<text transform="translate(179.60,1123) rotate(-90)" x="0" y="0" font-size="11.8" text-anchor="end" fill="#3f58ad" textLength="29.99" lengthAdjust="spacingAndGlyphs">TJP2</text>
<text transform="translate(192.20,1123) rotate(-90)" x="0" y="0" font-size="11.8" text-anchor="end" fill="#3f58ad" textLength="24.75" lengthAdjust="spacingAndGlyphs">ATR</text>
<text transform="translate(204.80,1123) rotate(-90)" x="0" y="0" font-size="11.8" text-anchor="end" fill="#3db83d" stroke="#3db83d" stroke-width="0.35" textLength="25.00" lengthAdjust="spacingAndGlyphs">HK2</text>
<text transform="translate(217.40,1123) rotate(-90)" x="0" y="0" font-size="11.8" text-anchor="end" fill="#3f58ad" textLength="23.57" lengthAdjust="spacingAndGlyphs">TK1</text>
<text transform="translate(230.00,1123) rotate(-90)" x="0" y="0" font-size="11.8" text-anchor="end" fill="#3f58ad" textLength="27.85" lengthAdjust="spacingAndGlyphs">MVK</text>
<text transform="translate(242.60,1123) rotate(-90)" x="0" y="0" font-size="11.8" text-anchor="end" fill="#3f58ad" textLength="36.42" lengthAdjust="spacingAndGlyphs">DGKA</text>
<text transform="translate(255.20,1123) rotate(-90)" x="0" y="0" font-size="11.8" text-anchor="end" fill="#3f58ad" textLength="33.57" lengthAdjust="spacingAndGlyphs">PDK2</text>
<text transform="translate(267.80,1123) rotate(-90)" x="0" y="0" font-size="11.8" text-anchor="end" fill="#3db83d" stroke="#3db83d" stroke-width="0.35" textLength="24.28" lengthAdjust="spacingAndGlyphs">NF2</text>
<text transform="translate(280.40,1123) rotate(-90)" x="0" y="0" font-size="11.8" text-anchor="end" fill="#3f58ad" textLength="59.99" lengthAdjust="spacingAndGlyphs">PRKAR1B</text>
<text transform="translate(293.00,1123) rotate(-90)" x="0" y="0" font-size="11.8" text-anchor="end" fill="#3db83d" stroke="#3db83d" stroke-width="0.35" textLength="39.27" lengthAdjust="spacingAndGlyphs">PRKCI</text>
<text transform="translate(305.60,1123) rotate(-90)" x="0" y="0" font-size="11.8" text-anchor="end" fill="#3f58ad" textLength="44.98" lengthAdjust="spacingAndGlyphs">PRKCD</text>
<text transform="translate(318.20,1123) rotate(-90)" x="0" y="0" font-size="11.8" text-anchor="end" fill="#a24fae" stroke="#a24fae" stroke-width="0.35" textLength="37.84" lengthAdjust="spacingAndGlyphs">IGF1R</text>
<text transform="translate(330.80,1123) rotate(-90)" x="0" y="0" font-size="11.8" text-anchor="end" fill="#3f58ad" textLength="32.14" lengthAdjust="spacingAndGlyphs">AKT1</text>
<linearGradient id="key" x1="0" x2="1" y1="0" y2="0"><stop offset="0" stop-color="#3953a6"/><stop offset="0.07" stop-color="#3a55a8"/><stop offset="0.186" stop-color="#6a70b5"/><stop offset="0.315" stop-color="#9a9ecf"/><stop offset="0.427" stop-color="#dcdcf0"/><stop offset="0.492" stop-color="#ffffff"/><stop offset="0.54" stop-color="#fff0f0"/><stop offset="0.62" stop-color="#ffcccc"/><stop offset="0.75" stop-color="#f59595"/><stop offset="0.879" stop-color="#f05a5a"/><stop offset="0.976" stop-color="#ee2d2d"/><stop offset="1" stop-color="#ee2d2d"/></linearGradient>
<rect x="47" y="560.5" width="33.8" height="61" fill="url(#key)" stroke="#222" stroke-width="0.8"/>
<path d="M47.3 621.3 L80.3 621.3 L80.3 615 L81 615" stroke="#5fd3e6" stroke-width="1.3" fill="none"/>
<line x1="44" y1="562.3" x2="47" y2="562.3" stroke="#222" stroke-width="1"/>
<line x1="44" y1="577.5" x2="47" y2="577.5" stroke="#222" stroke-width="1"/>
<line x1="44" y1="592.4" x2="47" y2="592.4" stroke="#222" stroke-width="1"/>
<line x1="44" y1="607.2" x2="47" y2="607.2" stroke="#222" stroke-width="1"/>
<line x1="44" y1="622.0" x2="47" y2="622.0" stroke="#222" stroke-width="1"/>
<line x1="46.9" y1="562.3" x2="46.9" y2="622" stroke="#222" stroke-width="1"/>
<text transform="translate(40.9,621.7) rotate(-90)" x="0" y="0" font-size="7.4" text-anchor="middle" fill="#222" stroke="#222" stroke-width="0.15" textLength="4.56" lengthAdjust="spacingAndGlyphs">0</text>
<text transform="translate(40.9,611.0) rotate(-90)" x="0" y="0" font-size="7.4" text-anchor="middle" fill="#222" stroke="#222" stroke-width="0.15" textLength="13.68" lengthAdjust="spacingAndGlyphs">200</text>
<text transform="translate(40.9,595.5) rotate(-90)" x="0" y="0" font-size="7.4" text-anchor="middle" fill="#222" stroke="#222" stroke-width="0.15" textLength="13.68" lengthAdjust="spacingAndGlyphs">400</text>
<text transform="translate(40.9,577.5) rotate(-90)" x="0" y="0" font-size="7.4" text-anchor="middle" fill="#222" stroke="#222" stroke-width="0.15" textLength="13.68" lengthAdjust="spacingAndGlyphs">600</text>
<text transform="translate(40.9,560.1) rotate(-90)" x="0" y="0" font-size="7.4" text-anchor="middle" fill="#222" stroke="#222" stroke-width="0.15" textLength="13.68" lengthAdjust="spacingAndGlyphs">800</text>
<line x1="46.9" y1="622" x2="46.9" y2="625" stroke="#222" stroke-width="1"/>
<line x1="53.5" y1="622" x2="53.5" y2="625" stroke="#222" stroke-width="1"/>
<line x1="60.4" y1="622" x2="60.4" y2="625" stroke="#222" stroke-width="1"/>
<line x1="67.2" y1="622" x2="67.2" y2="625" stroke="#222" stroke-width="1"/>
<line x1="73.7" y1="622" x2="73.7" y2="625" stroke="#222" stroke-width="1"/>
<line x1="80.7" y1="622" x2="80.7" y2="625" stroke="#222" stroke-width="1"/>
<text x="48.4" y="632.6" font-size="7.2" text-anchor="middle" fill="#222" stroke="#222" stroke-width="0.15" textLength="3.3" lengthAdjust="spacingAndGlyphs">0</text>
<text x="54.2" y="632.6" font-size="7.2" text-anchor="middle" fill="#222" stroke="#222" stroke-width="0.15" textLength="3.3" lengthAdjust="spacingAndGlyphs">2</text>
<text x="60.8" y="632.6" font-size="7.2" text-anchor="middle" fill="#222" stroke="#222" stroke-width="0.15" textLength="3.3" lengthAdjust="spacingAndGlyphs">4</text>
<text x="67.6" y="632.6" font-size="7.2" text-anchor="middle" fill="#222" stroke="#222" stroke-width="0.15" textLength="3.3" lengthAdjust="spacingAndGlyphs">6</text>
<text x="74.3" y="632.6" font-size="7.2" text-anchor="middle" fill="#222" stroke="#222" stroke-width="0.15" textLength="3.3" lengthAdjust="spacingAndGlyphs">8</text>
<text x="28.00" y="646.80" font-size="14.0" text-anchor="start" fill="#1a1a1a" textLength="78.00" lengthAdjust="spacingAndGlyphs" stroke="#1a1a1a" stroke-width="0.15">Enrichment score</text>
<text transform="translate(27.1,625.3) rotate(-90)" x="0" y="0" font-size="14.3" fill="#1a1a1a" stroke="#1a1a1a" stroke-width="0.12" textLength="72.6" lengthAdjust="spacingAndGlyphs">Frequency</text>
<rect x="338.2" y="1128.2" width="223" height="63.9" fill="none" stroke="#111" stroke-width="1.3"/>
<text x="341.50" y="1144.30" font-size="15.6" text-anchor="start" fill="#3db83d" textLength="149.12" lengthAdjust="spacingAndGlyphs">Downregulated kinase</text>
<text x="341.50" y="1165.00" font-size="15.6" text-anchor="start" fill="#a24fae" textLength="206.07" lengthAdjust="spacingAndGlyphs">Downregulated tyrosine kinase</text>
<text x="341.50" y="1185.40" font-size="15.6" text-anchor="start" fill="#3f58ad" textLength="129.85" lengthAdjust="spacingAndGlyphs">Upregulated kinase</text>
<text x="115.00" y="1220.00" font-size="16.6" text-anchor="start" fill="#000" font-weight="bold" textLength="279.10" lengthAdjust="spacingAndGlyphs">Kinases (TAMR-1 vs. MCF-7/S0.5)</text>
</svg></body></html>
